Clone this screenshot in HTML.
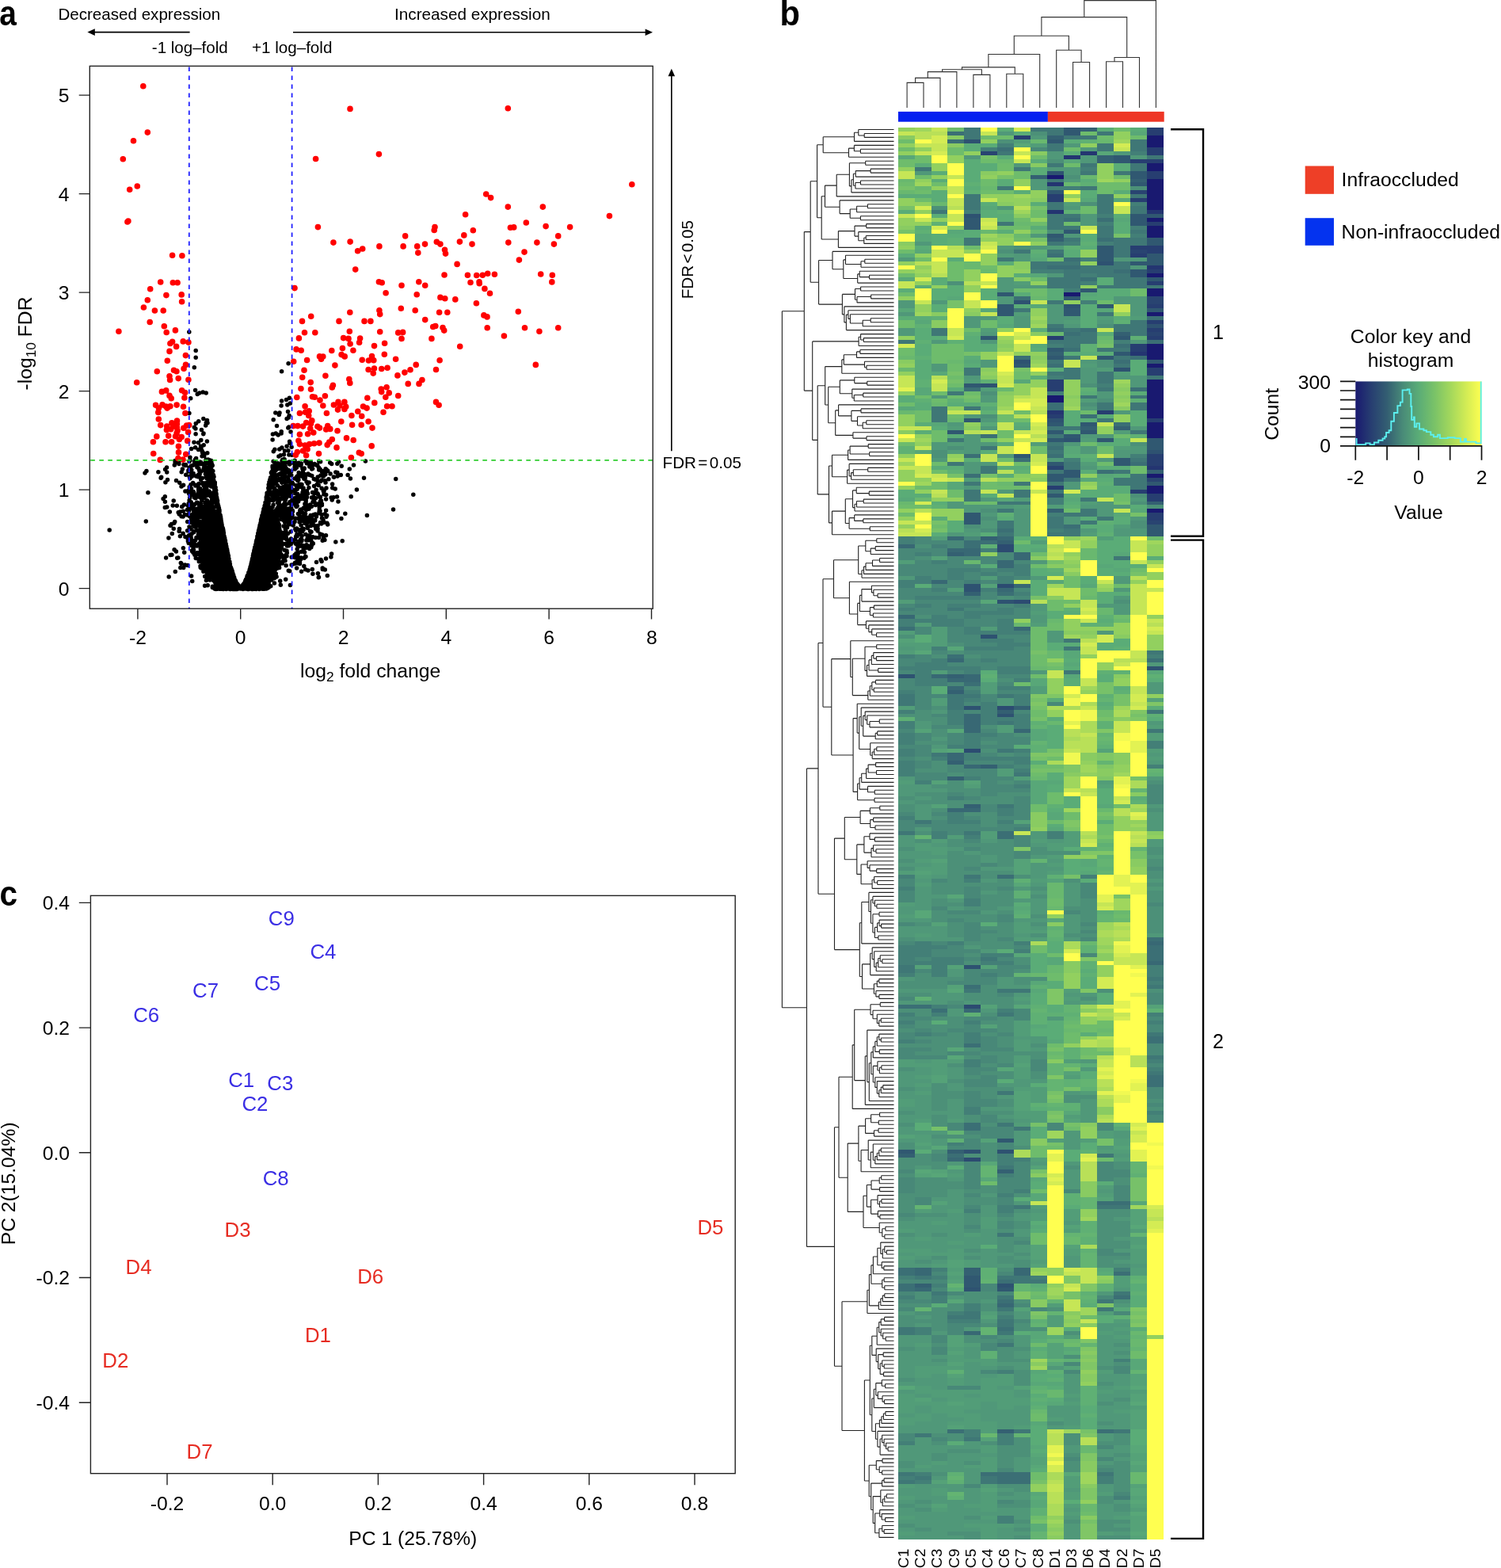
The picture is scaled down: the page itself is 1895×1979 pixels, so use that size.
<!DOCTYPE html>
<html lang="en"><head><meta charset="utf-8"><title>Figure</title>
<style>
html,body{margin:0;padding:0;background:#fff}
body{width:1895px;height:1979px;overflow:hidden}
svg{display:block}
svg text{font-family:'Liberation Sans', sans-serif}
</style></head><body>
<svg width="1895" height="1979" viewBox="0 0 1895 1979">
<g id="panel-a">
<path d="M302.4 742.6L302.4 740.1L300.4 737.6L298.9 735.8L297.1 731.4L294.6 725.2L290.7 712.3L286.7 692.8L283.6 677.2L279.3 655.5L276.9 643L257 643L251.8 667.9L250.5 692.8L254.4 715.2L263.5 730.1L272.5 738.9L284.2 743.2L303.7 744.1z" fill="#000"/>
<path d="M305 742.6L305 740.1L307 737.6L308.5 735.8L310.3 731.4L312.8 725.2L316.9 712.3L321.1 692.8L324.7 677.2L329.6 655.5L332.4 643L350.4 643L355.6 667.9L356.9 692.8L353 715.2L343.9 730.1L334.9 738.9L323.2 743.2L303.7 744.1z" fill="#000"/>
<path d="M315.4 718.2h0M284.4 683.4h0M329.5 660.5h0M312.1 727.9h0M334 641h0M298.1 735.1h0M286.9 695.7h0M297.1 732.4h0M318.1 709.3h0M332.4 647.8h0M321.4 694.1h0M332.5 649.6h0M269 601h0M327.8 674.9h0M292.1 718h0M272.7 618.9h0M286 691.8h0M280.7 668.8h0M297.2 732.8h0M317.3 715.4h0M309.8 733.1h0M324.8 679.3h0M295.2 729.6h0M270.8 610h0M326.4 675.4h0M290.9 718.2h0M318.7 705.1h0M287.1 700.1h0M326.1 674.8h0M273.2 630.8h0M271.9 616.4h0M313.6 725.8h0M296.9 732.5h0M322.7 687.6h0M305.4 742.6h0M306.8 738.5h0M276.3 643.2h0M323.9 683.7h0M342.3 605.2h0M312.8 726.1h0M320 699.7h0M330.3 654.7h0M331.1 657.1h0M287.9 700.3h0M316.1 715.6h0M284.8 689.2h0M341 611.3h0M283.7 685.1h0M306.9 738.1h0M265.9 582.7h0M318.3 706.9h0M333.6 641.6h0M280.1 665h0M336.1 635.7h0M344.1 589.4h0M343.1 596.1h0M340.5 608.8h0M292.6 721.4h0M320.8 695.2h0M326.5 674.8h0M332.3 648.2h0M279.8 661.4h0M278.7 657.9h0M305.2 742h0M289.9 714.7h0M285.8 689.8h0M278.6 652.7h0M288.1 702.4h0M270.9 619.6h0M279.6 659.7h0M280.9 669.4h0M273.9 629.4h0M286.2 700.6h0M292.2 720.4h0M326.8 671h0M335 634.2h0M291.9 717.6h0M344.1 599.7h0M346.2 582.4h0M284.8 687.7h0M321.7 691h0M282.1 671.3h0M322.9 688.9h0M346.6 583.2h0M294.6 725.6h0M287.6 698.8h0M326.9 674.3h0M316 718.4h0M278.1 650.2h0M295.7 729h0M296.5 731.8h0M331 653.1h0M287.2 699.2h0M313.9 724.9h0M309.4 734.4h0M290.3 713.8h0M305.5 739.7h0M278.6 653.4h0M327.7 665.8h0M282.4 672.7h0M273.2 631.3h0M310.9 733.8h0M310.6 731.2h0M312.1 728.9h0M270 601.7h0M327.5 668.2h0M326.5 670.4h0M276.6 654.1h0M305.9 742.4h0M289.4 710.1h0M302.2 741.8h0M309 735.9h0M321.3 693.4h0M271.1 621.1h0M279.4 661h0M276.2 648.1h0M274.6 632.1h0M323.4 684.2h0M276.4 641.2h0M288.4 701.8h0M319.8 699.6h0M328.1 665.1h0M272.3 618.5h0M319.6 701.5h0M286.6 693.3h0M319.9 699.1h0M274 630.6h0M328.1 667.1h0M340.7 609.9h0M292.6 719.7h0M279.1 660.3h0M306.1 742h0M326.6 669.6h0M322.1 691.4h0M302.3 742.3h0M346.5 592.7h0M286.6 695.7h0M276.9 647.2h0M325.7 673.3h0M288.3 702.2h0M329 659.9h0M268.3 599.5h0M266.4 594.8h0M323 687h0M337.1 623h0M331.8 652.4h0M316.3 715.5h0M280 662.1h0M343.2 595.9h0M312 727.9h0M311.9 727.9h0M268.5 599h0M326 675.6h0M310.1 732.6h0M276.1 640.7h0M325.3 677.9h0M344.1 588.2h0M336.2 627.8h0M332.5 647.6h0M271.3 609h0M288.2 702.4h0M274.2 632.2h0M274.3 637.8h0M319.6 701.8h0M330 657.7h0M332.6 645.3h0M323.3 693.8h0M319.7 702.6h0M328.6 661.9h0M335.7 634.6h0M308.1 737.1h0M289.4 710.5h0M288.9 705.2h0M319.8 706.5h0M335.2 634.9h0M310.5 732.9h0M342.7 597.2h0M282.8 689.3h0M346 591.1h0M324 682.1h0M316.8 715.2h0M289.9 709h0M340 609.6h0M323.8 682.3h0M289.1 711.4h0M326.5 676.1h0M310.6 732.5h0M305.5 742h0M301 738.7h0M326.8 673h0M273 623.1h0M322.9 690.9h0M308.3 737.1h0M269.4 599.6h0M312.3 729h0M281.5 670.3h0M326.3 675.1h0M269 605.5h0M284.4 682.2h0M319.6 702.9h0M325.6 678.5h0M339.2 611.8h0M293.2 726h0M313.8 723.3h0M283.8 682.4h0M339.4 616.7h0M332.4 646.1h0M315.1 719.7h0M320.5 701.3h0M305.9 740.8h0M317.9 709.7h0M313.7 726.2h0M330.4 653.6h0M321.6 692.8h0M285.7 692h0M341.6 602.7h0M317.4 710.7h0M282.8 676.9h0M281.6 668h0M275.8 638.9h0M292.4 719h0M293.4 725h0M339.3 612.3h0M276.1 642.2h0M340.8 605.6h0M329.5 658.8h0M313.8 722.7h0M297.5 735.9h0M293.1 723.5h0M286 693h0M332.7 648.3h0M326.6 671.7h0M332.9 642.4h0M280.2 668.4h0M327.7 666h0M312.2 727.8h0M329.9 660h0M337.3 623.9h0M297.1 733.8h0M293.1 720.6h0M266.8 581.4h0M280.1 663h0M287.5 698.1h0M329 660.7h0M308.1 736.6h0M274.1 632.6h0M277 652.7h0M277 649.2h0M286.7 701.5h0M309.5 737.1h0M323.7 685.1h0M332 648.1h0M289.3 709.6h0M312.9 727.1h0M269.1 601.6h0M334.2 638.2h0M297.7 735.5h0M309.9 733.2h0M300.2 740.6h0M318.1 710.3h0M279.2 660.6h0M322.6 692.5h0M310.3 734.8h0M301.3 741.6h0M281.9 669.4h0M308.6 736.3h0M338.6 621.3h0M331.5 653h0M334.1 638.7h0M321.4 700.5h0M337.1 622.2h0M285.1 689.4h0M272.9 634.9h0M277.8 650.3h0M318.1 708.3h0M292.4 719.2h0M313.7 725.3h0M307.2 737.9h0M336.2 630.5h0M333.2 647h0M339.9 610.3h0M268.8 594.6h0M317.8 709.3h0M271.3 611.2h0M312.3 726.8h0M326.1 674h0M319.7 701.1h0M323.2 690.7h0M279.6 661.1h0M326.1 675.8h0M278.9 655.5h0M319.3 709.9h0M328.1 663.1h0M323.3 686.4h0M287.5 700.4h0M273.9 629.8h0M284.3 685h0M295.4 728.7h0M300.8 738.5h0M279.7 661.5h0M329.5 656.6h0M283.8 686.2h0M316.1 717.5h0M290.3 715.2h0M339.2 617.4h0M288.2 704.1h0M321.6 693.8h0M317.1 717.4h0M322.5 689.7h0M317.1 712h0M292.9 726.1h0M326 679.7h0M325 678h0M274.5 640.2h0M333.6 644.9h0M281.8 673h0M336.8 625.7h0M272.8 632.6h0M321.8 691.9h0M338.8 616h0M287.6 702.1h0M282.8 676.3h0M291.4 716.6h0M292.8 726.2h0M278.9 655h0M282.8 679.1h0M292.9 722.8h0M320.2 698.2h0M306 740.4h0M284.7 685.6h0M318.4 706.3h0M287.4 707.2h0M283.7 679.2h0M270.8 611.6h0M330.9 651.6h0M336.4 639.2h0M281.1 666.8h0M286.8 699.3h0M319.9 701.6h0M321.3 693.8h0M326.5 673.2h0M345.1 592.3h0M339.9 608.6h0M313.1 726.2h0M318.8 704.8h0M343.9 596.3h0M274.6 634.4h0M337.9 630.5h0M281.5 671.6h0M319.4 704.7h0M329 662.8h0M328.3 663.1h0M329.8 655.3h0M281.4 666.9h0M274.3 634.9h0M295.9 730.4h0M272.9 632.1h0M278.7 664.2h0M299.6 737.1h0M330.5 657.5h0M288.9 708.5h0M283.1 677.3h0M285.3 698.6h0M321.1 694.2h0M274.4 639.9h0M278.6 654.3h0M321.6 694h0M277 644.1h0M270.5 614.9h0M273.1 629.9h0M289.2 708.2h0M294 726.2h0M308.3 736.6h0M282.6 682.9h0M272.1 615.3h0M322.4 691.1h0M335 638.7h0M313.9 723.4h0M277.1 649.5h0M324.7 679.9h0M266.7 590.8h0M305.3 740.1h0M295.4 728.3h0M290.2 712.3h0M339.5 617.3h0M334.5 640.9h0M334.8 637.3h0M291.2 715.7h0M280 663.9h0M282 671.6h0M292.4 719.1h0M339.8 615.3h0M278.2 650.9h0M273.7 628.8h0M334.2 644.5h0M286.3 692.7h0M275.7 645.2h0M306.1 742.3h0M326.9 674.2h0M297.9 735.8h0M270.4 611.2h0M271.1 612h0M284.3 686.5h0M289.6 710.2h0M319.4 701.4h0M313.3 728.4h0M267.6 597.4h0M290.4 712h0M316.9 713.4h0M282.7 677.5h0M289.5 718.5h0M313.7 725.4h0M285.2 686.8h0M345.1 582.3h0M330.9 650.8h0M346.9 589.4h0M317.6 710.1h0M330.8 652.4h0M279.9 668.4h0M332.7 645.8h0M314.3 723.2h0M275.8 638.9h0M283.3 679h0M319.6 701.2h0M342.4 596.5h0M273.6 627.7h0M297 733.6h0M320.7 701h0M327.9 664.7h0M289.7 711h0M269.1 602.3h0M344.6 592.3h0M281 669.4h0M311 733.4h0M277.6 653h0M326.5 676h0M320.4 698.7h0M328.6 663.1h0M296.7 733.4h0M328.3 665.3h0M319.7 700.9h0M265.4 581.1h0M320.9 695.8h0M286.9 695.1h0M301.9 740h0M305.9 742.3h0M279.2 657.4h0M288.7 707.3h0M292.3 720.3h0M288.9 710.8h0M312.5 728.5h0M318.3 709.3h0M273.2 628h0M297.6 733.6h0M284.7 688.3h0M306.7 740.1h0M280.7 665.5h0M324.1 682.5h0M301.3 741.8h0M293.7 723.1h0M270.4 610.4h0M278.2 656.7h0M300.9 739.3h0M312.8 726h0M333.1 645.6h0M294.3 726h0M328.8 662.7h0M324.9 676.9h0M332.1 646.8h0M344.2 590.3h0M319.4 703.7h0M270.3 612.4h0M268.2 587.6h0M283.8 683.6h0M296 731.4h0M315 720h0M270.6 616.9h0M286.8 699.6h0M285.8 698.3h0M288 702h0M281.8 672.4h0M327.3 667.1h0M292.1 718.6h0M325.2 676.8h0M319.9 703.2h0M276.2 643.9h0M280.5 668h0M321.7 692.3h0M319.1 706.7h0M302.2 740.7h0M280.1 663.1h0M326.8 679.8h0M299.4 743.5h0M284.1 742.9h0M336.5 743h0M292.1 742.7h0M293.2 742.7h0M328.7 741.8h0M326.6 741.2h0M321.1 743.3h0M322.2 741h0M318.6 743.2h0M333.3 741.5h0M268.3 740.2h0M322.7 742.1h0M336.7 742.1h0M308.8 741.3h0M330.3 742.3h0M311.4 742.4h0M300.7 742.5h0M319.6 743.2h0M307.7 742.2h0M295.5 742.4h0M328.7 741.2h0M303.7 742.7h0M289.7 743.3h0M278.4 741.8h0M274.3 742.7h0M333.7 742.3h0M327.8 741h0M336.5 742.7h0M333 742.1h0M268.8 740.7h0M303.5 743h0M333.7 743.3h0M339.3 740.5h0M304.9 741.3h0M295.8 743.4h0M293.5 742.4h0M335.7 742.5h0M316.3 742.9h0M294.7 743.5h0M296.6 741.8h0M330.8 742.9h0M336.9 741.4h0M312.6 743.5h0M339.1 741.4h0M326.3 742.1h0M280.2 741.9h0M327 739.8h0M304.6 741.2h0M317.3 741.6h0M326.6 740.5h0M298.1 743.4h0M279.2 743.2h0M304 741.9h0M281.4 742.7h0M311.1 741.7h0M293.2 741.5h0M271 743h0M297.4 743.3h0M317.3 742.4h0M268.3 741.4h0M309.9 740.9h0M315.7 743h0M307.5 741.9h0M287 742.5h0M339.2 740.9h0M309 743h0M279.2 743.2h0M322.2 743.1h0M280.2 743.2h0M305.3 742.7h0M325.6 741.8h0M272.4 740.8h0M291.1 743.4h0M319.1 743h0M287 742.9h0M275.1 742h0M292.9 742.5h0M300.1 743.2h0M331.6 743.3h0M309.6 742h0M312.3 743.2h0M285.8 740.3h0M329 742.7h0M290.5 741.4h0M289.7 742h0M311 741.9h0M335.8 742.8h0M285.3 741.8h0M283.8 742.1h0M290.1 742.4h0M324.6 742.4h0M285.4 742.9h0M281.3 742.3h0M337.4 742.4h0M276.2 741.7h0M306.1 742.5h0M272.7 742.4h0M276.8 743h0M285.5 742.4h0M281.7 743.4h0M270.5 741.9h0M315.4 743.1h0M318.4 742.9h0M274.6 743.2h0M277.1 740.8h0M299.7 742.2h0M279.4 741.3h0M293.2 743.3h0M336.4 741.7h0M282.9 741.9h0M284.2 743.1h0M300.3 742h0M286.6 741.9h0M332.2 742.4h0M285.6 742.8h0M311.4 742.9h0M276.8 740.6h0M304.6 742.5h0M323.1 743.3h0M295.5 742.5h0M290.2 742h0M295.8 742.8h0M328.8 743.1h0M290.9 743.2h0M308.1 743h0M293.8 742.3h0M272.7 743.4h0M290.2 743.5h0M319.2 742.8h0M288.2 740.9h0M323.3 741.7h0M331 743.1h0M287.7 743h0M270.1 742h0M293.1 741.6h0M297.5 742.3h0M285.7 741.6h0M328.5 742.3h0M281 741.9h0M276.2 741.5h0M318.9 742.3h0M270.9 742.2h0M282.1 743.4h0M289.6 743.3h0M290.2 743.3h0M313.6 742.4h0M308.7 741h0M319.2 743.5h0M316.9 742h0M292.9 740.8h0M323.4 743.6h0M288.4 740.8h0M311.4 742.8h0M271.4 743.2h0M324.5 742.9h0M283 741.5h0M274.2 742.3h0M317.6 741.7h0M327.2 742.1h0M288.1 740.5h0M298.3 741.7h0M334.4 742.6h0M327.3 741.3h0M312.8 743.1h0M317.9 743.5h0M298.6 740.2h0M277.1 743.3h0M322.4 741.4h0M325.5 743h0M286.7 739.8h0M313.5 742.5h0M306.8 743.6h0M293.6 743.1h0M297.4 743.2h0M277.8 742.4h0M318.5 743.1h0M285.3 742.6h0M304.8 740.3h0M293.1 742.4h0M289.4 743h0M308.2 743h0M291.8 742.8h0M322.3 741.9h0M280.1 742.6h0M300.9 741.8h0M322.7 743.2h0M288.7 743h0M293.7 743.5h0M288.1 743.1h0M282.1 743.1h0M276.1 742h0M291.2 742.2h0M280 743.3h0M273.1 738.8h0M321.6 743.3h0M274 742.7h0M308.2 739.5h0M275.8 742h0M281.6 743.5h0M306.8 740.2h0M314 743.4h0M312.8 741.6h0M286 742.7h0M285.6 743.4h0M323.3 743.3h0M327.9 743.3h0M313.6 742.7h0M328.4 742.8h0M324 743.2h0M327.3 743.5h0M281.2 742.3h0M326.9 743h0M307.4 742.3h0M294.4 743.1h0M271 742.1h0M308.5 741.7h0M318.4 741.6h0M332.6 742h0M303.7 743h0M353 631.3h0M243.9 652.8h0M266.3 622.2h0M260.8 615.8h0M356.5 621.3h0M352.3 621h0M368.7 619.7h0M239 582.6h0M250.5 648.6h0M254.8 631.5h0M251.7 618.2h0M347.7 604h0M344.6 605.3h0M256.4 622.9h0M273.1 624.3h0M351.7 588.7h0M339.8 614.6h0M257.1 644.8h0M261.3 647.2h0M364.4 621.2h0M270.8 624.7h0M246.6 612.3h0M265.7 637.6h0M242 622.2h0M240.8 612.3h0M343.4 599.1h0M367.8 599.7h0M267.5 604.2h0M363.4 620.7h0M334.1 651.4h0M255.4 639.6h0M345 603.3h0M351.3 589.7h0M349.9 642.1h0M357 593.9h0M242.6 624.6h0M338.4 629.2h0M348.5 626.9h0M263.5 625h0M343.1 611.1h0M340.2 616.9h0M239.2 614.8h0M360.7 612.5h0M252.3 597h0M266.4 626.8h0M240 589.9h0M359.4 597.8h0M263.6 607.1h0M369.4 629.6h0M339.1 635.4h0M259.8 620.2h0M270.9 631.1h0M342.1 631.2h0M369.4 611h0M336.3 651.3h0M353.9 638.5h0M269.8 606.2h0M253.6 583.4h0M351.3 639.4h0M355.8 598.9h0M343.3 603.9h0M257.8 628.8h0M259.1 634.4h0M352.4 586.1h0M253 648.9h0M360.5 642.7h0M346.7 594.2h0M255.4 610.5h0M264.4 609.5h0M249.1 634.3h0M265.3 596.9h0M259.5 582.4h0M356 618.6h0M276.6 646.5h0M349.9 648.6h0M239.9 639.8h0M359.3 640.1h0M238.2 635.4h0M245.5 628.1h0M251.8 648.2h0M240.8 623.4h0M267.6 636.8h0M339 621.6h0M355.5 598.1h0M243 641.6h0M259.5 609.8h0M246.4 626.9h0M243 639.8h0M334.1 651.2h0M271 645.9h0M264.1 646.4h0M242.3 601.2h0M361.5 636h0M257.4 650.2h0M258.1 644.3h0M248 642.3h0M263.5 644.8h0M365.2 583.1h0M340.3 640.2h0M350.1 649.8h0M344.3 612.8h0M355.9 603.3h0M250 613.3h0M248.9 589.8h0M346.5 630h0M262.2 625h0M267.5 586.1h0M268.1 625.7h0M363.6 644.6h0M249.8 649.4h0M351.7 606.3h0M257.2 591.3h0M262.5 599.3h0M256.6 624.5h0M264.8 604.1h0M268.8 613.7h0M241.2 633.8h0M258.6 615.3h0M367 642.7h0M348.2 593.6h0M241.8 593.2h0M363.1 625.4h0M339.8 641.9h0M362 627.2h0M357.6 581h0M361.8 618.4h0M250.4 642.1h0M339.2 615.4h0M345 628.4h0M352.6 638.5h0M358.6 640.1h0M339.4 629.6h0M252.1 646.4h0M260.7 638.4h0M262.8 608.3h0M344.4 621h0M261.3 631.6h0M263.6 594.4h0M262.8 601.6h0M256.6 625.6h0M360.1 587.9h0M348.3 610.2h0M346.4 592.3h0M347.4 588.7h0M362.8 616h0M246.8 613h0M268.9 644.4h0M352.4 598.6h0M358.3 603.8h0M357.5 649h0M369.8 610.8h0M264.3 642.5h0M339.9 630.4h0M257.2 612.8h0M341.9 649.3h0M351.3 649.2h0M349.3 619.4h0M245.5 626.6h0M352 586.6h0M351.1 630.3h0M342.7 612.2h0M253.9 595h0M347.6 585.5h0M260.3 648.8h0M240.6 640h0M250.6 617h0M269.2 631.7h0M361.2 646.1h0M251.2 623h0M357.3 587.5h0M357.7 648.9h0M342.5 610.9h0M245.6 642h0M259.1 646.2h0M250.4 621.9h0M239.9 581h0M359.9 627.8h0M353.7 590.6h0M272.1 646.6h0M253.6 650.6h0M239.7 628.1h0M347.8 628.9h0M255.5 646.1h0M259.2 610h0M254.5 643.4h0M356.3 625.9h0M258.4 589.9h0M351.2 641.1h0M269.8 626.5h0M334.8 638.3h0M349.9 590h0M239.8 651.9h0M250 611.8h0M345.5 650.7h0M253.8 636.1h0M261.4 623.2h0M359.2 635.3h0M263.9 642h0M338.5 638.6h0M369.8 582.5h0M361 617h0M252.1 598.7h0M363.7 607.8h0M343.7 601.2h0M356.7 583.2h0M244.4 643.2h0M244.2 599.2h0M244.5 621.5h0M239.1 631.4h0M238.8 644.6h0M339.2 619.9h0M357.2 587.4h0M246.2 624.7h0M239.8 603.7h0M355.9 646.7h0M253.8 628.4h0M334.1 651.8h0M253.4 622.7h0M338.3 628.7h0M354.6 592h0M340.6 646.6h0M251.1 621h0M250.3 644.2h0M354.2 588.7h0M257.6 624.5h0M256.5 641.2h0M367.7 640.3h0M263.6 634.8h0M364.4 613.1h0M365.6 585.9h0M347.5 607.9h0M251.1 626.8h0M256.7 625.8h0M257.7 587.5h0M255.3 603.6h0M365.5 598.7h0M264.7 650.4h0M355.5 599h0M238.4 622.6h0M262.4 604.1h0M249.9 601.7h0M352.8 641.3h0M263.8 595.6h0M265.2 640.6h0M345.1 631.5h0M345.2 624.5h0M269.5 633.7h0M244.1 620.4h0M271.6 630.2h0M255.3 619h0M266.7 598.6h0M351 586.7h0M244.5 650h0M351.7 647.9h0M261.1 604h0M265.4 644.9h0M252.2 583.1h0M261.9 597h0M264 599.3h0M343.7 594.8h0M351.1 590h0M346.3 648.2h0M250.9 591.4h0M254.7 623.8h0M361.4 592h0M250.7 642h0M241.6 616.8h0M251.6 593.7h0M249.4 643.5h0M266.7 608.7h0M245.5 582.6h0M266.7 642.9h0M352 620.8h0M343.3 607.5h0M244 637.9h0M246.4 650.8h0M346.7 616.5h0M358.8 607.5h0M257.1 624.1h0M242.8 636.6h0M264.5 583.5h0M258.5 647.8h0M357.1 620.2h0M264 620.1h0M341 623.9h0M350.4 599.8h0M358 638.7h0M352.2 633.8h0M247.7 582.7h0M248.7 586.5h0M269.5 648.4h0M358.7 590.6h0M263.4 633.9h0M344 640.3h0M259.4 594.9h0M335.9 645.3h0M237.9 618.9h0M350.1 612.3h0M239.7 601.7h0M345.1 600.1h0M353.2 637.5h0M363.1 652.3h0M365.4 649.8h0M354.8 629.6h0M252 618h0M366.1 635.4h0M353.2 620h0M260.1 601.9h0M356.7 624.1h0M251.6 635.6h0M272 618.9h0M362.8 596.1h0M274 650.2h0M252 585.8h0M271.6 634h0M257.1 641.2h0M365.5 596.1h0M352 591.5h0M252.8 616.7h0M341.4 613.6h0M359.6 652.4h0M362.3 593.1h0M369 645h0M359 646.2h0M360.3 631.1h0M369 609.2h0M334.2 647.5h0M256.8 609.7h0M354.2 623.5h0M248.3 586.8h0M244.1 587h0M363.9 603.8h0M239.8 640h0M265.6 634.7h0M356 582.1h0M244.1 597.9h0M267.7 633.2h0M338.9 651.4h0M264.5 586.5h0M241.9 597h0M256.1 626.4h0M256.4 641.3h0M240 614.1h0M357.4 603.4h0M267.7 598.6h0M357.5 651h0M368.5 634.2h0M253.7 605.6h0M344.2 651.9h0M349.5 644.8h0M266.7 603.3h0M273.7 640.1h0M357.4 623.4h0M243.3 636.6h0M251.1 610.6h0M333.6 642.6h0M251.5 625.3h0M275.1 636.8h0M248.7 626.7h0M345.1 637.1h0M348.6 606.6h0M251 649.3h0M348.2 644.6h0M273 646.2h0M338.9 640.4h0M367.3 619.1h0M359.6 636.9h0M239 590.1h0M350.8 584.8h0M366.8 633.8h0M259.5 647.6h0M356.3 638.1h0M369.3 644.3h0M355.9 652.2h0M258.8 651.2h0M268.3 614.2h0M355.9 609.3h0M367.7 594.9h0M347.3 650.4h0M359.8 639.1h0M261.6 585.1h0M367.8 616h0M269 608.1h0M237.5 638.4h0M356.6 628.2h0M253.3 652.9h0M352.3 620.2h0M268.1 643h0M353.1 615.3h0M268.3 648.8h0M347.9 610.7h0M356.3 588.8h0M266.9 583.9h0M277 645.4h0M368.6 632.1h0M363.8 614.7h0M353.3 605.4h0M352.6 588.1h0M350.7 626.5h0M247.9 647.7h0M250.7 618.9h0M258.6 652.3h0M251.7 601.8h0M361.3 583.7h0M251 627h0M268.8 643.7h0M346.6 623.6h0M367.6 610.9h0M347.3 602.1h0M262.9 641.3h0M244.1 597.6h0M267.4 631.2h0M243.6 609.6h0M266.8 600.6h0M336.6 652.6h0M268.5 652.7h0M342.5 615.2h0M340.1 618.4h0M336.2 646.9h0M357.7 607.9h0M359 595.8h0M345.2 602.9h0M245.7 636.4h0M254.2 646.2h0M362 601.9h0M274 636.3h0M267.3 635.6h0M358.8 614.5h0M357.5 606.8h0M360.7 636.6h0M239.2 601.2h0M358.7 630.2h0M259.2 589.6h0M350.1 644.3h0M248.9 626.8h0M349.1 625h0M358.3 618.5h0M259.8 626.1h0M252.8 585.5h0M355.3 620.1h0M369.1 650.3h0M354.6 619.3h0M359.9 648h0M336.3 647.9h0M346.8 597.7h0M339.4 644.1h0M267.3 644.5h0M241.4 588.6h0M266.1 609.3h0M359.2 601.3h0M267.8 628.5h0M270.8 629.8h0M270.2 628.3h0M364.4 593.6h0M354.1 597.8h0M264.6 584.2h0M267 593.8h0M343.9 625.9h0M338.8 645h0M252.2 623.3h0M267.9 598.4h0M237.9 594.9h0M267.6 594.3h0M250.5 599.2h0M242.7 649.5h0M361.2 628.5h0M361.7 651.1h0M332.4 647.9h0M259.1 638.6h0M258.8 588.4h0M265.2 600h0M256.9 593.1h0M365.1 622.9h0M344.3 626.8h0M254 650.4h0M346.9 601.2h0M362.7 615.1h0M359.6 636.9h0M242.2 637.1h0M358.2 625.5h0M265.6 638.4h0M250.8 616.8h0M369.9 583.9h0M241.1 639.7h0M263.2 590.2h0M241.5 588.1h0M255.2 585.6h0M362 607.4h0M340.1 609.5h0M350.3 622.6h0M359.8 601.2h0M350.5 634.5h0M247.6 600.9h0M266.8 601.6h0M356.9 595.4h0M355.4 619.7h0M246.9 628.7h0M336.1 638.6h0M341.9 608.3h0M350 630.2h0M347.4 618.3h0M239.7 617.8h0M357.9 647.7h0M263.5 623.8h0M357.5 627.5h0M364.4 642h0M359 591.6h0M366.7 607.5h0M352 631.4h0M361.5 591.5h0M264.1 604.1h0M261.5 613.3h0M365.8 644.6h0M349 629.6h0M252 585.8h0M345.2 628.9h0M267.3 596.2h0M344.3 625h0M266.6 614h0M270 651.4h0M340.3 648.8h0M241.1 601h0M270 621.6h0M262.2 591h0M360 589.9h0M354.2 639.9h0M263.2 582.9h0M262 621.6h0M368.9 636.2h0M270.5 640.3h0M359.3 627.6h0M357.1 614.7h0M361.5 621.2h0M242.3 620.4h0M367.6 624.4h0M357.5 625.3h0M361.3 595h0M245.6 652.6h0M352.6 604.6h0M239.1 623.4h0M265 608.5h0M366 633.5h0M237.9 593.7h0M243.2 641.5h0M241.2 611.6h0M266.6 645.5h0M347.4 590h0M248.4 634.4h0M257.9 645.9h0M251.4 637.5h0M366.7 626.2h0M254.7 622.1h0M259.4 598.2h0M239.5 624h0M238 649.1h0M252.1 643.5h0M363.9 646.7h0M348.5 619.4h0M263.9 600.3h0M272.2 639.6h0M267.4 728.4h0M268.2 707.4h0M244.4 694.1h0M341.4 651.5h0M237.3 680.6h0M241.8 688.4h0M265.6 667.8h0M369.7 660.2h0M354.1 673.7h0M338.2 723.8h0M343.2 692.2h0M362.1 686.3h0M269.1 644.8h0M259.8 646.2h0M273.4 709.6h0M343.8 728.1h0M238.2 685.4h0M357.2 647.9h0M248.8 656.3h0M344.4 681.4h0M340.8 686.4h0M236.5 650.1h0M272.6 739.9h0M344.9 646h0M258.6 739.3h0M274 660.1h0M348.4 646.3h0M242.7 733.6h0M343.3 667.6h0M358.2 704.7h0M236.4 643.6h0M342.7 652.7h0M338.6 724.8h0M268.4 662.3h0M253 684.3h0M333.5 687.3h0M342 699.1h0M347.7 693.7h0M341.4 665.8h0M257.2 659.1h0M251.4 650.4h0M336.1 733.4h0M345.3 710.5h0M258.1 671.5h0M337.6 735.7h0M268.5 677.2h0M360.4 668h0M340.5 701.4h0M341.4 675h0M349.4 673.3h0M353.7 733.3h0M351.9 675.1h0M252.4 672.4h0M335 708.8h0M261.2 669.9h0M247.2 704.5h0M349.7 645.1h0M360.7 731.2h0M358.6 703.2h0M346.4 736h0M237.4 683h0M267 685.2h0M261.6 693.2h0M355.4 690.5h0M352.2 713.2h0M249.1 699.4h0M343.5 688.5h0M244.6 671.8h0M348.3 711.9h0M256 660.6h0M257.2 719.4h0M346.7 710.4h0M266.6 668.9h0M358 663.9h0M247.9 678.4h0M248.8 689.1h0M265.7 662h0M343.2 704.3h0M367.2 671h0M258.4 697.5h0M339.9 645.5h0M258.1 653.6h0M347.3 665.1h0M349.7 652.4h0M342.7 682.3h0M347.4 702.2h0M267.3 679.5h0M356.3 674.6h0M365.7 720.7h0M354.9 683.2h0M269.8 690.6h0M348.9 709.9h0M337.3 652.5h0M273 703.5h0M264.2 661.4h0M259.7 686.9h0M264.5 730h0M333 719.5h0M340.9 656.5h0M261.6 705.4h0M263.6 685.4h0M347 647.3h0M353.3 676.4h0M346.7 647.2h0M341.8 700.7h0M242.6 695.7h0M334 668.9h0M359 646.8h0M256.4 691.8h0M338.1 677.5h0M252.6 664.4h0M257.3 704.8h0M249.5 660.3h0M334.2 680.7h0M246.6 645.7h0M339.7 658h0M273.9 689.5h0M266.7 656.4h0M273.5 707.2h0M335.7 733.7h0M268.4 728.4h0M368.1 713h0M244 697.4h0M363.9 650.1h0M271 718h0M251 686.5h0M267 695.8h0M348.1 672.6h0M273.5 691.4h0M241 667.7h0M346.2 719.7h0M258.9 676.2h0M266.9 663.7h0M351.4 678.4h0M341.2 683.9h0M251.5 686.5h0M248.5 663.7h0M248.7 697.7h0M270.6 721.7h0M338.6 690.6h0M347.8 656h0M349.7 687.9h0M273.9 658.8h0M273 720.8h0M253.9 684.8h0M344.6 664.3h0M335.4 693.5h0M268.6 673h0M270.6 668.9h0M272.6 655.6h0M342.6 731.9h0M342.5 692.6h0M347.1 695.3h0M270.1 669.9h0M348.7 666.6h0M262.5 702h0M352.5 648.1h0M362.3 697.7h0M267.7 693.9h0M348.5 653.6h0M256.8 685.8h0M253.2 716.3h0M260.4 732.4h0M269.5 694.5h0M360.8 670.9h0M358.1 677.7h0M269.6 707.4h0M270.1 661.6h0M267.6 704.3h0M348.8 691.4h0M344.4 689.3h0M257.8 702.9h0M345.2 646h0M259.4 659.3h0M270.3 713h0M343.5 666h0M349.2 689.7h0M265.4 653h0M273.2 699.7h0M344.5 651.2h0M272.1 671.1h0M262.9 729.5h0M340.4 731.3h0M270.6 656.3h0M355.4 672.8h0M255.5 713.1h0M343.7 697.7h0M264 711.1h0M258.7 703.8h0M236.9 713.5h0M357.7 643.2h0M271.4 685.9h0M264.6 723.1h0M256.8 721.3h0M359.2 677h0M359.6 703.7h0M259.1 677h0M267.3 690.1h0M244.7 646.4h0M242.4 694.9h0M360.3 668h0M240.8 659.2h0M351.1 663.6h0M268 675.1h0M341 685h0M338.8 730.2h0M264.3 710.7h0M347.3 656.4h0M341.7 646.8h0M336.7 737.8h0M255.2 683.6h0M269.7 654h0M243.4 686.7h0M343.1 687.7h0M251.6 679.1h0M252.8 661.2h0M347.1 650h0M360 707.7h0M238.6 675.8h0M362 695.3h0M345.7 692.2h0M257.4 643.3h0M267.9 678.8h0M271.6 723.2h0M262.8 717h0M357.6 701.7h0M251.3 708.7h0M261.6 720.4h0M335 731h0M359.6 658.9h0M252.1 658.8h0M336.8 700.8h0M251.6 662.4h0M366.3 681.9h0M272.7 666.5h0M263.9 675.5h0M263.2 703.3h0M261.8 680.2h0M252.8 650h0M360.7 686.5h0M256.2 679.6h0M247.5 688.3h0M262.2 738.8h0M334.1 663.4h0M265.4 662.4h0M252 708.5h0M261.2 702.7h0M272 650h0M338 725h0M355.1 672.1h0M352.3 662.3h0M364.3 660.4h0M363.9 648.9h0M362.5 665.7h0M262.5 650.7h0M242 673.7h0M264.9 713.3h0M241.6 727h0M358.7 672.4h0M362.2 664.5h0M343.7 730.6h0M243.3 694.8h0M346.3 729.8h0M265 732h0M258.8 655.3h0M244.5 670.8h0M269.6 672.2h0M343.7 711.7h0M262 719.3h0M357.4 656.2h0M368.2 703.2h0M264.7 656.4h0M361.3 678.3h0M262.7 676h0M257.4 712.2h0M367.6 651.5h0M338.2 646.5h0M241.1 677.9h0M333.9 643.9h0M260.2 660.5h0M341.4 645.1h0M355 699.8h0M250.2 648.3h0M335.5 729.7h0M257.4 683.5h0M261.1 699.9h0M264.9 698.8h0M350 692.2h0M266.6 685.4h0M346.1 724.7h0M265.4 653.8h0M253.9 697.2h0M272 736h0M259.9 673.2h0M262.9 660.5h0M358 686.4h0M263.8 679.4h0M340 717.5h0M350.3 660.9h0M253 702h0M358.6 645.5h0M270.7 678.1h0M362.9 655.8h0M265.6 710.8h0M243.3 684.5h0M266.5 709.5h0M245.6 686.7h0M257.5 678.3h0M266.6 675.2h0M246.6 682.1h0M346 709.9h0M337.4 669.1h0M270.8 725.8h0M343.2 690.1h0M263.6 649h0M253 672.6h0M340.5 708.9h0M333.8 652.9h0M274 710.1h0M266.4 713.7h0M337.5 704.4h0M362.5 689h0M261.9 693.9h0M356.2 654.1h0M254 717h0M255.4 706.1h0M338.6 728.7h0M269.6 656.5h0M350.9 665.8h0M259.3 707.3h0M270 648.7h0M245.8 664.9h0M262.3 669.9h0M245.7 700.2h0M347.6 649.5h0M243.4 694.3h0M333.9 687.2h0M369.2 645.5h0M360.8 671.7h0M264 661h0M343.3 650.4h0M258.7 727.4h0M335.1 699.4h0M349 655h0M350.5 716.9h0M240.4 684.8h0M266.3 644.1h0M344.9 708.2h0M334.2 699.5h0M262.9 666.4h0M261.3 723.8h0M254.7 664.4h0M249.7 650.7h0M255.6 682.9h0M269.6 684.5h0M349.5 699.2h0M259.5 705h0M348 670h0M347 682.6h0M366.4 738.6h0M345.3 694.9h0M364.9 653.4h0M341.8 702.5h0M241.6 656.3h0M370.6 682.5h0M335.2 726h0M368.6 653.5h0M349 683h0M360.9 649.9h0M346 717.9h0M257.7 708.6h0M262 647.7h0M273.2 706.8h0M339.5 685.7h0M367.4 680.1h0M343.5 683.2h0M264.5 725h0M339.2 651.9h0M341.1 727.3h0M362 701.7h0M348.1 694h0M258.2 652.4h0M264.1 703.1h0M346.7 654.1h0M254.3 695.4h0M345.8 722.9h0M274.4 687.3h0M271.9 698h0M344.1 716h0M249.5 654.2h0M339.2 735.8h0M364.4 688.8h0M265.2 698.4h0M261.4 667h0M342.7 644.8h0M270.6 711.3h0M370.4 661.9h0M264.1 712.7h0M334.6 644.5h0M267.3 706.1h0M342.4 649.7h0M358.1 679h0M352.6 716.6h0M360.7 686.3h0M272.9 694.6h0M269.6 664.2h0M359.3 657.5h0M363.3 673.5h0M348.3 724.1h0M354 702.7h0M366 649.5h0M254 665.8h0M270 684.5h0M336.8 687.8h0M244 662.9h0M268.9 709.3h0M260.3 672.8h0M262.2 707.1h0M264 704.9h0M262.8 662.3h0M253.3 688.7h0M253.2 700.3h0M336.8 650.8h0M357.4 674.8h0M268.5 665.3h0M245.9 652.6h0M343.5 693.6h0M248.4 664.1h0M351.5 669h0M363.7 685.5h0M274.2 646.9h0M255.8 670.8h0M261.6 725.7h0M260.2 660.2h0M272.8 677.1h0M335.9 696.6h0M253.1 658.7h0M356 710.2h0M369.5 645.4h0M269.8 732.8h0M349.1 727.9h0M266 647h0M256.7 694.4h0M366.6 656.6h0M255.8 660.9h0M361.1 713.8h0M262.8 708.1h0M355.5 646.3h0M270.5 649.2h0M353.4 643.1h0M273.5 715.5h0M253 714.5h0M368.7 684h0M342.7 648.4h0M342 683.6h0M270.9 676.7h0M370 662.9h0M254.6 713.4h0M248.8 669.2h0M253.1 700.4h0M268.9 684.3h0M267.4 697.4h0M349.3 682.7h0M365.9 661.7h0M274.3 723.2h0M260.5 682h0M342 698.2h0M266.5 644.9h0M337 672.7h0M339.1 694h0M345.3 672.1h0M270.6 722.2h0M260.3 675.1h0M361.9 680.7h0M359.2 694.2h0M267.4 699h0M367.2 686.7h0M266 708.2h0M265 668.4h0M259.5 643.1h0M249.5 697.7h0M261.3 720.4h0M238.9 678.9h0M334.3 733.2h0M348.7 657h0M250.8 705.4h0M356.2 711.1h0M257.7 699.2h0M239.3 650.9h0M273.1 726.4h0M250.3 674.8h0M346.3 707h0M367.5 645.1h0M337.2 699.6h0M244.3 661.5h0M274 728.4h0M364.7 658.3h0M252.2 662.3h0M239 664.9h0M341.6 667.2h0M245.1 689.6h0M361.4 700h0M262.7 653.9h0M252.5 668.5h0M335.8 685h0M337.6 709.9h0M360.9 670.5h0M264.4 723.4h0M355 651.8h0M244.4 683.3h0M341.4 729.2h0M273.7 727.4h0M346.7 699.9h0M341.8 739.8h0M364.3 720.2h0M354.4 691.5h0M356.6 709.1h0M250.7 679.1h0M333.5 733.4h0M261.2 723.4h0M364.3 656.6h0M265.5 674.7h0M245.7 657.2h0M339.4 688.2h0M335.9 725.8h0M358 654h0M342.1 665.1h0M261.5 688.7h0M258.3 701.7h0M236.7 658.6h0M250.1 670.5h0M245.4 645.9h0M349.7 684.9h0M341.4 664.2h0M258.1 692.6h0M236.6 669.7h0M260.8 696.7h0M353.3 694.5h0M346.2 697h0M259.6 688.6h0M354.3 738.3h0M345.1 706h0M244 692.2h0M340.8 727.2h0M347.7 701.3h0M252.5 697.5h0M251.7 677.8h0M273.1 707.6h0M252.2 688.2h0M347.2 667.8h0M341.4 653.3h0M335.8 662.8h0M360.2 664.1h0M354.9 655.2h0M241.5 680.9h0M272.6 682.4h0M265.3 724.1h0M355.2 690.4h0M338.3 694.5h0M262.7 687.9h0M404.2 592.3h0M427.6 583h0M396.4 662.9h0M383.2 691.8h0M374.2 709.4h0M430.9 654.5h0M391 652.8h0M375.7 688.4h0M388.9 583h0M374.6 666.9h0M389.1 599.1h0M380.6 696.2h0M375.3 584.9h0M406.1 649.6h0M401.1 663.5h0M392.6 681.2h0M418.7 585.4h0M426.1 601h0M406.1 616.3h0M405.9 659.5h0M372.8 710.8h0M401.2 602h0M392.8 690.7h0M375.5 600.7h0M408.9 596.2h0M403 646.1h0M374.1 639.5h0M373.7 638.5h0M404.5 632.6h0M383.2 692.7h0M378.1 611.2h0M396.4 586.2h0M379.2 643.3h0M374.4 602.3h0M406.9 675.1h0M404.6 582.7h0M386.1 634.8h0M386.9 682.1h0M404.5 659.4h0M373.1 654.3h0M377.2 683.2h0M412.9 660.3h0M401.3 636.1h0M376.9 653.9h0M392.2 650.6h0M379.6 655.5h0M402.3 590h0M376 602.2h0M376.3 628.7h0M387.1 628.1h0M381.3 642.7h0M372.1 634.5h0M378.7 644.6h0M402.7 592.9h0M387.7 660.1h0M393.9 660.8h0M374.3 590.2h0M373.6 677.3h0M372 700.6h0M395 659.1h0M394.6 591.6h0M383.5 641h0M398.1 605.3h0M378.4 711.6h0M376.7 648.7h0M393.7 592h0M408.5 600.9h0M411 609.1h0M380.1 600.8h0M384.6 624.9h0M381.7 646.9h0M372.3 587.6h0M396.4 633.6h0M410.3 718.9h0M398.1 649h0M384.2 704.3h0M386.2 631.2h0M379.4 689h0M401.1 667.3h0M376.2 706.6h0M391 657.8h0M377.4 689.6h0M380.3 585h0M376.9 684.5h0M406.4 637.4h0M411.9 652.2h0M376.3 702.8h0M376.7 683.9h0M385.3 602.9h0M401.5 624.1h0M385.4 656.6h0M394.9 724.3h0M405.1 706.5h0M393.6 687.9h0M385.2 639.8h0M409.1 619.4h0M377.5 649.1h0M423.2 617h0M383 668.8h0M389.5 676.1h0M421.1 627.7h0M397.7 657h0M387.6 627.6h0M378.8 630h0M406.6 595.4h0M425.8 585.2h0M384.2 591h0M421.6 602.3h0M388.9 719.9h0M388.3 666.6h0M393.3 639.2h0M425.9 596.4h0M381.1 681.4h0M392.7 659.5h0M387.3 584.7h0M408.3 619.8h0M397.1 585.4h0M410.3 606.7h0M388.5 623.1h0M435.8 648.3h0M385.2 630.2h0M396.5 613.4h0M394.3 718.6h0M381 676.6h0M412.7 650.5h0M406.4 636h0M400 587.2h0M383 688.7h0M376.8 654.5h0M380.6 721.3h0M399.5 709.6h0M382.9 667.2h0M372.8 667.7h0M401 670h0M393.8 587.8h0M374.7 701.7h0M395 677.7h0M397.3 622.4h0M411.5 675.7h0M381.9 591.6h0M380.8 682.7h0M399.5 650.5h0M379.7 668.7h0M411.7 624.4h0M379.6 646.9h0M400.9 622.8h0M388.2 679.2h0M408.5 594.5h0M373.9 702.8h0M390.1 609.1h0M381.7 629.2h0M405.5 632.1h0M388 664.3h0M393.6 588.8h0M386 674.4h0M379.4 614.5h0M380.8 601h0M390.2 653.5h0M390.7 692.5h0M375.4 627.5h0M385.7 654.1h0M439.1 599.5h0M390.8 589h0M375 710.8h0M377 584.3h0M398.3 637.6h0M398.7 665h0M385.5 648.3h0M378.8 689.1h0M411.6 644.3h0M410 599.3h0M381.6 688.8h0M406.2 606h0M381.9 647.2h0M409.9 681.5h0M399.4 652h0M387 607.9h0M376.9 684.5h0M388.5 610.3h0M410.2 624.3h0M385.2 659.5h0M372.1 589.6h0M398.8 667.4h0M393.8 654.6h0M387 687.7h0M396.3 604.5h0M377.7 705.8h0M373.9 632.5h0M376.9 605.4h0M378.1 659h0M391.1 637.9h0M408.9 623.8h0M393.6 628.1h0M378.8 670.8h0M411.9 616.1h0M403.3 640.5h0M376.2 585.4h0M431.2 588.2h0M398.5 628.7h0M414.9 604.7h0M381.5 671.1h0M400.3 611.3h0M391 599.6h0M383.9 604.3h0M374.6 717h0M374.1 617.5h0M386.3 628.9h0M402.9 647.5h0M391.4 588.4h0M405.8 661.1h0M373.5 668.6h0M376.7 626.7h0M384.2 591.4h0M374.2 677.3h0M426.3 600.8h0M385.5 702.8h0M372.1 658.4h0M421.3 601.9h0M381.4 653.3h0M394.6 621.6h0M393.8 600.6h0M379.2 671.6h0M388.8 658h0M381.2 624.6h0M397.8 656.4h0M402.5 728.4h0M380 586.9h0M376.2 603h0M386.9 652.9h0M392.8 653.8h0M377.5 704.1h0M392.3 663.7h0M396.9 633.4h0M388.3 638.1h0M413.8 594.3h0M385.4 702.4h0M382.7 625h0M375.5 667.9h0M380.9 687.9h0M426 646.5h0M383.1 615.9h0M378.4 674.1h0M409.1 659.3h0M411.5 705h0M379.5 706.1h0M392.3 583h0M376.9 706h0M371.9 711.6h0M375.1 676.7h0M398.4 678.4h0M387.4 619.8h0M442.4 604.1h0M375 704.6h0M375.2 638.4h0M389.5 681.7h0M375.8 606.6h0M407.2 717.1h0M373.7 669.5h0M378.3 709.2h0M410.2 648.7h0M375.7 623.4h0M386.6 658.9h0M399.1 618.2h0M386.3 691.4h0M377.2 596.5h0M390.9 675.8h0M402.2 728.8h0M380.9 652.6h0M381.6 656.2h0M382.6 594.2h0M391.6 637.1h0M417.1 598h0M394.1 684.7h0M384.8 598.4h0M385.1 660.6h0M411.2 595.4h0M400.7 586.9h0M411.6 630h0M391.6 670.4h0M372.1 604h0M395.8 627.3h0M406.5 653.9h0M389.8 585.3h0M401.3 607h0M419.6 610.9h0M381.8 600.5h0M374.7 674.6h0M383.8 714.4h0M372 628.8h0M385.7 718.8h0M402.2 612.5h0M408.3 679.4h0M374.1 710h0M380.1 662.9h0M372.6 710.2h0M382.8 618.2h0M381 611.4h0M385.5 581.9h0M403.1 638h0M404.4 627.2h0M417.9 703h0M373.9 612.7h0M395.8 649.8h0M390 642.3h0M389 689.1h0M386 702.6h0M412.2 592.8h0M416.7 584h0M402.7 581.9h0M375.2 692.9h0M381.4 655.1h0M392.6 659.5h0M373.8 628.3h0M379.7 680.8h0M410.8 598.8h0M401.4 723.8h0M393.8 685.4h0M404.8 607.6h0M379.2 587.5h0M376 697.1h0M395 633.6h0M396.4 629.7h0M384.9 635.9h0M425.5 626.9h0M378.8 597.8h0M378.5 613.7h0M408.1 656.6h0M375.3 617.3h0M393.4 653h0M376.4 698.2h0M404.9 600.1h0M372.9 622.7h0M380.1 643h0M403.3 643.6h0M403.4 627.3h0M379.9 598.5h0M419.3 628.6h0M381.8 656.8h0M395.3 686.1h0M372.4 592h0M392.5 586.9h0M404.2 674.1h0M407.2 682.3h0M406.1 708.6h0M393.7 660.9h0M384.7 621.4h0M419.7 615.7h0M390.1 679.3h0M372.6 703.7h0M386.2 632.6h0M374 668.7h0M372.6 681.1h0M413.3 726.6h0M373.3 686.3h0M407.3 718.5h0M372.7 618.2h0M380.3 704.1h0M376.1 612.3h0M383.5 648.9h0M395.4 622.1h0M373.9 698.5h0M373.9 622.8h0M418.2 628h0M374.5 634.5h0M379.5 626.4h0M423.8 596.1h0M374.9 676.2h0M411.1 591.8h0M376.6 633.1h0M376.4 648.4h0M393 671.3h0M384.5 697.1h0M389 597.9h0M413.7 662h0M379.8 653.1h0M383.5 618.9h0M377.1 705.1h0M398.3 586.6h0M402.5 678.5h0M419.2 631.1h0M404.1 645h0M372.1 581.3h0M386.5 643.4h0M382 621.6h0M382.3 657.4h0M389.9 615.4h0M382.3 667.6h0M374.1 630.4h0M379.2 654h0M379.9 611.3h0M210.5 589.9h0M212.9 679h0M232.7 697.3h0M226.5 667.6h0M225.2 646.7h0M219.2 631.9h0M226.7 609.3h0M233.7 713.1h0M229.1 651.7h0M227.8 716.4h0M220.7 658.6h0M232 586.6h0M233.6 649.5h0M227.4 676.7h0M210.7 639.9h0M231.4 691.8h0M217.3 673.6h0M227.5 645.9h0M221.2 582.7h0M226.2 670.5h0M208.9 608.8h0M233.9 620.1h0M216.9 700.3h0M218.2 638h0M224.8 704h0M233.9 677.5h0M234.7 599.2h0M231.7 716.4h0M223.3 638.3h0M215 663.2h0M203.7 602.3h0M208.4 633.3h0M229 614.1h0M231.1 652h0M229.7 639.6h0M231.2 645.3h0M225.9 585.4h0M234.4 586.6h0M206.1 629.6h0M219.8 660.3h0M229 711.5h0M223.7 704.2h0M229.2 595.8h0M214.3 646h0M210.7 596h0M215.4 663.2h0M220.1 693.7h0M222.5 606.4h0M226.3 649.1h0M221.1 583.4h0M220.3 587.1h0M234.3 587.4h0M215.1 700.6h0M231.6 612.2h0M208.6 592.4h0M232.5 637h0M228.3 710.6h0M216.4 661.6h0M225.8 583.7h0M231.1 673.3h0M222.4 696h0M230.4 591.9h0M213.2 728.1h0M219.2 667.2h0M221 581.6h0M255.1 575.8h0M363.9 568.7h0M364.7 539h0M349.5 537.5h0M239.9 577.2h0M253.5 563.2h0M356.7 580.3h0M365.6 557.2h0M368.5 574.3h0M256.9 572.1h0M344.4 548.1h0M255.8 570.7h0M241.6 566.6h0M363.8 540h0M346.9 567.3h0M362.1 563.2h0M261.8 571.8h0M368.1 564.3h0M257.2 561.8h0M250.7 531.7h0M250.4 558.8h0M345.2 529.8h0M260 580h0M246.9 541.1h0M249.2 497.4h0M352.3 523.6h0M240.7 502.8h0M247.1 547.8h0M358.9 579.4h0M261.5 530.5h0M355.1 546.9h0M257 547h0M359.2 580h0M355.1 511.9h0M352.8 566.9h0M361.5 504.4h0M344.1 555.1h0M238.9 521.4h0M351.9 576.1h0M366.4 508.9h0M256.7 547.8h0M351.2 548.9h0M359.5 569.1h0M365.1 524.4h0M260.3 533.6h0M257.8 575.3h0M365.8 559.2h0M247.3 534.4h0M247.6 578.4h0M246.6 564.7h0M255.6 571.3h0M363.5 519.5h0M250.5 567.6h0M262 533.8h0M255 568.9h0M245.3 539.2h0M254.4 542.5h0M355.9 565.1h0M253.8 555.6h0M259.7 537h0M354.1 574.8h0M254 566.1h0M358.4 573.7h0M262.8 580h0M348.2 546.9h0M256.8 528.4h0M245 558.2h0M261.4 557h0M367 545h0M364.9 574h0M364.3 527h0M355.2 544.7h0M246.4 580.2h0M345.3 569.7h0M256.2 494.9h0M138.2 669.1h0M184.3 657.9h0M186.9 621.8h0M183 596.9h0M209.6 704h0M208.3 640.5h0M208.3 626.8h0M221.3 721.4h0M184.9 594.4h0M199.9 595.7h0M203.1 603.2h0M211.5 605.6h0M499.7 604.4h0M521.8 624.3h0M496.5 643h0M463.4 650.5h0M450.4 618.1h0M459.5 603.2h0M443.2 626.8h0M427 633h0M432.2 682.8h0M423.8 684.1h0M418.6 699h0M461.4 582h0M441.3 592h0M446.5 587h0M430.3 599.4h0M238.8 418.9h0M247.2 442.6h0M247.2 451.3h0M245.3 463.7h0M364.1 458.7h0M355.6 468.7h0M246.6 492.4h0M251.8 496.1h0M260.2 496.1h0M355.6 506.1h0M362.8 511h0M365.4 502.3h0M347.8 521h0M353 521h0M362.1 528.5h0" fill="none" stroke="#000" stroke-width="5.5" stroke-linecap="round"/>
<path d="M398.6 200.5h0M478.4 194.6h0M797.8 232.7h0M613.7 245h0M619.6 249.6h0M641.3 261.1h0M685.3 261.1h0M587.6 270.8h0M769.4 272.6h0M664.3 281h0M401.4 286.6h0M549 286.6h0M548.2 290.5h0M644.4 287.2h0M648.7 286.9h0M689.1 285.6h0M719.6 286.6h0M597.3 290.7h0M585.8 296.9h0M511.6 297.9h0M704.7 297.9h0M420.9 306.1h0M442.1 305.1h0M580.4 305.1h0M551.3 305.3h0M555.9 308.1h0M536.5 308.1h0M596 308.1h0M641.8 306.1h0M677.9 306.1h0M699.4 308.1h0M478.9 310.9h0M509.1 310.9h0M526.7 310.9h0M457.7 314h0M451.6 316.8h0M561.5 315.3h0M562.5 320.1h0M527.8 319.1h0M662 318.1h0M655.4 328.1h0M577.1 333.4h0M448.7 340.1h0M561 347h0M590.4 347.2h0M601.7 347.5h0M609.3 347.2h0M615.7 345.2h0M624.4 346.2h0M682.7 346h0M697.3 347.2h0M478.4 355.7h0M482.2 356.7h0M528.8 355.7h0M507 360.3h0M536.7 360.3h0M594 356.5h0M605 355.9h0M605.2 357.7h0M696.8 355.9h0M372 363.6h0M611.9 364.4h0M487.1 369.8h0M526.2 371.8h0M618.5 370.3h0M555.9 375.4h0M561.8 376.7h0M574.8 377.9h0M601.4 382.8h0M506.3 389.2h0M524.2 391.7h0M478.9 391.7h0M479.7 396.6h0M441.8 394.3h0M554.6 394.3h0M564.8 394.3h0M654.3 393.3h0M392.7 399.2h0M610.9 397.9h0M615 399.9h0M381.5 405.4h0M428 405.4h0M460 405.4h0M467.9 405.4h0M536.7 403.6h0M549.8 411.5h0M546.7 412.5h0M559 413.6h0M560.7 417.1h0M615.2 413.8h0M662.5 413.8h0M704.7 413.8h0M680.9 418.2h0M384.5 419.7h0M397.8 419.7h0M441.3 418.2h0M479.7 418.7h0M502.7 419.9h0M508.6 419.4h0M636.4 424h0M377.4 426.9h0M433.6 426.6h0M440 427.4h0M454.6 427.1h0M453.6 432.2h0M442.1 434h0M507 427.4h0M544.9 427.4h0M485.6 433.2h0M472.5 436.6h0M580.7 437.3h0M432.4 439.6h0M374.1 440.9h0M380.2 442.2h0M418.8 442.5h0M445.9 442.2h0M431.1 447.6h0M435.2 449.9h0M485.3 447.3h0M469.5 449.6h0M403.5 449.9h0M407.8 450.1h0M405.5 453.2h0M387.6 454.5h0M457.2 454.2h0M465.4 455h0M471.8 454.7h0M499.6 453.2h0M555.1 454.7h0M370.7 456.3h0M422.9 461.1h0M525.2 460.4h0M676.3 460.4h0M489.1 464.2h0M481.7 465.5h0M465.1 466.5h0M472.5 465h0M550.5 466.5h0M518 466.7h0M384 467.3h0M510.9 470.1h0M471.2 471.1h0M501.9 473.9h0M410.9 474.2h0M381.7 476.2h0M440.8 478.5h0M441.8 483.4h0M532.9 479.5h0M392.2 482.6h0M515.2 484.4h0M529 484.4h0M420.4 486.2h0M419.3 489h0M488.1 488.7h0M481.2 491h0M379.9 490.5h0M392.5 491.3h0M481.7 494.6h0M491.2 495.9h0M410.4 499.7h0M502.7 499.5h0M374.8 501.5h0M394.5 500.8h0M397.3 501.3h0M486.8 501.3h0M463.8 502.3h0M404 505.1h0M427 507.4h0M434.9 507.4h0M550.5 507.4h0M554.1 511.2h0M472.8 508.4h0M421.4 511h0M407.8 512h0M429 512h0M436.7 513.3h0M385.1 512.8h0M458.5 513h0M463.1 515.1h0M488.6 512.8h0M495 512.8h0M426.5 517.1h0M434.9 516.4h0M390.2 518.7h0M451.8 519.2h0M484 520.2h0M378.4 521.5h0M385.6 520.2h0M412.4 521.5h0M443.9 524.5h0M389.7 524.5h0M456.7 525.3h0M430.8 532h0M393.8 530.9h0M465.1 532h0M386.6 533.5h0M392.5 534.8h0M444.6 536.3h0M456.2 536.3h0M370.2 537.6h0M375.9 537.6h0M382.5 538.1h0M413.7 537.6h0M400.9 538.3h0M391.7 540.7h0M403.5 540.1h0M411.7 541.9h0M416.8 541.4h0M470 540.1h0M426 543.7h0M395.8 546h0M378.4 548.3h0M388.6 547.8h0M437.5 552.9h0M446.2 555.5h0M419.3 554.5h0M376.9 556.2h0M415.7 558h0M403 559.1h0M396.6 559.8h0M390.7 560.6h0M413.2 561.6h0M378.4 560.6h0M385.1 562.1h0M469.2 562.9h0M425 564.9h0M388.1 567h0M382.5 569h0M375.3 570.6h0M402.5 572.6h0M453.3 571.3h0M456.2 572.6h0M373.3 574.2h0M386.6 574.7h0M443.4 577.5h0M217.6 322.2h0M229.9 322.7h0M202.7 356h0M218.3 356.8h0M224.1 356.8h0M189.7 364.7h0M209.9 372.6h0M229.2 371.9h0M186.3 378.8h0M229.6 380.8h0M181.4 388h0M195.4 392h0M206.2 392h0M189.2 406.5h0M207.3 411.7h0M149.9 418.3h0M221.4 416.9h0M210.2 419.5h0M217.6 431.2h0M214.9 433.5h0M231.2 430.9h0M237.9 432.1h0M222.6 437.4h0M214 443.4h0M234.4 448.6h0M211.3 455.2h0M234.5 460.4h0M232.1 465.3h0M198.3 468.8h0M219.5 467.3h0M222.9 468.7h0M214 474.8h0M214.6 479.4h0M225.2 477.6h0M237.9 479.2h0M172.7 482.8h0M204.4 494.4h0M209.7 492.9h0M229.6 492.7h0M233.6 495.5h0M214 499.4h0M216.2 502.8h0M232.9 502h0M196.6 511.2h0M205 510.9h0M209.6 513.1h0M214.9 512.8h0M211.1 515.1h0M223.1 511.1h0M231.5 513.2h0M200.4 515.1h0M199.8 520.4h0M233.9 521.5h0M200.3 529h0M223.5 531.1h0M216.9 533.9h0M223.4 535h0M202.7 536.6h0M210.7 538h0M218.8 538h0M235.6 537.1h0M238.7 536.5h0M223.4 539.5h0M231.8 540.3h0M210.4 542.6h0M215.7 541.8h0M224.1 543.4h0M237.6 545.4h0M223.1 546.7h0M197.8 550.9h0M212.7 550.1h0M221.5 550.7h0M229.2 551.5h0M226.4 554.4h0M193.4 557.8h0M209 557.8h0M216.6 557.8h0M236.7 556.4h0M225.4 563.3h0M193.7 572.5h0M225.5 570.9h0M234.7 573.2h0M224.9 578.6h0M231 580.1h0M202.2 580.4h0M180.8 108.8h0M442 137.4h0M186.3 167.1h0M168.5 177.8h0M155.3 200.7h0M173.3 235h0M163.7 239.2h0M641.3 136.7h0M160.9 280h0M161.9 279h0" fill="none" stroke="#ff0000" stroke-width="7.6" stroke-linecap="round"/>
<line x1="238.8" y1="84.4" x2="238.8" y2="768.2" stroke="#2222ff" stroke-width="1.8" stroke-dasharray="5.6 5.4"/>
<line x1="368.6" y1="84.4" x2="368.6" y2="768.2" stroke="#2222ff" stroke-width="1.8" stroke-dasharray="5.6 5.4"/>
<line x1="114.3" y1="580.9" x2="824.2" y2="580.9" stroke="#30cd30" stroke-width="1.9" stroke-dasharray="5.6 5.4"/>
<rect x="113.3" y="83.4" width="710.9" height="684.8" fill="none" stroke="#222" stroke-width="1.4"/>
<path d="M173.9 768.2v13.4M303.7 768.2v13.4M433.5 768.2v13.4M563.3 768.2v13.4M693.1 768.2v13.4M822.5 768.2v13.4M113.3 742.6h-13.6M113.3 618.1h-13.6M113.3 493.6h-13.6M113.3 369.1h-13.6M113.3 244.6h-13.6M113.3 120.1h-13.6" fill="none" stroke="#222" stroke-width="1.4"/>
<text x="173.9" y="812.8" font-size="24.7" text-anchor="middle">-2</text>
<text x="303.7" y="812.8" font-size="24.7" text-anchor="middle">0</text>
<text x="433.5" y="812.8" font-size="24.7" text-anchor="middle">2</text>
<text x="563.3" y="812.8" font-size="24.7" text-anchor="middle">4</text>
<text x="693.1" y="812.8" font-size="24.7" text-anchor="middle">6</text>
<text x="822.9" y="812.8" font-size="24.7" text-anchor="middle">8</text>
<text x="87.6" y="751.5" font-size="24.7" text-anchor="end">0</text>
<text x="87.6" y="627" font-size="24.7" text-anchor="end">1</text>
<text x="87.6" y="502.5" font-size="24.7" text-anchor="end">2</text>
<text x="87.6" y="378" font-size="24.7" text-anchor="end">3</text>
<text x="87.6" y="253.5" font-size="24.7" text-anchor="end">4</text>
<text x="87.6" y="129" font-size="24.7" text-anchor="end">5</text>
<text x="467.6" y="854.8" font-size="24.7" text-anchor="middle">log<tspan font-size="17.3" dy="5.5">2</tspan><tspan dy="-5.5"> fold change</tspan></text>
<text x="39.5" y="433.5" font-size="24.7" text-anchor="middle" transform="rotate(-90 39.5 433.5)">-log<tspan font-size="17.3" dy="5.5">10</tspan><tspan dy="-5.5"> FDR</tspan></text>
<text x="73.4" y="24.8" font-size="20.6" textLength="204.8" lengthAdjust="spacingAndGlyphs">Decreased expression</text>
<text x="498.1" y="24.8" font-size="20.6" textLength="196.6" lengthAdjust="spacingAndGlyphs">Increased expression</text>
<text x="191.8" y="67" font-size="20.5" textLength="95.9" lengthAdjust="spacingAndGlyphs">-1 log–fold</text>
<text x="317.9" y="67" font-size="20.5" textLength="101.5" lengthAdjust="spacingAndGlyphs">+1 log–fold</text>
<path d="M239.6 40.6H114" stroke="#000" stroke-width="1.6" fill="none"/><path d="M110.4 40.6l9.4 -4.3v8.6z" fill="#000"/>
<path d="M370 40.7H820" stroke="#000" stroke-width="1.6" fill="none"/><path d="M824 40.7l-9.4 -4.3v8.6z" fill="#000"/>
<path d="M847.8 569.2V91" stroke="#000" stroke-width="1.6" fill="none"/><path d="M847.8 86.8l-4.3 9.4h8.6z" fill="#000"/>
<text x="875" y="377.3" font-size="20.6" transform="rotate(-90 875 377.3)">FDR<tspan dx="2.4">&lt;</tspan><tspan dx="2.4">0.05</tspan></text>
<text x="836.6" y="591.1" font-size="20.6">FDR<tspan dx="2.4">=</tspan><tspan dx="2.4">0.05</tspan></text>
<text x="-0.8" y="32.3" font-size="44" font-weight="bold" textLength="21.6" lengthAdjust="spacingAndGlyphs">a</text>
</g>
<g id="panel-c">
<rect x="114.4" y="1130.4" width="813.8" height="729.3" fill="none" stroke="#222" stroke-width="1.4"/>
<path d="M211 1859.7v14.6M344.2 1859.7v14.6M477.4 1859.7v14.6M610.6 1859.7v14.6M743.8 1859.7v14.6M877 1859.7v14.6M114.4 1770.2h-14.6M114.4 1612.5h-14.6M114.4 1454.8h-14.6M114.4 1297.1h-14.6M114.4 1139.4h-14.6" fill="none" stroke="#222" stroke-width="1.4"/>
<text x="211" y="1905.7" font-size="24.7" text-anchor="middle">-0.2</text>
<text x="344.2" y="1905.7" font-size="24.7" text-anchor="middle">0.0</text>
<text x="477.4" y="1905.7" font-size="24.7" text-anchor="middle">0.2</text>
<text x="610.6" y="1905.7" font-size="24.7" text-anchor="middle">0.4</text>
<text x="743.8" y="1905.7" font-size="24.7" text-anchor="middle">0.6</text>
<text x="877" y="1905.7" font-size="24.7" text-anchor="middle">0.8</text>
<text x="88" y="1779.1" font-size="24.7" text-anchor="end">-0.4</text>
<text x="88" y="1621.4" font-size="24.7" text-anchor="end">-0.2</text>
<text x="88" y="1463.7" font-size="24.7" text-anchor="end">0.0</text>
<text x="88" y="1306" font-size="24.7" text-anchor="end">0.2</text>
<text x="88" y="1148.3" font-size="24.7" text-anchor="end">0.4</text>
<text x="521.3" y="1950" font-size="24.7" text-anchor="middle">PC 1 (25.78%)</text>
<text x="19" y="1493.8" font-size="24.7" text-anchor="middle" transform="rotate(-90 19 1493.8)">PC 2(15.04%)</text>
<text x="355.3" y="1167.5" font-size="25.8" text-anchor="middle" fill="#3a2ee4">C9</text>
<text x="407.9" y="1209.5" font-size="25.8" text-anchor="middle" fill="#3a2ee4">C4</text>
<text x="337.6" y="1250" font-size="25.8" text-anchor="middle" fill="#3a2ee4">C5</text>
<text x="259.6" y="1259.1" font-size="25.8" text-anchor="middle" fill="#3a2ee4">C7</text>
<text x="184.7" y="1290" font-size="25.8" text-anchor="middle" fill="#3a2ee4">C6</text>
<text x="304.7" y="1372" font-size="25.8" text-anchor="middle" fill="#3a2ee4">C1</text>
<text x="353.8" y="1376" font-size="25.8" text-anchor="middle" fill="#3a2ee4">C3</text>
<text x="321.9" y="1402.4" font-size="25.8" text-anchor="middle" fill="#3a2ee4">C2</text>
<text x="348.2" y="1495.5" font-size="25.8" text-anchor="middle" fill="#3a2ee4">C8</text>
<text x="300.1" y="1561.3" font-size="25.8" text-anchor="middle" fill="#e62c22">D3</text>
<text x="896.9" y="1557.7" font-size="25.8" text-anchor="middle" fill="#e62c22">D5</text>
<text x="175.1" y="1608.3" font-size="25.8" text-anchor="middle" fill="#e62c22">D4</text>
<text x="467.7" y="1620" font-size="25.8" text-anchor="middle" fill="#e62c22">D6</text>
<text x="401.4" y="1694.4" font-size="25.8" text-anchor="middle" fill="#e62c22">D1</text>
<text x="145.8" y="1726.3" font-size="25.8" text-anchor="middle" fill="#e62c22">D2</text>
<text x="252" y="1841.2" font-size="25.8" text-anchor="middle" fill="#e62c22">D7</text>
<text x="-0.6" y="1142.6" font-size="44" font-weight="bold" textLength="22.6" lengthAdjust="spacingAndGlyphs">c</text>
</g>
<g id="panel-b">
<path d="M1145.1 136.1V104.4H1166V136.1M1155.6 104.4V98.4H1187V136.1M1171.3 98.4V90.6H1207.9V136.1M1228.9 136.1V94.4H1249.9V136.1M1189.6 90.6V87.7H1239.4V94.4M1270.8 136.1V93.2H1291.8V136.1M1214.5 87.7V84.9H1281.3V93.2M1247.9 84.9V68.5H1312.7V136.1M1354.6 136.1V78.5H1375.6V136.1M1333.7 136.1V63.3H1365.1V78.5M1280.3 68.5V45.2H1349.4V63.3M1396.6 136.1V77.7H1417.5V136.1M1407 77.7V72.5H1438.5V136.1M1314.9 45.2V21.6H1422.7V72.5M1368.8 21.6V0.6H1459.4V136.1" fill="none" stroke="#333" stroke-width="1.1"/>
<rect x="1134" y="140.9" width="188.9" height="12.8" fill="#0420f0"/>
<rect x="1322.9" y="140.9" width="146.8" height="12.8" fill="#ee3625"/>
<g id="heatmap" transform="translate(1133.6 161) scale(20.9563 4.9633)" shape-rendering="crispEdges">
<rect x="0" y="0" width="16" height="359" fill="#509879"/>
<path fill="#191970" d="M9 12h1v1h-1zM9 68h1v2h-1zM10 42h1v1h-1zM15 2h1v3h-1zM15 9h1v2h-1zM15 13h1v8h-1zM15 23h1v1h-1zM15 25h1v3h-1zM15 37h1v1h-1zM15 41h1v2h-1zM15 47h1v1h-1zM15 55h1v4h-1zM15 60h1v1h-1zM15 64h1v10h-1zM15 75h1v4h-1zM15 88h1v1h-1zM15 91h1v2h-1zM15 97h1v1h-1z"/>
<path fill="#243571" d="M9 14h1v1h-1zM9 21h1v1h-1zM9 72h1v1h-1zM10 7h1v1h-1zM11 6h1v1h-1zM14 57h1v1h-1zM15 21h1v1h-1zM15 35h1v1h-1zM15 86h1v1h-1z"/>
<path fill="#273e71" d="M7 2h1v1h-1zM9 17h1v2h-1zM9 53h1v1h-1zM9 64h1v3h-1zM9 73h1v1h-1zM9 91h1v1h-1zM12 72h1v1h-1zM14 8h1v1h-1zM14 18h1v1h-1zM14 30h1v1h-1zM14 32h1v1h-1zM14 55h1v2h-1zM14 92h1v1h-1zM15 0h1v2h-1zM15 5h1v2h-1zM15 8h1v1h-1zM15 11h1v2h-1zM15 24h1v1h-1zM15 30h1v2h-1zM15 36h1v1h-1zM15 39h1v1h-1zM15 45h1v1h-1zM15 49h1v1h-1zM15 51h1v1h-1zM15 53h1v1h-1zM15 61h1v2h-1zM15 74h1v1h-1zM15 83h1v3h-1zM15 93h1v2h-1zM15 98h1v2h-1z"/>
<path fill="#294471" d="M5 6h1v1h-1zM9 86h1v1h-1zM14 16h1v1h-1zM14 31h1v1h-1zM15 43h1v2h-1zM15 52h1v1h-1zM15 89h1v1h-1zM15 100h1v1h-1z"/>
<path fill="#2c4b71" d="M4 158h1v1h-1zM4 223h1v1h-1zM4 262h1v1h-1zM6 106h1v2h-1zM6 116h1v1h-1zM6 147h1v1h-1zM7 120h1v1h-1z"/>
<path fill="#2e5271" d="M0 139h1v1h-1zM4 3h1v1h-1zM4 22h1v1h-1zM4 116h1v2h-1zM4 147h1v1h-1zM4 213h1v1h-1zM4 260h1v1h-1zM4 295h1v1h-1zM5 65h1v1h-1zM5 129h1v1h-1zM6 120h1v1h-1zM6 149h1v1h-1zM6 260h1v1h-1zM6 294h1v1h-1zM7 44h1v1h-1zM7 59h1v1h-1zM9 11h1v1h-1zM9 74h1v1h-1zM10 45h1v1h-1zM10 79h1v1h-1zM12 34h1v1h-1zM13 61h1v1h-1zM15 50h1v1h-1zM15 82h1v1h-1zM15 137h1v1h-1z"/>
<path fill="#305871" d="M0 260h1v1h-1zM3 77h1v1h-1zM4 23h1v3h-1zM4 65h1v1h-1zM4 74h1v1h-1zM4 98h1v3h-1zM4 292h1v3h-1zM5 53h1v1h-1zM6 42h1v1h-1zM6 45h1v3h-1zM6 257h1v1h-1zM6 295h1v1h-1zM7 60h1v1h-1zM7 83h1v1h-1zM9 3h1v1h-1zM9 16h1v1h-1zM9 27h1v1h-1zM9 56h1v1h-1zM9 58h1v1h-1zM9 75h1v1h-1zM9 77h1v1h-1zM9 79h1v1h-1zM9 85h1v1h-1zM9 88h1v2h-1zM9 93h1v1h-1zM10 0h1v2h-1zM10 26h1v1h-1zM10 43h1v1h-1zM10 46h1v2h-1zM10 78h1v1h-1zM10 87h1v2h-1zM11 41h1v1h-1zM11 75h1v1h-1zM11 77h1v1h-1zM12 30h1v4h-1zM12 45h1v1h-1zM12 58h1v1h-1zM12 79h1v1h-1zM13 7h1v2h-1zM13 53h1v1h-1zM13 57h1v1h-1zM13 84h1v2h-1zM14 11h1v2h-1zM14 14h1v1h-1zM14 22h1v3h-1zM14 34h1v1h-1zM14 36h1v2h-1zM15 22h1v1h-1zM15 28h1v2h-1zM15 32h1v3h-1zM15 38h1v1h-1zM15 46h1v1h-1zM15 59h1v1h-1zM15 79h1v3h-1zM15 90h1v1h-1zM15 101h1v3h-1z"/>
<path fill="#346072" d="M0 261h1v1h-1zM1 294h1v1h-1zM3 108h1v1h-1zM3 139h1v1h-1zM3 143h1v1h-1zM3 161h1v1h-1zM3 165h1v1h-1zM3 260h1v1h-1zM4 118h1v1h-1zM4 172h1v1h-1zM4 290h1v2h-1zM5 104h1v1h-1zM5 162h1v1h-1zM6 105h1v1h-1zM6 148h1v1h-1zM6 265h1v1h-1zM6 331h1v1h-1zM7 147h1v1h-1zM8 12h1v1h-1zM9 2h1v1h-1zM9 28h1v1h-1zM9 57h1v1h-1zM9 97h1v1h-1zM11 0h1v1h-1zM11 76h1v1h-1zM12 7h1v2h-1zM13 52h1v1h-1zM13 76h1v1h-1zM14 13h1v1h-1zM15 87h1v1h-1zM15 95h1v1h-1z"/>
<path fill="#386874" d="M0 106h1v1h-1zM0 124h1v1h-1zM1 290h1v2h-1zM1 295h1v1h-1zM2 115h1v1h-1zM2 139h1v1h-1zM3 104h1v1h-1zM3 107h1v1h-1zM3 135h1v1h-1zM3 140h1v1h-1zM3 142h1v1h-1zM3 159h1v2h-1zM3 173h1v1h-1zM3 262h1v1h-1zM4 107h1v2h-1zM4 139h1v2h-1zM4 149h1v5h-1zM4 162h1v1h-1zM4 173h1v1h-1zM4 224h1v1h-1zM4 306h1v1h-1zM6 104h1v1h-1zM6 110h1v2h-1zM6 117h1v1h-1zM6 299h1v1h-1zM7 108h1v2h-1zM7 116h1v1h-1zM7 127h1v1h-1zM7 153h1v1h-1zM7 290h1v2h-1zM15 207h1v1h-1zM15 212h1v1h-1z"/>
<path fill="#3b6f75" d="M0 127h1v1h-1zM0 223h1v1h-1zM0 290h1v2h-1zM0 294h1v2h-1zM1 223h1v1h-1zM2 224h1v1h-1zM3 1h1v1h-1zM3 3h1v1h-1zM3 134h1v1h-1zM3 261h1v1h-1zM3 331h1v1h-1zM4 66h1v1h-1zM4 83h1v1h-1zM4 88h1v1h-1zM4 105h1v2h-1zM4 141h1v1h-1zM4 218h1v1h-1zM4 233h1v1h-1zM4 253h1v2h-1zM5 78h1v1h-1zM5 105h1v1h-1zM5 342h1v1h-1zM6 5h1v1h-1zM6 102h1v1h-1zM6 118h1v1h-1zM6 179h1v2h-1zM6 190h1v1h-1zM6 293h1v1h-1zM6 298h1v1h-1zM6 305h1v1h-1zM6 342h1v3h-1zM7 43h1v1h-1zM7 58h1v1h-1zM7 84h1v1h-1zM7 342h1v3h-1zM9 32h1v1h-1zM9 35h1v1h-1zM9 51h1v1h-1zM9 60h1v1h-1zM9 70h1v2h-1zM9 81h1v1h-1zM9 83h1v1h-1zM10 23h1v1h-1zM10 33h1v1h-1zM10 35h1v1h-1zM10 52h1v1h-1zM10 56h1v1h-1zM10 101h1v1h-1zM11 38h1v1h-1zM11 51h1v1h-1zM11 73h1v1h-1zM12 23h1v1h-1zM12 28h1v1h-1zM12 87h1v1h-1zM12 273h1v1h-1zM12 331h1v1h-1zM13 36h1v1h-1zM13 55h1v1h-1zM13 59h1v1h-1zM13 75h1v1h-1zM13 273h1v1h-1zM13 291h1v1h-1zM13 297h1v1h-1zM14 58h1v1h-1zM14 66h1v1h-1zM14 85h1v1h-1zM15 48h1v1h-1zM15 54h1v1h-1zM15 135h1v1h-1zM15 206h1v1h-1zM15 208h1v4h-1zM15 231h1v2h-1zM15 241h1v3h-1z"/>
<path fill="#3f7776" d="M0 54h1v1h-1zM0 144h1v3h-1zM0 179h1v1h-1zM0 213h1v2h-1zM0 305h1v2h-1zM0 342h1v1h-1zM0 344h1v1h-1zM1 10h1v1h-1zM1 176h1v1h-1zM1 292h1v1h-1zM1 332h1v1h-1zM1 343h1v1h-1zM2 21h1v1h-1zM2 51h1v2h-1zM2 71h1v4h-1zM2 159h1v1h-1zM2 296h1v1h-1zM3 67h1v1h-1zM3 79h1v1h-1zM3 85h1v1h-1zM3 122h1v1h-1zM3 144h1v4h-1zM3 302h1v1h-1zM4 0h1v3h-1zM4 17h1v4h-1zM4 28h1v2h-1zM4 61h1v2h-1zM4 71h1v1h-1zM4 90h1v1h-1zM4 92h1v3h-1zM4 144h1v1h-1zM4 179h1v1h-1zM4 190h1v1h-1zM4 219h1v1h-1zM4 301h1v2h-1zM4 333h1v1h-1zM5 81h1v1h-1zM5 86h1v2h-1zM5 211h1v1h-1zM5 343h1v2h-1zM6 6h1v1h-1zM6 15h1v1h-1zM6 24h1v1h-1zM6 33h1v1h-1zM6 95h1v1h-1zM6 97h1v1h-1zM6 100h1v2h-1zM6 103h1v1h-1zM6 144h1v1h-1zM6 151h1v1h-1zM6 158h1v1h-1zM6 172h1v1h-1zM6 219h1v1h-1zM6 225h1v1h-1zM6 245h1v1h-1zM6 253h1v1h-1zM6 264h1v1h-1zM6 281h1v1h-1zM6 292h1v1h-1zM6 297h1v1h-1zM6 300h1v1h-1zM6 303h1v2h-1zM6 306h1v1h-1zM6 309h1v1h-1zM7 10h1v1h-1zM7 31h1v1h-1zM7 46h1v1h-1zM7 90h1v1h-1zM7 92h1v2h-1zM7 95h1v1h-1zM7 164h1v1h-1zM7 219h1v1h-1zM7 254h1v1h-1zM7 274h1v1h-1zM7 292h1v2h-1zM7 331h1v1h-1zM8 0h1v1h-1zM8 34h1v2h-1zM8 293h1v1h-1zM9 0h1v2h-1zM9 4h1v2h-1zM9 9h1v1h-1zM9 13h1v1h-1zM9 19h1v2h-1zM9 22h1v4h-1zM9 29h1v1h-1zM9 31h1v1h-1zM9 34h1v1h-1zM9 38h1v3h-1zM9 44h1v1h-1zM9 50h1v1h-1zM9 54h1v1h-1zM9 59h1v1h-1zM9 62h1v1h-1zM9 76h1v1h-1zM9 78h1v1h-1zM9 80h1v1h-1zM9 82h1v1h-1zM9 87h1v1h-1zM9 90h1v1h-1zM9 92h1v1h-1zM9 99h1v3h-1zM9 103h1v1h-1zM10 2h1v1h-1zM10 22h1v1h-1zM10 25h1v1h-1zM10 28h1v1h-1zM10 34h1v1h-1zM10 36h1v5h-1zM10 51h1v1h-1zM10 53h1v3h-1zM10 58h1v1h-1zM10 61h1v3h-1zM10 76h1v1h-1zM10 85h1v2h-1zM10 89h1v1h-1zM10 98h1v1h-1zM10 102h1v2h-1zM10 130h1v1h-1zM10 132h1v1h-1zM10 138h1v1h-1zM11 2h1v1h-1zM11 9h1v1h-1zM11 11h1v1h-1zM11 15h1v1h-1zM11 35h1v2h-1zM11 52h1v3h-1zM11 68h1v1h-1zM11 94h1v1h-1zM11 97h1v2h-1zM11 100h1v1h-1zM12 1h1v1h-1zM12 4h1v2h-1zM12 17h1v5h-1zM12 25h1v3h-1zM12 35h1v3h-1zM12 40h1v1h-1zM12 47h1v1h-1zM12 56h1v1h-1zM12 62h1v3h-1zM12 66h1v1h-1zM12 70h1v2h-1zM12 74h1v1h-1zM12 99h1v1h-1zM12 261h1v1h-1zM12 274h1v1h-1zM12 298h1v1h-1zM12 300h1v1h-1zM12 342h1v1h-1zM13 11h1v1h-1zM13 28h1v5h-1zM13 34h1v2h-1zM13 37h1v4h-1zM13 50h1v2h-1zM13 56h1v1h-1zM13 58h1v1h-1zM13 60h1v1h-1zM13 87h1v1h-1zM13 89h1v2h-1zM13 109h1v1h-1zM13 274h1v1h-1zM13 296h1v1h-1zM13 331h1v1h-1zM14 3h1v3h-1zM14 9h1v2h-1zM14 17h1v1h-1zM14 20h1v2h-1zM14 26h1v1h-1zM14 28h1v2h-1zM14 38h1v3h-1zM14 49h1v4h-1zM14 68h1v1h-1zM14 70h1v2h-1zM14 77h1v1h-1zM14 84h1v1h-1zM14 88h1v4h-1zM15 7h1v1h-1zM15 40h1v1h-1zM15 63h1v1h-1zM15 133h1v1h-1zM15 148h1v1h-1zM15 153h1v1h-1zM15 216h1v1h-1zM15 218h1v1h-1zM15 230h1v1h-1zM15 236h1v1h-1zM15 240h1v1h-1z"/>
<path fill="#437f77" d="M0 104h1v2h-1zM0 115h1v2h-1zM0 122h1v1h-1zM0 125h1v2h-1zM0 134h1v1h-1zM0 137h1v1h-1zM0 143h1v1h-1zM0 148h1v1h-1zM0 151h1v2h-1zM0 154h1v3h-1zM0 158h1v2h-1zM0 161h1v4h-1zM0 175h1v1h-1zM0 190h1v1h-1zM0 193h1v1h-1zM0 208h1v5h-1zM0 215h1v1h-1zM0 225h1v1h-1zM0 227h1v1h-1zM0 232h1v1h-1zM0 292h1v1h-1zM0 297h1v1h-1zM0 334h1v1h-1zM0 343h1v1h-1zM1 108h1v1h-1zM1 114h1v2h-1zM1 119h1v1h-1zM1 121h1v1h-1zM1 125h1v1h-1zM1 136h1v6h-1zM1 166h1v1h-1zM1 207h1v4h-1zM1 212h1v1h-1zM1 230h1v1h-1zM1 305h1v2h-1zM1 342h1v1h-1zM1 344h1v1h-1zM2 106h1v1h-1zM2 110h1v1h-1zM2 117h1v1h-1zM2 119h1v1h-1zM2 124h1v3h-1zM2 132h1v1h-1zM2 135h1v3h-1zM2 140h1v2h-1zM2 160h1v1h-1zM2 179h1v2h-1zM2 208h1v1h-1zM2 211h1v5h-1zM2 223h1v1h-1zM2 225h1v1h-1zM2 290h1v1h-1zM2 292h1v1h-1zM2 294h1v1h-1zM2 297h1v2h-1zM3 112h1v3h-1zM3 119h1v1h-1zM3 121h1v1h-1zM3 125h1v2h-1zM3 137h1v1h-1zM3 148h1v4h-1zM3 157h1v1h-1zM3 170h1v1h-1zM3 174h1v3h-1zM3 207h1v1h-1zM3 211h1v2h-1zM3 258h1v1h-1zM3 301h1v1h-1zM3 303h1v1h-1zM4 21h1v1h-1zM4 112h1v1h-1zM4 115h1v1h-1zM4 119h1v1h-1zM4 121h1v1h-1zM4 123h1v2h-1zM4 127h1v2h-1zM4 132h1v1h-1zM4 137h1v2h-1zM4 143h1v1h-1zM4 145h1v1h-1zM4 154h1v4h-1zM4 159h1v2h-1zM4 165h1v1h-1zM4 176h1v1h-1zM4 180h1v1h-1zM4 191h1v1h-1zM4 196h1v2h-1zM4 227h1v1h-1zM4 230h1v3h-1zM4 237h1v2h-1zM4 249h1v2h-1zM4 275h1v1h-1zM4 299h1v2h-1zM4 303h1v1h-1zM4 331h1v2h-1zM5 5h1v1h-1zM5 107h1v1h-1zM5 113h1v1h-1zM5 117h1v1h-1zM5 123h1v1h-1zM5 128h1v1h-1zM5 130h1v1h-1zM5 132h1v1h-1zM5 135h1v1h-1zM5 146h1v6h-1zM5 154h1v1h-1zM5 160h1v1h-1zM5 210h1v1h-1zM5 212h1v1h-1zM5 215h1v1h-1zM6 4h1v1h-1zM6 112h1v1h-1zM6 114h1v2h-1zM6 122h1v2h-1zM6 125h1v4h-1zM6 130h1v3h-1zM6 137h1v2h-1zM6 142h1v1h-1zM6 150h1v1h-1zM6 160h1v1h-1zM6 162h1v1h-1zM6 173h1v2h-1zM6 176h1v1h-1zM6 210h1v1h-1zM6 212h1v1h-1zM6 224h1v1h-1zM6 261h1v3h-1zM6 266h1v1h-1zM6 271h1v1h-1zM6 274h1v2h-1zM6 302h1v1h-1zM6 316h1v1h-1zM6 332h1v3h-1zM6 353h1v2h-1zM7 111h1v3h-1zM7 118h1v1h-1zM7 121h1v1h-1zM7 128h1v1h-1zM7 131h1v1h-1zM7 137h1v2h-1zM7 140h1v1h-1zM7 142h1v1h-1zM7 144h1v3h-1zM7 149h1v4h-1zM7 158h1v1h-1zM7 160h1v2h-1zM7 163h1v1h-1zM7 167h1v1h-1zM7 178h1v1h-1zM7 207h1v1h-1zM7 209h1v1h-1zM7 262h1v1h-1zM7 270h1v1h-1zM8 36h1v1h-1zM8 292h1v1h-1zM9 15h1v1h-1zM9 36h1v1h-1zM9 55h1v1h-1zM9 63h1v1h-1zM9 67h1v1h-1zM9 94h1v2h-1zM9 98h1v1h-1zM9 102h1v1h-1zM9 179h1v2h-1zM10 15h1v1h-1zM10 29h1v1h-1zM10 41h1v1h-1zM10 84h1v1h-1zM11 10h1v1h-1zM11 33h1v1h-1zM11 37h1v1h-1zM11 39h1v1h-1zM11 44h1v1h-1zM11 190h1v1h-1zM12 22h1v1h-1zM12 24h1v1h-1zM12 29h1v1h-1zM12 65h1v1h-1zM12 343h1v2h-1zM13 54h1v1h-1zM13 290h1v1h-1zM13 313h1v1h-1zM13 348h1v1h-1zM14 6h1v1h-1zM14 19h1v1h-1zM14 25h1v1h-1zM14 27h1v1h-1zM14 83h1v1h-1zM15 134h1v1h-1zM15 156h1v2h-1zM15 162h1v1h-1zM15 213h1v3h-1zM15 217h1v1h-1zM15 225h1v1h-1zM15 227h1v1h-1zM15 237h1v1h-1zM15 239h1v1h-1zM15 250h1v1h-1z"/>
<path fill="#488878" d="M0 107h1v3h-1zM0 111h1v3h-1zM0 117h1v3h-1zM0 121h1v1h-1zM0 123h1v1h-1zM0 135h1v2h-1zM0 138h1v1h-1zM0 140h1v3h-1zM0 153h1v1h-1zM0 157h1v1h-1zM0 160h1v1h-1zM0 174h1v1h-1zM0 176h1v3h-1zM0 191h1v2h-1zM0 194h1v3h-1zM0 202h1v1h-1zM0 207h1v1h-1zM0 221h1v1h-1zM0 226h1v1h-1zM0 228h1v1h-1zM0 230h1v2h-1zM0 234h1v3h-1zM0 265h1v1h-1zM0 267h1v4h-1zM0 276h1v1h-1zM0 293h1v1h-1zM0 296h1v1h-1zM0 298h1v1h-1zM0 300h1v1h-1zM0 332h1v2h-1zM1 104h1v2h-1zM1 107h1v1h-1zM1 110h1v4h-1zM1 117h1v2h-1zM1 120h1v1h-1zM1 122h1v2h-1zM1 127h1v2h-1zM1 134h1v2h-1zM1 142h1v6h-1zM1 154h1v2h-1zM1 157h1v3h-1zM1 161h1v2h-1zM1 164h1v2h-1zM1 177h1v1h-1zM1 211h1v1h-1zM1 214h1v1h-1zM1 226h1v1h-1zM1 229h1v1h-1zM1 232h1v1h-1zM1 234h1v1h-1zM1 236h1v1h-1zM1 272h1v2h-1zM1 293h1v1h-1zM1 298h1v1h-1zM2 105h1v1h-1zM2 107h1v2h-1zM2 111h1v4h-1zM2 116h1v1h-1zM2 118h1v1h-1zM2 120h1v4h-1zM2 133h1v1h-1zM2 144h1v1h-1zM2 149h1v1h-1zM2 152h1v1h-1zM2 164h1v2h-1zM2 174h1v1h-1zM2 176h1v3h-1zM2 191h1v1h-1zM2 198h1v1h-1zM2 207h1v1h-1zM2 209h1v2h-1zM2 230h1v1h-1zM2 236h1v1h-1zM2 261h1v2h-1zM2 291h1v1h-1zM2 293h1v1h-1zM2 295h1v1h-1zM2 307h1v2h-1zM2 310h1v2h-1zM2 333h1v1h-1zM3 105h1v2h-1zM3 109h1v3h-1zM3 115h1v2h-1zM3 118h1v1h-1zM3 120h1v1h-1zM3 123h1v2h-1zM3 127h1v4h-1zM3 136h1v1h-1zM3 138h1v1h-1zM3 141h1v1h-1zM3 152h1v1h-1zM3 154h1v3h-1zM3 162h1v2h-1zM3 169h1v1h-1zM3 177h1v3h-1zM3 199h1v1h-1zM3 201h1v1h-1zM3 208h1v3h-1zM3 217h1v1h-1zM3 223h1v1h-1zM3 229h1v1h-1zM3 235h1v1h-1zM3 253h1v2h-1zM3 259h1v1h-1zM3 296h1v1h-1zM3 304h1v3h-1zM3 320h1v1h-1zM4 104h1v1h-1zM4 109h1v1h-1zM4 111h1v1h-1zM4 113h1v2h-1zM4 120h1v1h-1zM4 122h1v1h-1zM4 125h1v2h-1zM4 129h1v3h-1zM4 133h1v1h-1zM4 135h1v2h-1zM4 142h1v1h-1zM4 146h1v1h-1zM4 148h1v1h-1zM4 161h1v1h-1zM4 163h1v2h-1zM4 170h1v1h-1zM4 175h1v1h-1zM4 177h1v2h-1zM4 181h1v1h-1zM4 183h1v1h-1zM4 188h1v1h-1zM4 193h1v3h-1zM4 199h1v1h-1zM4 202h1v5h-1zM4 209h1v1h-1zM4 211h1v1h-1zM4 214h1v4h-1zM4 226h1v1h-1zM4 228h1v2h-1zM4 235h1v1h-1zM4 239h1v2h-1zM4 242h1v2h-1zM4 245h1v4h-1zM4 255h1v1h-1zM4 257h1v3h-1zM4 263h1v7h-1zM4 271h1v1h-1zM4 274h1v1h-1zM4 279h1v1h-1zM4 304h1v1h-1zM4 320h1v1h-1zM4 345h1v1h-1zM5 109h1v2h-1zM5 112h1v1h-1zM5 115h1v1h-1zM5 118h1v2h-1zM5 121h1v2h-1zM5 124h1v3h-1zM5 131h1v1h-1zM5 133h1v2h-1zM5 136h1v2h-1zM5 144h1v2h-1zM5 153h1v1h-1zM5 155h1v1h-1zM5 157h1v1h-1zM5 159h1v1h-1zM5 161h1v1h-1zM5 163h1v7h-1zM5 172h1v2h-1zM5 178h1v1h-1zM5 187h1v1h-1zM5 204h1v1h-1zM5 214h1v1h-1zM5 216h1v2h-1zM5 226h1v1h-1zM5 229h1v1h-1zM5 231h1v4h-1zM5 236h1v2h-1zM5 239h1v1h-1zM5 241h1v3h-1zM5 247h1v2h-1zM5 251h1v2h-1zM5 254h1v3h-1zM5 294h1v2h-1zM5 307h1v1h-1zM5 309h1v2h-1zM5 316h1v1h-1zM6 108h1v2h-1zM6 113h1v1h-1zM6 121h1v1h-1zM6 124h1v1h-1zM6 129h1v1h-1zM6 133h1v4h-1zM6 139h1v1h-1zM6 141h1v1h-1zM6 143h1v1h-1zM6 154h1v4h-1zM6 161h1v1h-1zM6 165h1v1h-1zM6 167h1v2h-1zM6 175h1v1h-1zM6 177h1v2h-1zM6 193h1v1h-1zM6 200h1v2h-1zM6 206h1v1h-1zM6 211h1v1h-1zM6 213h1v3h-1zM6 220h1v1h-1zM6 230h1v1h-1zM6 234h1v1h-1zM6 238h1v1h-1zM6 254h1v3h-1zM6 258h1v2h-1zM6 267h1v4h-1zM6 272h1v2h-1zM6 276h1v1h-1zM6 278h1v2h-1zM6 291h1v1h-1zM6 296h1v1h-1zM6 301h1v1h-1zM6 308h1v1h-1zM6 341h1v1h-1zM6 349h1v1h-1zM7 110h1v1h-1zM7 114h1v1h-1zM7 117h1v1h-1zM7 119h1v1h-1zM7 122h1v3h-1zM7 129h1v2h-1zM7 132h1v5h-1zM7 139h1v1h-1zM7 143h1v1h-1zM7 148h1v1h-1zM7 155h1v2h-1zM7 159h1v1h-1zM7 162h1v1h-1zM7 166h1v1h-1zM7 168h1v1h-1zM7 170h1v6h-1zM7 177h1v1h-1zM7 180h1v3h-1zM7 184h1v2h-1zM7 208h1v1h-1zM7 213h1v1h-1zM7 224h1v3h-1zM7 263h1v7h-1zM7 283h1v1h-1zM7 299h1v1h-1zM7 303h1v1h-1zM8 5h1v1h-1zM8 237h1v3h-1zM8 300h1v1h-1zM9 146h1v1h-1zM9 253h1v2h-1zM10 199h1v1h-1zM10 270h1v1h-1zM10 314h1v1h-1zM10 316h1v1h-1zM10 338h1v1h-1zM11 192h1v4h-1zM11 202h1v1h-1zM11 204h1v1h-1zM11 206h1v1h-1zM11 210h1v1h-1zM12 253h1v2h-1zM12 263h1v5h-1zM12 285h1v2h-1zM12 297h1v1h-1zM12 335h1v1h-1zM12 338h1v1h-1zM12 341h1v1h-1zM13 265h1v2h-1zM13 269h1v4h-1zM13 286h1v1h-1zM13 301h1v1h-1zM13 315h1v2h-1zM13 347h1v1h-1zM15 167h1v5h-1zM15 188h1v1h-1zM15 197h1v1h-1zM15 220h1v3h-1zM15 226h1v1h-1zM15 228h1v2h-1zM15 233h1v3h-1zM15 238h1v1h-1zM15 244h1v3h-1zM15 248h1v1h-1zM15 251h1v2h-1z"/>
<path fill="#4c9078" d="M0 129h1v1h-1zM0 149h1v1h-1zM0 170h1v1h-1zM0 172h1v2h-1zM0 183h1v1h-1zM0 186h1v1h-1zM0 188h1v1h-1zM0 206h1v1h-1zM0 217h1v2h-1zM0 220h1v1h-1zM0 224h1v1h-1zM0 229h1v1h-1zM0 233h1v1h-1zM0 239h1v1h-1zM0 244h1v1h-1zM0 250h1v1h-1zM0 253h1v1h-1zM0 258h1v2h-1zM0 262h1v3h-1zM0 266h1v1h-1zM0 271h1v5h-1zM0 277h1v1h-1zM0 281h1v1h-1zM0 299h1v1h-1zM0 302h1v3h-1zM0 310h1v1h-1zM0 318h1v1h-1zM0 339h1v2h-1zM0 350h1v1h-1zM0 355h1v1h-1zM1 106h1v1h-1zM1 109h1v1h-1zM1 124h1v1h-1zM1 148h1v3h-1zM1 156h1v1h-1zM1 160h1v1h-1zM1 163h1v1h-1zM1 169h1v1h-1zM1 171h1v1h-1zM1 179h1v1h-1zM1 181h1v1h-1zM1 202h1v1h-1zM1 215h1v4h-1zM1 220h1v1h-1zM1 224h1v2h-1zM1 227h1v2h-1zM1 231h1v1h-1zM1 233h1v1h-1zM1 235h1v1h-1zM1 261h1v3h-1zM1 267h1v5h-1zM1 276h1v1h-1zM1 288h1v1h-1zM1 296h1v2h-1zM1 299h1v1h-1zM1 301h1v1h-1zM1 303h1v1h-1zM1 349h1v1h-1zM1 351h1v1h-1zM1 356h1v1h-1zM2 20h1v1h-1zM2 82h1v2h-1zM2 134h1v1h-1zM2 147h1v1h-1zM2 150h1v2h-1zM2 153h1v2h-1zM2 156h1v1h-1zM2 161h1v3h-1zM2 167h1v1h-1zM2 169h1v3h-1zM2 173h1v1h-1zM2 175h1v1h-1zM2 192h1v3h-1zM2 196h1v2h-1zM2 199h1v3h-1zM2 216h1v3h-1zM2 226h1v1h-1zM2 228h1v2h-1zM2 231h1v5h-1zM2 243h1v7h-1zM2 251h1v3h-1zM2 256h1v1h-1zM2 260h1v1h-1zM2 263h1v2h-1zM2 267h1v5h-1zM2 276h1v1h-1zM2 281h1v1h-1zM2 287h1v1h-1zM2 300h1v6h-1zM2 309h1v1h-1zM2 313h1v1h-1zM2 332h1v1h-1zM2 334h1v1h-1zM2 337h1v2h-1zM2 342h1v1h-1zM3 39h1v1h-1zM3 81h1v1h-1zM3 131h1v1h-1zM3 133h1v1h-1zM3 164h1v1h-1zM3 166h1v3h-1zM3 171h1v2h-1zM3 181h1v2h-1zM3 184h1v11h-1zM3 197h1v1h-1zM3 200h1v1h-1zM3 202h1v4h-1zM3 216h1v1h-1zM3 222h1v1h-1zM3 226h1v3h-1zM3 230h1v4h-1zM3 238h1v1h-1zM3 242h1v1h-1zM3 245h1v2h-1zM3 256h1v1h-1zM3 268h1v2h-1zM3 299h1v2h-1zM3 332h1v2h-1zM3 336h1v1h-1zM3 357h1v1h-1zM4 101h1v1h-1zM4 134h1v1h-1zM4 168h1v2h-1zM4 171h1v1h-1zM4 174h1v1h-1zM4 182h1v1h-1zM4 185h1v3h-1zM4 189h1v1h-1zM4 192h1v1h-1zM4 198h1v1h-1zM4 200h1v2h-1zM4 207h1v1h-1zM4 210h1v1h-1zM4 212h1v1h-1zM4 220h1v2h-1zM4 234h1v1h-1zM4 236h1v1h-1zM4 241h1v1h-1zM4 244h1v1h-1zM4 251h1v2h-1zM4 256h1v1h-1zM4 261h1v1h-1zM4 270h1v1h-1zM4 272h1v2h-1zM4 276h1v3h-1zM4 280h1v1h-1zM4 285h1v1h-1zM4 287h1v1h-1zM4 296h1v3h-1zM4 307h1v2h-1zM4 336h1v1h-1zM4 339h1v1h-1zM4 353h1v1h-1zM4 357h1v2h-1zM5 67h1v1h-1zM5 73h1v1h-1zM5 97h1v1h-1zM5 99h1v1h-1zM5 102h1v1h-1zM5 152h1v1h-1zM5 156h1v1h-1zM5 158h1v1h-1zM5 170h1v2h-1zM5 174h1v4h-1zM5 182h1v3h-1zM5 189h1v2h-1zM5 192h1v2h-1zM5 195h1v4h-1zM5 200h1v2h-1zM5 203h1v1h-1zM5 205h1v4h-1zM5 218h1v5h-1zM5 225h1v1h-1zM5 227h1v1h-1zM5 230h1v1h-1zM5 235h1v1h-1zM5 238h1v1h-1zM5 240h1v1h-1zM5 244h1v3h-1zM5 250h1v1h-1zM5 253h1v1h-1zM5 258h1v5h-1zM5 269h1v2h-1zM5 272h1v2h-1zM5 296h1v2h-1zM5 299h1v2h-1zM5 304h1v1h-1zM5 308h1v1h-1zM5 334h1v1h-1zM6 3h1v1h-1zM6 31h1v1h-1zM6 119h1v1h-1zM6 140h1v1h-1zM6 159h1v1h-1zM6 166h1v1h-1zM6 169h1v3h-1zM6 181h1v7h-1zM6 189h1v1h-1zM6 191h1v2h-1zM6 194h1v4h-1zM6 199h1v1h-1zM6 202h1v4h-1zM6 207h1v2h-1zM6 221h1v3h-1zM6 226h1v4h-1zM6 231h1v3h-1zM6 235h1v3h-1zM6 240h1v2h-1zM6 244h1v1h-1zM6 247h1v2h-1zM6 250h1v1h-1zM6 252h1v1h-1zM6 277h1v1h-1zM6 280h1v1h-1zM6 282h1v4h-1zM6 287h1v2h-1zM6 290h1v1h-1zM6 307h1v1h-1zM6 310h1v4h-1zM6 315h1v1h-1zM6 335h1v6h-1zM6 345h1v1h-1zM6 347h1v1h-1zM6 350h1v1h-1zM7 30h1v1h-1zM7 154h1v1h-1zM7 169h1v1h-1zM7 190h1v1h-1zM7 211h1v2h-1zM7 214h1v1h-1zM7 216h1v2h-1zM7 235h1v1h-1zM7 259h1v1h-1zM7 271h1v1h-1zM7 275h1v1h-1zM7 278h1v2h-1zM7 282h1v1h-1zM7 286h1v1h-1zM7 288h1v2h-1zM7 298h1v1h-1zM7 304h1v2h-1zM7 310h1v1h-1zM7 313h1v1h-1zM7 316h1v4h-1zM7 333h1v5h-1zM7 345h1v2h-1zM7 349h1v2h-1zM7 354h1v1h-1zM7 356h1v1h-1zM7 358h1v1h-1zM8 1h1v1h-1zM8 183h1v2h-1zM8 193h1v1h-1zM8 195h1v1h-1zM8 200h1v1h-1zM8 202h1v1h-1zM8 205h1v1h-1zM8 216h1v1h-1zM8 233h1v1h-1zM8 235h1v2h-1zM8 240h1v2h-1zM8 305h1v1h-1zM9 8h1v1h-1zM9 26h1v1h-1zM9 184h1v1h-1zM9 300h1v1h-1zM9 329h1v1h-1zM10 12h1v1h-1zM10 184h1v1h-1zM10 191h1v1h-1zM10 198h1v1h-1zM10 205h1v1h-1zM10 246h1v2h-1zM10 264h1v1h-1zM10 306h1v1h-1zM10 312h1v1h-1zM10 332h1v3h-1zM10 337h1v1h-1zM10 339h1v3h-1zM10 354h1v1h-1zM11 19h1v1h-1zM11 65h1v1h-1zM11 70h1v1h-1zM11 196h1v6h-1zM11 203h1v1h-1zM11 205h1v1h-1zM11 221h1v1h-1zM11 246h1v1h-1zM12 50h1v1h-1zM12 59h1v2h-1zM12 69h1v1h-1zM12 219h1v1h-1zM12 275h1v10h-1zM12 287h1v3h-1zM12 315h1v1h-1zM12 319h1v1h-1zM12 324h1v1h-1zM12 329h1v1h-1zM12 334h1v1h-1zM12 340h1v1h-1zM12 348h1v2h-1zM12 354h1v3h-1zM12 358h1v1h-1zM13 120h1v1h-1zM13 263h1v2h-1zM13 267h1v2h-1zM13 275h1v2h-1zM13 278h1v4h-1zM13 283h1v2h-1zM13 287h1v1h-1zM13 289h1v1h-1zM13 298h1v1h-1zM13 309h1v1h-1zM13 311h1v1h-1zM13 314h1v1h-1zM13 323h1v1h-1zM13 332h1v3h-1zM13 337h1v1h-1zM13 339h1v8h-1zM13 350h1v2h-1zM13 354h1v1h-1zM13 356h1v1h-1zM13 358h1v1h-1zM14 15h1v1h-1zM14 80h1v1h-1zM14 93h1v1h-1zM14 95h1v1h-1zM14 100h1v2h-1zM15 96h1v1h-1zM15 166h1v1h-1zM15 173h1v1h-1zM15 183h1v2h-1zM15 186h1v2h-1zM15 189h1v2h-1zM15 192h1v1h-1zM15 194h1v3h-1zM15 198h1v7h-1zM15 219h1v1h-1zM15 247h1v1h-1zM15 249h1v1h-1z"/>
<path fill="#509879" d="M0 33h1v1h-1zM0 44h1v2h-1zM0 47h1v1h-1zM0 51h1v2h-1zM0 114h1v1h-1zM0 132h1v1h-1zM0 165h1v1h-1zM0 167h1v3h-1zM0 171h1v1h-1zM0 180h1v3h-1zM0 184h1v2h-1zM0 187h1v1h-1zM0 198h1v2h-1zM0 201h1v1h-1zM0 203h1v3h-1zM0 216h1v1h-1zM0 219h1v1h-1zM0 222h1v1h-1zM0 240h1v4h-1zM0 245h1v2h-1zM0 249h1v1h-1zM0 251h1v2h-1zM0 254h1v2h-1zM0 257h1v1h-1zM0 278h1v2h-1zM0 282h1v3h-1zM0 286h1v1h-1zM0 288h1v2h-1zM0 301h1v1h-1zM0 307h1v3h-1zM0 311h1v7h-1zM0 319h1v1h-1zM0 321h1v1h-1zM0 327h1v1h-1zM0 330h1v2h-1zM0 335h1v4h-1zM0 341h1v1h-1zM0 346h1v2h-1zM0 349h1v1h-1zM0 351h1v2h-1zM0 354h1v1h-1zM0 356h1v1h-1zM0 358h1v1h-1zM1 11h1v1h-1zM1 29h1v1h-1zM1 151h1v2h-1zM1 167h1v2h-1zM1 170h1v1h-1zM1 172h1v4h-1zM1 178h1v1h-1zM1 184h1v2h-1zM1 187h1v1h-1zM1 191h1v1h-1zM1 193h1v6h-1zM1 201h1v1h-1zM1 203h1v2h-1zM1 206h1v1h-1zM1 219h1v1h-1zM1 222h1v1h-1zM1 237h1v1h-1zM1 239h1v2h-1zM1 242h1v1h-1zM1 244h1v1h-1zM1 246h1v6h-1zM1 255h1v1h-1zM1 264h1v1h-1zM1 277h1v5h-1zM1 283h1v2h-1zM1 287h1v1h-1zM1 289h1v1h-1zM1 302h1v1h-1zM1 304h1v1h-1zM1 307h1v2h-1zM1 310h1v5h-1zM1 318h1v2h-1zM1 322h1v1h-1zM1 325h1v2h-1zM1 329h1v3h-1zM1 333h1v7h-1zM1 341h1v1h-1zM1 345h1v4h-1zM1 350h1v1h-1zM1 352h1v4h-1zM1 357h1v2h-1zM2 44h1v1h-1zM2 54h1v1h-1zM2 60h1v2h-1zM2 68h1v1h-1zM2 80h1v2h-1zM2 84h1v1h-1zM2 148h1v1h-1zM2 155h1v1h-1zM2 157h1v1h-1zM2 168h1v1h-1zM2 182h1v1h-1zM2 185h1v1h-1zM2 190h1v1h-1zM2 195h1v1h-1zM2 203h1v4h-1zM2 219h1v4h-1zM2 250h1v1h-1zM2 255h1v1h-1zM2 257h1v2h-1zM2 272h1v1h-1zM2 274h1v2h-1zM2 277h1v1h-1zM2 279h1v2h-1zM2 282h1v4h-1zM2 288h1v1h-1zM2 306h1v1h-1zM2 312h1v1h-1zM2 314h1v1h-1zM2 317h1v4h-1zM2 323h1v1h-1zM2 327h1v5h-1zM2 335h1v2h-1zM2 340h1v2h-1zM2 343h1v1h-1zM2 345h1v1h-1zM2 348h1v2h-1zM2 352h1v7h-1zM3 75h1v1h-1zM3 95h1v2h-1zM3 103h1v1h-1zM3 183h1v1h-1zM3 196h1v1h-1zM3 198h1v1h-1zM3 206h1v1h-1zM3 214h1v2h-1zM3 220h1v2h-1zM3 224h1v2h-1zM3 239h1v3h-1zM3 243h1v2h-1zM3 247h1v5h-1zM3 263h1v1h-1zM3 265h1v1h-1zM3 267h1v1h-1zM3 270h1v5h-1zM3 276h1v7h-1zM3 284h1v1h-1zM3 297h1v1h-1zM3 328h1v1h-1zM3 335h1v1h-1zM3 337h1v5h-1zM3 345h1v2h-1zM3 349h1v8h-1zM3 358h1v1h-1zM4 7h1v1h-1zM4 48h1v3h-1zM4 63h1v1h-1zM4 73h1v1h-1zM4 78h1v5h-1zM4 85h1v3h-1zM4 91h1v1h-1zM4 96h1v2h-1zM4 102h1v1h-1zM4 184h1v1h-1zM4 208h1v1h-1zM4 222h1v1h-1zM4 282h1v3h-1zM4 286h1v1h-1zM4 305h1v1h-1zM4 310h1v3h-1zM4 314h1v6h-1zM4 322h1v1h-1zM4 326h1v1h-1zM4 334h1v2h-1zM4 337h1v2h-1zM4 341h1v4h-1zM4 346h1v4h-1zM4 351h1v2h-1zM4 354h1v1h-1zM4 356h1v1h-1zM5 48h1v1h-1zM5 52h1v1h-1zM5 54h1v1h-1zM5 59h1v2h-1zM5 68h1v2h-1zM5 74h1v1h-1zM5 76h1v1h-1zM5 80h1v1h-1zM5 85h1v1h-1zM5 94h1v1h-1zM5 96h1v1h-1zM5 98h1v1h-1zM5 100h1v2h-1zM5 181h1v1h-1zM5 185h1v2h-1zM5 188h1v1h-1zM5 191h1v1h-1zM5 194h1v1h-1zM5 199h1v1h-1zM5 209h1v1h-1zM5 224h1v1h-1zM5 249h1v1h-1zM5 271h1v1h-1zM5 274h1v3h-1zM5 280h1v4h-1zM5 285h1v5h-1zM5 298h1v1h-1zM5 303h1v1h-1zM5 315h1v1h-1zM5 317h1v1h-1zM5 324h1v5h-1zM5 337h1v1h-1zM5 352h1v1h-1zM5 354h1v1h-1zM6 1h1v1h-1zM6 20h1v1h-1zM6 30h1v1h-1zM6 38h1v4h-1zM6 43h1v2h-1zM6 83h1v1h-1zM6 92h1v1h-1zM6 96h1v1h-1zM6 145h1v2h-1zM6 188h1v1h-1zM6 198h1v1h-1zM6 216h1v3h-1zM6 243h1v1h-1zM6 246h1v1h-1zM6 249h1v1h-1zM6 251h1v1h-1zM6 286h1v1h-1zM6 289h1v1h-1zM6 314h1v1h-1zM6 320h1v1h-1zM6 326h1v5h-1zM6 346h1v1h-1zM6 348h1v1h-1zM6 351h1v2h-1zM6 356h1v3h-1zM7 9h1v1h-1zM7 32h1v2h-1zM7 40h1v1h-1zM7 48h1v3h-1zM7 97h1v7h-1zM7 193h1v1h-1zM7 196h1v1h-1zM7 201h1v1h-1zM7 205h1v1h-1zM7 218h1v1h-1zM7 220h1v1h-1zM7 222h1v1h-1zM7 231h1v1h-1zM7 242h1v2h-1zM7 252h1v1h-1zM7 255h1v4h-1zM7 273h1v1h-1zM7 276h1v2h-1zM7 280h1v2h-1zM7 284h1v2h-1zM7 287h1v1h-1zM7 301h1v2h-1zM7 307h1v3h-1zM7 311h1v2h-1zM7 314h1v2h-1zM7 321h1v2h-1zM7 325h1v5h-1zM7 338h1v4h-1zM7 347h1v2h-1zM7 351h1v3h-1zM7 355h1v1h-1zM7 357h1v1h-1zM8 2h1v1h-1zM8 13h1v3h-1zM8 27h1v1h-1zM8 30h1v1h-1zM8 40h1v1h-1zM8 110h1v1h-1zM8 114h1v1h-1zM8 121h1v2h-1zM8 124h1v2h-1zM8 138h1v1h-1zM8 179h1v2h-1zM8 182h1v1h-1zM8 185h1v1h-1zM8 187h1v4h-1zM8 192h1v1h-1zM8 194h1v1h-1zM8 196h1v4h-1zM8 201h1v1h-1zM8 203h1v1h-1zM8 231h1v2h-1zM8 234h1v1h-1zM8 242h1v1h-1zM8 263h1v1h-1zM8 275h1v1h-1zM9 6h1v2h-1zM9 10h1v1h-1zM9 37h1v1h-1zM9 45h1v5h-1zM9 84h1v1h-1zM9 128h1v3h-1zM9 181h1v1h-1zM9 186h1v1h-1zM9 188h1v1h-1zM9 226h1v1h-1zM9 315h1v1h-1zM9 325h1v3h-1zM9 330h1v1h-1zM10 4h1v1h-1zM10 10h1v2h-1zM10 13h1v1h-1zM10 20h1v1h-1zM10 27h1v1h-1zM10 48h1v1h-1zM10 50h1v1h-1zM10 80h1v1h-1zM10 90h1v2h-1zM10 99h1v2h-1zM10 192h1v6h-1zM10 200h1v5h-1zM10 206h1v1h-1zM10 220h1v1h-1zM10 222h1v1h-1zM10 245h1v1h-1zM10 255h1v5h-1zM10 263h1v1h-1zM10 265h1v5h-1zM10 278h1v1h-1zM10 287h1v3h-1zM10 317h1v5h-1zM10 323h1v1h-1zM10 325h1v5h-1zM10 335h1v2h-1zM10 346h1v1h-1zM10 351h1v1h-1zM10 353h1v1h-1zM10 355h1v4h-1zM11 5h1v1h-1zM11 7h1v2h-1zM11 22h1v3h-1zM11 59h1v1h-1zM11 61h1v4h-1zM11 71h1v1h-1zM11 78h1v1h-1zM11 81h1v2h-1zM11 86h1v1h-1zM11 96h1v1h-1zM11 102h1v1h-1zM11 220h1v1h-1zM11 237h1v1h-1zM11 239h1v1h-1zM11 247h1v6h-1zM12 49h1v1h-1zM12 67h1v2h-1zM12 78h1v1h-1zM12 84h1v1h-1zM12 95h1v4h-1zM12 121h1v1h-1zM12 128h1v1h-1zM12 259h1v1h-1zM12 270h1v1h-1zM12 296h1v1h-1zM12 304h1v2h-1zM12 307h1v8h-1zM12 317h1v2h-1zM12 320h1v1h-1zM12 322h1v2h-1zM12 325h1v4h-1zM12 330h1v1h-1zM12 332h1v2h-1zM12 336h1v2h-1zM12 339h1v1h-1zM12 345h1v2h-1zM12 350h1v4h-1zM13 6h1v1h-1zM13 33h1v1h-1zM13 43h1v2h-1zM13 63h1v1h-1zM13 72h1v1h-1zM13 82h1v2h-1zM13 96h1v1h-1zM13 102h1v2h-1zM13 114h1v2h-1zM13 117h1v1h-1zM13 119h1v1h-1zM13 121h1v3h-1zM13 255h1v2h-1zM13 261h1v1h-1zM13 277h1v1h-1zM13 282h1v1h-1zM13 285h1v1h-1zM13 288h1v1h-1zM13 295h1v1h-1zM13 299h1v1h-1zM13 304h1v1h-1zM13 306h1v1h-1zM13 308h1v1h-1zM13 310h1v1h-1zM13 312h1v1h-1zM13 317h1v3h-1zM13 321h1v2h-1zM13 324h1v2h-1zM13 327h1v4h-1zM13 335h1v2h-1zM13 338h1v1h-1zM13 349h1v1h-1zM13 352h1v1h-1zM13 355h1v1h-1zM13 357h1v1h-1zM14 7h1v1h-1zM14 33h1v1h-1zM14 35h1v1h-1zM14 43h1v5h-1zM14 54h1v1h-1zM14 63h1v3h-1zM14 76h1v1h-1zM14 81h1v2h-1zM14 94h1v1h-1zM14 99h1v1h-1zM14 102h1v2h-1zM14 289h1v1h-1zM15 136h1v1h-1zM15 141h1v3h-1zM15 151h1v1h-1zM15 159h1v1h-1zM15 161h1v1h-1zM15 165h1v1h-1zM15 172h1v1h-1zM15 174h1v5h-1zM15 181h1v2h-1zM15 185h1v1h-1zM15 191h1v1h-1zM15 193h1v1h-1zM15 205h1v1h-1z"/>
<path fill="#529d78" d="M0 110h1v1h-1zM0 120h1v1h-1zM0 128h1v1h-1zM0 131h1v1h-1zM0 133h1v1h-1zM0 147h1v1h-1zM0 166h1v1h-1zM0 189h1v1h-1zM0 197h1v1h-1zM0 200h1v1h-1zM0 237h1v2h-1zM0 247h1v2h-1zM0 280h1v1h-1zM0 285h1v1h-1zM0 287h1v1h-1zM0 322h1v5h-1zM0 328h1v2h-1zM0 345h1v1h-1zM0 348h1v1h-1zM0 353h1v1h-1zM0 357h1v1h-1zM1 126h1v1h-1zM1 131h1v2h-1zM1 182h1v2h-1zM1 186h1v1h-1zM1 188h1v1h-1zM1 190h1v1h-1zM1 192h1v1h-1zM1 205h1v1h-1zM1 238h1v1h-1zM1 241h1v1h-1zM1 243h1v1h-1zM1 245h1v1h-1zM1 252h1v1h-1zM1 256h1v2h-1zM1 259h1v1h-1zM1 275h1v1h-1zM1 282h1v1h-1zM1 285h1v2h-1zM1 309h1v1h-1zM1 315h1v3h-1zM1 320h1v2h-1zM1 324h1v1h-1zM1 327h1v2h-1zM1 340h1v1h-1zM2 104h1v1h-1zM2 127h1v5h-1zM2 138h1v1h-1zM2 145h1v2h-1zM2 181h1v1h-1zM2 183h1v2h-1zM2 187h1v3h-1zM2 237h1v4h-1zM2 278h1v1h-1zM2 286h1v1h-1zM2 289h1v1h-1zM2 315h1v2h-1zM2 321h1v2h-1zM2 324h1v3h-1zM2 339h1v1h-1zM2 346h1v2h-1zM2 351h1v1h-1zM3 76h1v1h-1zM3 80h1v1h-1zM3 82h1v1h-1zM3 117h1v1h-1zM3 180h1v1h-1zM3 237h1v1h-1zM3 252h1v1h-1zM3 266h1v1h-1zM3 275h1v1h-1zM3 283h1v1h-1zM3 285h1v3h-1zM3 290h1v1h-1zM3 292h1v1h-1zM3 310h1v1h-1zM3 312h1v2h-1zM3 315h1v1h-1zM3 318h1v2h-1zM3 321h1v3h-1zM3 325h1v3h-1zM3 329h1v1h-1zM4 64h1v1h-1zM4 89h1v1h-1zM4 103h1v1h-1zM4 167h1v1h-1zM4 281h1v1h-1zM4 288h1v2h-1zM4 309h1v1h-1zM4 313h1v1h-1zM4 321h1v1h-1zM4 323h1v3h-1zM4 327h1v4h-1zM4 340h1v1h-1zM4 350h1v1h-1zM4 355h1v1h-1zM5 51h1v1h-1zM5 66h1v1h-1zM5 114h1v1h-1zM5 127h1v1h-1zM5 141h1v3h-1zM5 179h1v2h-1zM5 277h1v3h-1zM5 301h1v1h-1zM5 313h1v2h-1zM5 318h1v6h-1zM5 329h1v3h-1zM5 335h1v2h-1zM5 338h1v4h-1zM5 345h1v1h-1zM5 347h1v5h-1zM5 353h1v1h-1zM5 355h1v4h-1zM6 32h1v1h-1zM6 152h1v2h-1zM6 163h1v2h-1zM6 317h1v3h-1zM6 321h1v5h-1zM6 355h1v1h-1zM7 3h1v1h-1zM7 39h1v1h-1zM7 47h1v1h-1zM7 94h1v1h-1zM7 96h1v1h-1zM7 165h1v1h-1zM7 202h1v3h-1zM7 206h1v1h-1zM7 221h1v1h-1zM7 227h1v4h-1zM7 232h1v3h-1zM7 236h1v2h-1zM7 239h1v3h-1zM7 244h1v1h-1zM7 250h1v2h-1zM7 253h1v1h-1zM7 323h1v2h-1zM7 330h1v1h-1zM8 4h1v1h-1zM8 80h1v1h-1zM8 105h1v1h-1zM8 123h1v1h-1zM8 126h1v1h-1zM8 142h1v2h-1zM8 181h1v1h-1zM8 191h1v1h-1zM8 204h1v1h-1zM8 206h1v1h-1zM8 244h1v4h-1zM8 250h1v3h-1zM8 262h1v1h-1zM8 274h1v1h-1zM8 276h1v2h-1zM8 288h1v1h-1zM9 30h1v1h-1zM9 96h1v1h-1zM9 182h1v2h-1zM9 185h1v1h-1zM9 187h1v1h-1zM9 189h1v1h-1zM9 257h1v1h-1zM9 299h1v1h-1zM9 302h1v3h-1zM9 328h1v1h-1zM10 19h1v1h-1zM10 49h1v1h-1zM10 179h1v4h-1zM10 219h1v1h-1zM10 221h1v1h-1zM10 237h1v1h-1zM10 241h1v1h-1zM10 251h1v1h-1zM10 275h1v3h-1zM10 280h1v1h-1zM10 285h1v2h-1zM10 307h1v1h-1zM10 322h1v1h-1zM10 324h1v1h-1zM10 330h1v1h-1zM10 343h1v3h-1zM10 347h1v2h-1zM10 350h1v1h-1zM10 352h1v1h-1zM11 60h1v1h-1zM11 69h1v1h-1zM11 79h1v1h-1zM11 85h1v1h-1zM11 95h1v1h-1zM11 103h1v1h-1zM11 222h1v1h-1zM11 245h1v1h-1zM11 257h1v1h-1zM12 48h1v1h-1zM12 61h1v1h-1zM12 104h1v1h-1zM12 166h1v1h-1zM12 255h1v2h-1zM12 260h1v1h-1zM12 269h1v1h-1zM12 271h1v1h-1zM12 301h1v1h-1zM12 306h1v1h-1zM12 316h1v1h-1zM12 321h1v1h-1zM12 347h1v1h-1zM12 357h1v1h-1zM13 62h1v1h-1zM13 77h1v1h-1zM13 81h1v1h-1zM13 101h1v1h-1zM13 257h1v2h-1zM13 260h1v1h-1zM13 262h1v1h-1zM13 292h1v3h-1zM13 303h1v1h-1zM13 305h1v1h-1zM13 307h1v1h-1zM13 320h1v1h-1zM13 326h1v1h-1zM13 353h1v1h-1zM14 48h1v1h-1zM14 280h1v1h-1zM14 282h1v2h-1zM14 285h1v4h-1zM14 290h1v2h-1zM14 321h1v1h-1zM14 325h1v1h-1zM14 351h1v1h-1zM15 152h1v1h-1zM15 154h1v2h-1zM15 158h1v1h-1zM15 160h1v1h-1z"/>
<path fill="#55a278" d="M0 130h1v1h-1zM0 256h1v1h-1zM1 153h1v1h-1zM1 189h1v1h-1zM1 213h1v1h-1zM1 258h1v1h-1zM1 266h1v1h-1zM1 323h1v1h-1zM2 109h1v1h-1zM2 158h1v1h-1zM2 166h1v1h-1zM2 172h1v1h-1zM2 186h1v1h-1zM2 202h1v1h-1zM2 241h1v2h-1zM2 265h1v1h-1zM2 273h1v1h-1zM2 344h1v1h-1zM2 350h1v1h-1zM3 213h1v1h-1zM3 218h1v1h-1zM3 288h1v2h-1zM3 291h1v1h-1zM3 293h1v1h-1zM3 307h1v3h-1zM3 311h1v1h-1zM3 314h1v1h-1zM3 317h1v1h-1zM3 324h1v1h-1zM3 330h1v1h-1zM4 166h1v1h-1zM5 116h1v1h-1zM5 213h1v1h-1zM5 223h1v1h-1zM5 228h1v1h-1zM5 257h1v1h-1zM5 302h1v1h-1zM5 333h1v1h-1zM5 346h1v1h-1zM7 176h1v1h-1zM7 186h1v4h-1zM7 238h1v1h-1zM7 245h1v5h-1zM7 300h1v1h-1zM7 320h1v1h-1zM8 264h1v1h-1zM8 284h1v4h-1zM8 289h1v1h-1zM8 338h1v2h-1zM9 191h1v1h-1zM9 309h1v4h-1zM10 240h1v1h-1zM10 252h1v1h-1zM10 279h1v1h-1zM10 284h1v1h-1zM10 315h1v1h-1zM12 158h1v1h-1zM12 167h1v1h-1zM12 272h1v1h-1zM13 259h1v1h-1zM14 275h1v4h-1zM14 284h1v1h-1zM14 317h1v3h-1zM14 322h1v2h-1zM14 326h1v5h-1zM14 337h1v2h-1zM14 340h1v2h-1zM14 345h1v1h-1zM14 348h1v1h-1zM14 350h1v1h-1zM14 353h1v4h-1zM14 358h1v1h-1zM15 145h1v1h-1zM15 223h1v1h-1z"/>
<path fill="#58a778" d="M0 7h1v1h-1zM0 38h1v1h-1zM0 46h1v1h-1zM0 71h1v1h-1zM0 94h1v1h-1zM0 320h1v1h-1zM1 27h1v2h-1zM1 31h1v1h-1zM1 49h1v1h-1zM1 66h1v2h-1zM1 82h1v1h-1zM1 133h1v1h-1zM1 199h1v2h-1zM1 265h1v1h-1zM2 62h1v1h-1zM2 75h1v1h-1zM2 259h1v1h-1zM2 266h1v1h-1zM3 26h1v1h-1zM3 43h1v1h-1zM3 90h1v2h-1zM3 132h1v1h-1zM3 153h1v1h-1zM3 158h1v1h-1zM3 195h1v1h-1zM3 219h1v1h-1zM3 234h1v1h-1zM3 236h1v1h-1zM3 298h1v1h-1zM4 59h1v1h-1zM5 20h1v1h-1zM5 46h1v1h-1zM5 71h1v1h-1zM5 75h1v1h-1zM5 120h1v1h-1zM5 263h1v1h-1zM5 267h1v1h-1zM6 50h1v1h-1zM6 94h1v1h-1zM6 239h1v1h-1zM7 4h1v1h-1zM7 64h1v1h-1zM7 76h1v1h-1zM7 192h1v1h-1zM7 198h1v1h-1zM7 210h1v1h-1zM7 223h1v1h-1zM8 33h1v1h-1zM8 37h1v1h-1zM8 45h1v1h-1zM8 55h1v1h-1zM8 107h1v1h-1zM8 140h1v2h-1zM8 153h1v3h-1zM8 166h1v6h-1zM8 217h1v1h-1zM8 219h1v1h-1zM8 228h1v1h-1zM8 267h1v1h-1zM8 271h1v2h-1zM8 279h1v1h-1zM8 306h1v2h-1zM8 316h1v1h-1zM8 319h1v1h-1zM8 329h1v1h-1zM8 335h1v1h-1zM8 337h1v1h-1zM8 340h1v1h-1zM8 347h1v1h-1zM8 349h1v2h-1zM9 115h1v1h-1zM9 166h1v1h-1zM9 174h1v2h-1zM9 178h1v1h-1zM9 201h1v1h-1zM9 211h1v2h-1zM9 232h1v1h-1zM9 314h1v1h-1zM9 319h1v1h-1zM9 324h1v1h-1zM10 8h1v1h-1zM10 81h1v2h-1zM10 94h1v1h-1zM10 133h1v2h-1zM10 136h1v1h-1zM10 139h1v1h-1zM10 250h1v1h-1zM10 310h1v1h-1zM10 342h1v1h-1zM11 18h1v1h-1zM11 42h1v1h-1zM11 89h1v1h-1zM11 116h1v1h-1zM11 186h1v2h-1zM11 189h1v1h-1zM12 6h1v1h-1zM12 46h1v1h-1zM12 88h1v1h-1zM12 111h1v1h-1zM12 172h1v1h-1zM12 290h1v1h-1zM13 18h1v1h-1zM13 23h1v1h-1zM13 98h1v1h-1zM13 108h1v1h-1zM13 112h1v1h-1zM13 254h1v1h-1zM13 300h1v1h-1zM14 1h1v1h-1zM14 97h1v1h-1zM14 273h1v1h-1zM14 279h1v1h-1zM14 313h1v3h-1zM14 320h1v1h-1zM14 324h1v1h-1zM14 335h1v2h-1zM14 339h1v1h-1zM14 346h1v2h-1zM14 349h1v1h-1zM14 352h1v1h-1zM14 357h1v1h-1zM15 138h1v1h-1z"/>
<path fill="#5aac77" d="M0 17h1v1h-1zM0 21h1v1h-1zM0 32h1v1h-1zM0 41h1v1h-1zM0 48h1v1h-1zM0 68h1v2h-1zM0 92h1v2h-1zM1 9h1v1h-1zM1 17h1v1h-1zM1 25h1v1h-1zM1 30h1v1h-1zM1 40h1v1h-1zM1 48h1v1h-1zM1 51h1v3h-1zM1 55h1v3h-1zM1 59h1v5h-1zM1 70h1v2h-1zM1 75h1v1h-1zM1 77h1v1h-1zM1 93h1v1h-1zM1 116h1v1h-1zM1 129h1v2h-1zM1 253h1v2h-1zM1 260h1v1h-1zM2 11h1v1h-1zM2 13h1v1h-1zM2 16h1v3h-1zM2 22h1v1h-1zM2 27h1v3h-1zM2 38h1v2h-1zM2 41h1v3h-1zM2 45h1v2h-1zM2 53h1v1h-1zM2 76h1v1h-1zM2 86h1v1h-1zM2 95h1v1h-1zM2 99h1v1h-1zM2 103h1v1h-1zM2 142h1v2h-1zM2 227h1v1h-1zM2 299h1v1h-1zM3 27h1v1h-1zM3 33h1v1h-1zM3 40h1v3h-1zM3 66h1v1h-1zM3 70h1v1h-1zM3 78h1v1h-1zM3 86h1v1h-1zM3 100h1v3h-1zM3 264h1v1h-1zM3 295h1v1h-1zM3 334h1v1h-1zM4 4h1v2h-1zM4 8h1v6h-1zM4 15h1v1h-1zM4 26h1v2h-1zM4 53h1v4h-1zM4 58h1v1h-1zM4 60h1v1h-1zM4 70h1v1h-1zM4 84h1v1h-1zM5 4h1v1h-1zM5 9h1v2h-1zM5 19h1v1h-1zM5 21h1v2h-1zM5 41h1v3h-1zM5 55h1v2h-1zM5 82h1v1h-1zM5 93h1v1h-1zM5 103h1v1h-1zM5 111h1v1h-1zM5 138h1v1h-1zM5 140h1v1h-1zM5 202h1v1h-1zM5 284h1v1h-1zM6 0h1v1h-1zM6 7h1v1h-1zM6 13h1v2h-1zM6 22h1v2h-1zM6 26h1v1h-1zM6 34h1v1h-1zM6 48h1v2h-1zM6 80h1v1h-1zM6 86h1v1h-1zM6 88h1v1h-1zM6 99h1v1h-1zM6 209h1v1h-1zM6 242h1v1h-1zM7 1h1v1h-1zM7 16h1v1h-1zM7 37h1v1h-1zM7 42h1v1h-1zM7 45h1v1h-1zM7 75h1v1h-1zM7 86h1v1h-1zM7 104h1v1h-1zM7 106h1v2h-1zM7 157h1v1h-1zM7 197h1v1h-1zM7 199h1v1h-1zM7 272h1v1h-1zM7 306h1v1h-1zM8 8h1v1h-1zM8 10h1v2h-1zM8 19h1v1h-1zM8 25h1v1h-1zM8 32h1v1h-1zM8 51h1v1h-1zM8 56h1v1h-1zM8 63h1v1h-1zM8 104h1v1h-1zM8 106h1v1h-1zM8 112h1v2h-1zM8 115h1v4h-1zM8 161h1v1h-1zM8 210h1v5h-1zM8 220h1v3h-1zM8 229h1v2h-1zM8 243h1v1h-1zM8 249h1v1h-1zM8 254h1v3h-1zM8 268h1v2h-1zM8 278h1v1h-1zM8 280h1v1h-1zM8 294h1v1h-1zM8 308h1v1h-1zM8 310h1v1h-1zM8 317h1v2h-1zM8 322h1v1h-1zM8 324h1v1h-1zM8 330h1v5h-1zM8 336h1v1h-1zM8 341h1v1h-1zM8 348h1v1h-1zM8 355h1v2h-1zM9 41h1v3h-1zM9 61h1v1h-1zM9 113h1v1h-1zM9 123h1v2h-1zM9 131h1v2h-1zM9 145h1v1h-1zM9 150h1v1h-1zM9 152h1v6h-1zM9 164h1v2h-1zM9 167h1v2h-1zM9 173h1v1h-1zM9 177h1v1h-1zM9 207h1v3h-1zM9 217h1v2h-1zM9 223h1v2h-1zM9 227h1v5h-1zM9 307h1v1h-1zM9 317h1v1h-1zM9 320h1v1h-1zM9 323h1v1h-1zM10 3h1v1h-1zM10 6h1v1h-1zM10 31h1v2h-1zM10 57h1v1h-1zM10 72h1v4h-1zM10 77h1v1h-1zM10 83h1v1h-1zM10 93h1v1h-1zM10 95h1v1h-1zM10 123h1v1h-1zM10 131h1v1h-1zM10 135h1v1h-1zM10 137h1v1h-1zM10 140h1v2h-1zM10 170h1v3h-1zM10 183h1v1h-1zM10 186h1v4h-1zM10 260h1v3h-1zM10 274h1v1h-1zM10 305h1v1h-1zM10 311h1v1h-1zM10 349h1v1h-1zM11 13h1v1h-1zM11 16h1v2h-1zM11 27h1v2h-1zM11 30h1v1h-1zM11 43h1v1h-1zM11 45h1v6h-1zM11 57h1v1h-1zM11 67h1v1h-1zM11 74h1v1h-1zM11 84h1v1h-1zM11 87h1v1h-1zM11 92h1v2h-1zM11 99h1v1h-1zM11 101h1v1h-1zM11 114h1v2h-1zM11 188h1v1h-1zM11 191h1v1h-1zM11 214h1v1h-1zM11 216h1v3h-1zM11 230h1v1h-1zM11 238h1v1h-1zM11 240h1v2h-1zM11 258h1v2h-1zM11 299h1v1h-1zM11 325h1v2h-1zM11 328h1v3h-1zM12 0h1v1h-1zM12 38h1v2h-1zM12 41h1v3h-1zM12 52h1v1h-1zM12 57h1v1h-1zM12 73h1v1h-1zM12 80h1v1h-1zM12 86h1v1h-1zM12 89h1v1h-1zM12 91h1v3h-1zM12 101h1v2h-1zM12 105h1v6h-1zM12 112h1v2h-1zM12 118h1v3h-1zM12 125h1v1h-1zM12 131h1v2h-1zM12 139h1v2h-1zM12 146h1v1h-1zM12 168h1v4h-1zM12 176h1v1h-1zM12 220h1v3h-1zM12 268h1v1h-1zM12 291h1v1h-1zM12 302h1v2h-1zM13 9h1v2h-1zM13 16h1v1h-1zM13 22h1v1h-1zM13 24h1v3h-1zM13 41h1v2h-1zM13 48h1v1h-1zM13 79h1v2h-1zM13 86h1v1h-1zM13 88h1v1h-1zM13 91h1v2h-1zM13 99h1v2h-1zM13 104h1v4h-1zM13 110h1v2h-1zM13 113h1v1h-1zM13 118h1v1h-1zM13 130h1v2h-1zM13 142h1v1h-1zM14 0h1v1h-1zM14 59h1v4h-1zM14 67h1v1h-1zM14 72h1v4h-1zM14 96h1v1h-1zM14 111h1v1h-1zM14 170h1v1h-1zM14 294h1v2h-1zM14 297h1v3h-1zM14 305h1v1h-1zM14 331h1v4h-1zM15 109h1v1h-1zM15 140h1v1h-1zM15 147h1v1h-1zM15 150h1v1h-1z"/>
<path fill="#5fb074" d="M0 81h1v2h-1zM0 150h1v1h-1zM1 26h1v1h-1zM1 50h1v1h-1zM1 54h1v1h-1zM1 58h1v1h-1zM1 64h1v2h-1zM1 69h1v1h-1zM1 221h1v1h-1zM2 24h1v1h-1zM2 48h1v1h-1zM2 96h1v1h-1zM3 28h1v2h-1zM3 54h1v1h-1zM3 69h1v1h-1zM3 87h1v1h-1zM3 257h1v1h-1zM3 316h1v1h-1zM3 342h1v1h-1zM3 344h1v1h-1zM3 348h1v1h-1zM4 14h1v1h-1zM4 16h1v1h-1zM4 52h1v1h-1zM4 225h1v1h-1zM5 64h1v1h-1zM5 70h1v1h-1zM5 72h1v1h-1zM5 106h1v1h-1zM5 139h1v1h-1zM5 290h1v3h-1zM5 311h1v2h-1zM6 21h1v1h-1zM6 98h1v1h-1zM7 87h1v1h-1zM7 191h1v1h-1zM7 194h1v2h-1zM7 200h1v1h-1zM8 31h1v1h-1zM8 151h1v1h-1zM8 157h1v2h-1zM8 218h1v1h-1zM8 223h1v1h-1zM8 225h1v3h-1zM8 248h1v1h-1zM8 295h1v1h-1zM8 303h1v1h-1zM8 311h1v2h-1zM8 320h1v1h-1zM8 323h1v1h-1zM8 325h1v1h-1zM8 351h1v2h-1zM9 112h1v1h-1zM9 172h1v1h-1zM9 190h1v1h-1zM9 203h1v1h-1zM9 206h1v1h-1zM9 225h1v1h-1zM9 249h1v1h-1zM9 316h1v1h-1zM9 318h1v1h-1zM10 21h1v1h-1zM10 30h1v1h-1zM10 96h1v1h-1zM10 122h1v1h-1zM10 225h1v1h-1zM10 234h1v3h-1zM10 242h1v2h-1zM10 248h1v2h-1zM10 271h1v3h-1zM10 313h1v1h-1zM11 3h1v1h-1zM11 14h1v1h-1zM11 29h1v1h-1zM11 55h1v2h-1zM11 66h1v1h-1zM11 83h1v1h-1zM11 126h1v1h-1zM11 183h1v1h-1zM11 208h1v2h-1zM11 212h1v2h-1zM11 215h1v1h-1zM11 244h1v1h-1zM11 260h1v1h-1zM11 278h1v3h-1zM11 282h1v2h-1zM11 285h1v1h-1zM11 296h1v1h-1zM11 298h1v1h-1zM11 320h1v5h-1zM11 327h1v1h-1zM12 90h1v1h-1zM12 100h1v1h-1zM12 103h1v1h-1zM12 124h1v1h-1zM12 126h1v1h-1zM12 138h1v1h-1zM12 144h1v1h-1zM12 147h1v1h-1zM12 151h1v2h-1zM12 157h1v1h-1zM12 182h1v1h-1zM12 185h1v1h-1zM12 188h1v1h-1zM12 199h1v1h-1zM12 294h1v2h-1zM13 49h1v1h-1zM13 132h1v1h-1zM13 138h1v1h-1zM13 143h1v1h-1zM13 253h1v1h-1zM13 302h1v1h-1zM14 53h1v1h-1zM14 69h1v1h-1zM14 78h1v1h-1zM14 171h1v1h-1zM14 266h1v1h-1zM14 292h1v1h-1zM14 296h1v1h-1zM15 139h1v1h-1zM15 149h1v1h-1zM15 164h1v1h-1zM15 224h1v1h-1z"/>
<path fill="#64b472" d="M1 180h1v1h-1zM1 274h1v1h-1zM1 300h1v1h-1zM3 255h1v1h-1zM3 294h1v1h-1zM3 343h1v1h-1zM3 347h1v1h-1zM5 264h1v3h-1zM5 293h1v1h-1zM5 305h1v2h-1zM7 215h1v1h-1zM7 294h1v2h-1zM7 332h1v1h-1zM8 152h1v1h-1zM8 156h1v1h-1zM8 186h1v1h-1zM8 224h1v1h-1zM8 304h1v1h-1zM8 321h1v1h-1zM8 357h1v2h-1zM9 204h1v2h-1zM9 238h1v3h-1zM9 242h1v3h-1zM9 248h1v1h-1zM9 298h1v1h-1zM9 301h1v1h-1zM9 308h1v1h-1zM9 313h1v1h-1zM10 223h1v2h-1zM10 226h1v1h-1zM10 238h1v1h-1zM10 281h1v1h-1zM11 242h1v2h-1zM11 272h1v3h-1zM11 281h1v1h-1zM11 286h1v4h-1zM11 297h1v1h-1zM11 309h1v1h-1zM12 145h1v1h-1zM12 154h1v1h-1zM12 156h1v1h-1zM12 161h1v1h-1zM12 183h1v1h-1zM12 186h1v2h-1zM12 189h1v1h-1zM12 200h1v2h-1zM14 168h1v1h-1zM14 183h1v1h-1zM14 263h1v3h-1zM14 281h1v1h-1zM14 293h1v1h-1zM14 307h1v1h-1zM14 310h1v1h-1zM14 316h1v1h-1zM15 163h1v1h-1z"/>
<path fill="#69b86f" d="M0 13h1v1h-1zM0 16h1v1h-1zM0 58h1v1h-1zM0 61h1v1h-1zM0 72h1v1h-1zM0 95h1v1h-1zM1 15h1v1h-1zM1 94h1v1h-1zM2 19h1v1h-1zM2 70h1v1h-1zM3 59h1v1h-1zM3 74h1v1h-1zM4 34h1v2h-1zM4 110h1v1h-1zM5 15h1v1h-1zM5 26h1v1h-1zM5 36h1v1h-1zM5 332h1v1h-1zM6 8h1v1h-1zM6 66h1v1h-1zM6 90h1v1h-1zM7 24h1v1h-1zM7 27h1v1h-1zM7 126h1v1h-1zM8 3h1v1h-1zM8 26h1v1h-1zM8 43h1v1h-1zM8 137h1v1h-1zM8 165h1v1h-1zM8 215h1v1h-1zM8 297h1v1h-1zM8 326h1v1h-1zM9 52h1v1h-1zM9 125h1v1h-1zM9 133h1v2h-1zM9 151h1v1h-1zM9 192h1v4h-1zM9 198h1v1h-1zM9 213h1v2h-1zM9 235h1v1h-1zM9 321h1v2h-1zM10 14h1v1h-1zM10 227h1v1h-1zM10 229h1v1h-1zM10 282h1v2h-1zM10 308h1v1h-1zM11 12h1v1h-1zM11 107h1v3h-1zM11 119h1v1h-1zM11 207h1v1h-1zM11 335h1v2h-1zM11 350h1v2h-1zM12 3h1v1h-1zM12 53h1v1h-1zM12 122h1v2h-1zM12 155h1v1h-1zM12 173h1v1h-1zM12 181h1v1h-1zM12 229h1v1h-1zM13 125h1v1h-1zM13 199h1v1h-1zM13 201h1v1h-1zM14 306h1v1h-1zM14 308h1v2h-1zM14 342h1v3h-1z"/>
<path fill="#6ebc6c" d="M0 3h1v1h-1zM0 5h1v1h-1zM0 8h1v2h-1zM0 14h1v1h-1zM0 31h1v1h-1zM0 37h1v1h-1zM0 42h1v1h-1zM0 49h1v2h-1zM0 56h1v2h-1zM0 70h1v1h-1zM0 80h1v1h-1zM0 96h1v1h-1zM0 98h1v1h-1zM1 7h1v2h-1zM1 12h1v1h-1zM1 16h1v1h-1zM1 18h1v1h-1zM1 33h1v1h-1zM1 68h1v1h-1zM1 72h1v3h-1zM1 91h1v1h-1zM1 96h1v1h-1zM2 14h1v1h-1zM2 55h1v5h-1zM2 67h1v1h-1zM2 69h1v1h-1zM2 77h1v3h-1zM2 85h1v1h-1zM2 87h1v1h-1zM2 90h1v2h-1zM2 101h1v1h-1zM3 0h1v1h-1zM3 5h1v2h-1zM3 34h1v5h-1zM3 55h1v4h-1zM3 60h1v2h-1zM3 63h1v1h-1zM3 65h1v1h-1zM3 68h1v1h-1zM3 73h1v1h-1zM3 92h1v2h-1zM4 30h1v1h-1zM4 51h1v1h-1zM4 67h1v1h-1zM4 69h1v1h-1zM4 95h1v1h-1zM5 2h1v1h-1zM5 8h1v1h-1zM5 13h1v2h-1zM5 16h1v1h-1zM5 35h1v1h-1zM5 49h1v2h-1zM5 79h1v1h-1zM5 90h1v2h-1zM5 95h1v1h-1zM5 268h1v1h-1zM6 2h1v1h-1zM6 9h1v2h-1zM6 16h1v1h-1zM6 25h1v1h-1zM6 73h1v2h-1zM6 77h1v2h-1zM6 84h1v1h-1zM6 91h1v1h-1zM7 11h1v2h-1zM7 23h1v1h-1zM7 25h1v1h-1zM7 28h1v1h-1zM7 41h1v1h-1zM7 62h1v2h-1zM7 72h1v1h-1zM7 74h1v1h-1zM7 85h1v1h-1zM7 91h1v1h-1zM7 105h1v1h-1zM7 141h1v1h-1zM8 7h1v1h-1zM8 21h1v2h-1zM8 24h1v1h-1zM8 38h1v1h-1zM8 41h1v2h-1zM8 81h1v2h-1zM8 108h1v1h-1zM8 111h1v1h-1zM8 127h1v6h-1zM8 134h1v3h-1zM8 139h1v1h-1zM8 148h1v2h-1zM8 162h1v1h-1zM8 164h1v1h-1zM8 172h1v2h-1zM8 208h1v2h-1zM8 259h1v3h-1zM8 270h1v1h-1zM8 281h1v3h-1zM8 296h1v1h-1zM8 309h1v1h-1zM8 327h1v2h-1zM8 342h1v2h-1zM8 353h1v1h-1zM9 33h1v1h-1zM9 120h1v3h-1zM9 126h1v2h-1zM9 137h1v1h-1zM9 160h1v1h-1zM9 162h1v1h-1zM9 169h1v3h-1zM9 176h1v1h-1zM9 196h1v2h-1zM9 210h1v1h-1zM9 215h1v2h-1zM9 233h1v1h-1zM9 236h1v1h-1zM9 259h1v1h-1zM10 5h1v1h-1zM10 9h1v1h-1zM10 24h1v1h-1zM10 97h1v1h-1zM10 114h1v3h-1zM10 120h1v1h-1zM10 174h1v2h-1zM10 228h1v1h-1zM10 230h1v3h-1zM10 254h1v1h-1zM10 309h1v1h-1zM11 1h1v1h-1zM11 20h1v2h-1zM11 72h1v1h-1zM11 80h1v1h-1zM11 117h1v2h-1zM11 228h1v2h-1zM11 234h1v2h-1zM11 302h1v1h-1zM11 352h1v1h-1zM12 2h1v1h-1zM12 14h1v3h-1zM12 44h1v1h-1zM12 54h1v1h-1zM12 81h1v2h-1zM12 85h1v1h-1zM12 148h1v2h-1zM12 175h1v1h-1zM12 177h1v3h-1zM12 227h1v2h-1zM12 230h1v1h-1zM12 235h1v1h-1zM12 262h1v1h-1zM13 0h1v1h-1zM13 12h1v1h-1zM13 14h1v2h-1zM13 78h1v1h-1zM13 93h1v2h-1zM13 116h1v1h-1zM13 124h1v1h-1zM13 172h1v1h-1zM13 200h1v1h-1zM14 2h1v1h-1zM14 41h1v2h-1zM14 86h1v2h-1zM14 112h1v1h-1zM14 311h1v2h-1zM15 104h1v1h-1z"/>
<path fill="#77c169" d="M0 15h1v1h-1zM0 20h1v1h-1zM0 26h1v1h-1zM2 100h1v1h-1zM2 102h1v1h-1zM2 254h1v1h-1zM3 44h1v2h-1zM3 62h1v1h-1zM3 64h1v1h-1zM3 88h1v1h-1zM4 57h1v1h-1zM4 68h1v1h-1zM5 7h1v1h-1zM5 88h1v1h-1zM6 12h1v1h-1zM7 61h1v1h-1zM8 20h1v1h-1zM8 28h1v1h-1zM8 119h1v1h-1zM8 133h1v1h-1zM8 145h1v1h-1zM8 147h1v1h-1zM8 150h1v1h-1zM8 160h1v1h-1zM8 163h1v1h-1zM8 253h1v1h-1zM8 265h1v1h-1zM8 302h1v1h-1zM8 344h1v1h-1zM8 354h1v1h-1zM9 110h1v1h-1zM9 136h1v1h-1zM9 158h1v1h-1zM9 163h1v1h-1zM9 234h1v1h-1zM9 245h1v1h-1zM9 247h1v1h-1zM9 250h1v1h-1zM9 252h1v1h-1zM9 258h1v1h-1zM10 178h1v1h-1zM10 190h1v1h-1zM10 239h1v1h-1zM10 244h1v1h-1zM10 253h1v1h-1zM10 296h1v2h-1zM11 236h1v1h-1zM11 331h1v1h-1zM11 354h1v1h-1zM12 55h1v1h-1zM12 141h1v3h-1zM12 150h1v1h-1zM12 174h1v1h-1zM12 180h1v1h-1zM12 257h1v2h-1zM13 27h1v1h-1zM13 95h1v1h-1zM13 144h1v3h-1zM13 195h1v1h-1zM14 98h1v1h-1zM14 113h1v1h-1zM14 149h1v1h-1zM14 165h1v1h-1zM14 184h1v2h-1zM14 267h1v6h-1zM14 301h1v1h-1zM14 303h1v1h-1z"/>
<path fill="#80c666" d="M7 183h1v1h-1zM7 296h1v2h-1zM8 144h1v1h-1zM8 146h1v1h-1zM8 159h1v1h-1zM8 301h1v1h-1zM9 144h1v1h-1zM9 159h1v1h-1zM9 219h1v4h-1zM9 241h1v1h-1zM9 246h1v1h-1zM9 251h1v1h-1zM10 162h1v2h-1zM10 176h1v2h-1zM10 292h1v2h-1zM11 184h1v1h-1zM11 211h1v1h-1zM11 219h1v1h-1zM11 294h1v2h-1zM11 308h1v1h-1zM11 310h1v1h-1zM11 312h1v1h-1zM11 314h1v2h-1zM11 332h1v1h-1zM11 337h1v2h-1zM11 346h1v3h-1zM11 355h1v4h-1zM12 153h1v1h-1zM12 159h1v2h-1zM12 162h1v1h-1zM12 165h1v1h-1zM12 184h1v1h-1zM12 234h1v1h-1zM12 299h1v1h-1zM14 148h1v1h-1zM14 150h1v1h-1zM14 300h1v1h-1zM14 302h1v1h-1zM14 304h1v1h-1zM15 146h1v1h-1z"/>
<path fill="#89cb62" d="M0 2h1v1h-1zM0 25h1v1h-1zM0 29h1v1h-1zM0 59h1v1h-1zM0 77h1v1h-1zM2 47h1v1h-1zM2 49h1v2h-1zM3 2h1v1h-1zM3 4h1v1h-1zM3 25h1v1h-1zM4 47h1v1h-1zM4 76h1v1h-1zM5 11h1v1h-1zM5 61h1v1h-1zM5 63h1v1h-1zM6 19h1v1h-1zM6 27h1v1h-1zM6 55h1v1h-1zM6 67h1v1h-1zM7 22h1v1h-1zM7 34h1v2h-1zM7 38h1v1h-1zM7 88h1v1h-1zM8 6h1v1h-1zM8 9h1v1h-1zM8 18h1v1h-1zM8 52h1v1h-1zM8 58h1v1h-1zM8 89h1v1h-1zM8 109h1v1h-1zM8 174h1v4h-1zM8 257h1v2h-1zM8 266h1v1h-1zM8 298h1v2h-1zM8 314h1v1h-1zM9 111h1v1h-1zM9 119h1v1h-1zM9 202h1v1h-1zM9 237h1v1h-1zM9 356h1v1h-1zM9 358h1v1h-1zM10 68h1v1h-1zM10 111h1v1h-1zM10 113h1v1h-1zM10 128h1v1h-1zM10 164h1v1h-1zM10 212h1v3h-1zM10 301h1v1h-1zM10 303h1v1h-1zM11 128h1v1h-1zM11 159h1v2h-1zM11 224h1v1h-1zM11 253h1v1h-1zM11 268h1v4h-1zM11 304h1v1h-1zM11 311h1v1h-1zM11 313h1v1h-1zM11 317h1v2h-1zM11 339h1v3h-1zM11 345h1v1h-1zM11 353h1v1h-1zM12 163h1v2h-1zM12 210h1v2h-1zM12 249h1v2h-1zM12 293h1v1h-1zM13 66h1v1h-1zM13 68h1v1h-1zM13 71h1v1h-1zM13 129h1v1h-1zM13 139h1v1h-1zM13 150h1v1h-1zM13 159h1v3h-1zM14 169h1v1h-1zM14 186h1v2h-1zM15 179h1v1h-1z"/>
<path fill="#92d05f" d="M0 0h1v1h-1zM0 4h1v1h-1zM0 6h1v1h-1zM0 10h1v1h-1zM0 18h1v2h-1zM0 23h1v2h-1zM0 30h1v1h-1zM0 34h1v1h-1zM0 36h1v1h-1zM0 43h1v1h-1zM0 53h1v1h-1zM0 60h1v1h-1zM0 62h1v1h-1zM0 67h1v1h-1zM0 73h1v3h-1zM0 83h1v1h-1zM0 87h1v3h-1zM0 91h1v1h-1zM0 97h1v1h-1zM0 99h1v1h-1zM0 101h1v1h-1zM1 5h1v1h-1zM1 13h1v1h-1zM1 19h1v1h-1zM1 21h1v1h-1zM1 24h1v1h-1zM1 32h1v1h-1zM1 35h1v1h-1zM1 37h1v1h-1zM1 39h1v1h-1zM1 45h1v2h-1zM1 78h1v1h-1zM1 80h1v1h-1zM1 89h1v1h-1zM1 92h1v1h-1zM2 9h1v2h-1zM2 12h1v1h-1zM2 15h1v1h-1zM2 23h1v1h-1zM2 40h1v1h-1zM2 94h1v1h-1zM2 97h1v2h-1zM3 7h1v2h-1zM3 71h1v1h-1zM3 83h1v1h-1zM3 94h1v1h-1zM3 97h1v3h-1zM4 6h1v1h-1zM4 31h1v1h-1zM4 36h1v3h-1zM4 40h1v2h-1zM4 46h1v1h-1zM4 75h1v1h-1zM5 3h1v1h-1zM5 12h1v1h-1zM5 17h1v1h-1zM5 28h1v1h-1zM5 32h1v3h-1zM5 57h1v2h-1zM5 62h1v1h-1zM5 108h1v1h-1zM6 11h1v1h-1zM6 17h1v2h-1zM6 28h1v2h-1zM6 35h1v3h-1zM6 51h1v1h-1zM6 54h1v1h-1zM6 56h1v1h-1zM6 68h1v3h-1zM6 79h1v1h-1zM6 89h1v1h-1zM7 13h1v2h-1zM7 18h1v2h-1zM7 26h1v1h-1zM7 36h1v1h-1zM7 57h1v1h-1zM7 65h1v3h-1zM7 89h1v1h-1zM7 125h1v1h-1zM8 16h1v2h-1zM8 23h1v1h-1zM8 29h1v1h-1zM8 39h1v1h-1zM8 46h1v2h-1zM8 49h1v1h-1zM8 57h1v1h-1zM8 59h1v1h-1zM8 62h1v1h-1zM8 64h1v2h-1zM8 88h1v1h-1zM8 178h1v1h-1zM8 290h1v1h-1zM8 345h1v2h-1zM9 135h1v1h-1zM9 140h1v4h-1zM9 148h1v2h-1zM9 200h1v1h-1zM9 290h1v2h-1zM9 294h1v1h-1zM9 297h1v1h-1zM9 353h1v1h-1zM9 355h1v1h-1zM9 357h1v1h-1zM10 17h1v1h-1zM10 44h1v1h-1zM10 64h1v4h-1zM10 69h1v2h-1zM10 104h1v1h-1zM10 108h1v1h-1zM10 110h1v1h-1zM10 121h1v1h-1zM10 125h1v3h-1zM10 185h1v1h-1zM10 215h1v4h-1zM10 233h1v1h-1zM10 302h1v1h-1zM10 304h1v1h-1zM11 4h1v1h-1zM11 31h1v2h-1zM11 34h1v1h-1zM11 40h1v1h-1zM11 88h1v1h-1zM11 90h1v1h-1zM11 105h1v2h-1zM11 127h1v1h-1zM11 129h1v1h-1zM11 134h1v1h-1zM11 143h1v1h-1zM11 161h1v1h-1zM11 164h1v1h-1zM11 185h1v1h-1zM11 226h1v2h-1zM11 231h1v1h-1zM11 254h1v3h-1zM11 275h1v2h-1zM11 316h1v1h-1zM11 319h1v1h-1zM11 349h1v1h-1zM12 9h1v4h-1zM12 76h1v2h-1zM12 117h1v1h-1zM12 127h1v1h-1zM12 136h1v2h-1zM12 208h1v1h-1zM12 213h1v3h-1zM12 292h1v1h-1zM13 1h1v2h-1zM13 13h1v1h-1zM13 17h1v1h-1zM13 47h1v1h-1zM13 65h1v1h-1zM13 67h1v1h-1zM13 69h1v1h-1zM13 73h1v2h-1zM13 126h1v3h-1zM13 140h1v2h-1zM13 162h1v2h-1zM13 175h1v4h-1zM14 115h1v1h-1zM14 176h1v1h-1zM14 178h1v1h-1zM14 188h1v2h-1zM15 106h1v3h-1zM15 110h1v1h-1zM15 113h1v2h-1zM15 124h1v1h-1zM15 129h1v4h-1zM15 144h1v1h-1zM15 180h1v1h-1zM15 307h1v1h-1z"/>
<path fill="#9fd65d" d="M0 85h1v1h-1zM1 0h1v1h-1zM1 14h1v1h-1zM1 36h1v1h-1zM1 47h1v1h-1zM1 79h1v1h-1zM1 90h1v1h-1zM3 84h1v1h-1zM5 27h1v1h-1zM6 53h1v1h-1zM6 71h1v1h-1zM7 17h1v1h-1zM7 21h1v1h-1zM8 48h1v1h-1zM8 50h1v1h-1zM8 60h1v1h-1zM8 291h1v1h-1zM8 313h1v1h-1zM8 315h1v1h-1zM9 116h1v1h-1zM9 255h1v2h-1zM9 295h1v2h-1zM9 305h1v2h-1zM9 354h1v1h-1zM10 71h1v1h-1zM10 109h1v1h-1zM10 112h1v1h-1zM10 129h1v1h-1zM10 165h1v3h-1zM10 173h1v1h-1zM10 331h1v1h-1zM11 91h1v1h-1zM11 104h1v1h-1zM11 142h1v1h-1zM11 162h1v2h-1zM11 223h1v1h-1zM11 277h1v1h-1zM11 300h1v2h-1zM11 342h1v3h-1zM12 13h1v1h-1zM12 116h1v1h-1zM12 202h1v2h-1zM12 206h1v2h-1zM12 209h1v1h-1zM12 224h1v1h-1zM12 226h1v1h-1zM13 3h1v1h-1zM13 64h1v1h-1zM13 70h1v1h-1zM13 147h1v1h-1zM13 164h1v1h-1zM13 196h1v3h-1zM14 173h1v1h-1zM14 177h1v1h-1zM14 274h1v1h-1zM15 105h1v1h-1z"/>
<path fill="#acdb5a" d="M7 260h1v2h-1zM8 207h1v1h-1zM9 147h1v1h-1zM9 161h1v1h-1zM9 342h1v2h-1zM9 350h1v3h-1zM10 147h1v1h-1zM10 155h1v1h-1zM10 207h1v2h-1zM11 146h1v1h-1zM11 151h1v3h-1zM11 180h1v1h-1zM11 284h1v1h-1zM12 204h1v2h-1zM12 225h1v1h-1zM12 232h1v2h-1zM12 244h1v1h-1zM12 247h1v2h-1zM12 251h1v1h-1zM13 148h1v2h-1zM13 203h1v1h-1zM13 206h1v1h-1zM14 166h1v2h-1zM14 172h1v1h-1z"/>
<path fill="#b9e058" d="M0 102h1v1h-1zM1 1h1v2h-1zM1 34h1v1h-1zM1 97h1v1h-1zM2 1h1v1h-1zM2 37h1v1h-1zM2 63h1v1h-1zM2 93h1v1h-1zM3 20h1v1h-1zM3 30h1v1h-1zM4 39h1v1h-1zM4 77h1v1h-1zM5 89h1v1h-1zM6 87h1v1h-1zM7 20h1v1h-1zM7 68h1v1h-1zM7 73h1v1h-1zM8 72h1v1h-1zM8 78h1v1h-1zM8 120h1v1h-1zM9 106h1v1h-1zM9 108h1v1h-1zM9 332h1v3h-1zM9 344h1v1h-1zM9 347h1v3h-1zM10 153h1v2h-1zM10 156h1v2h-1zM11 130h1v1h-1zM11 155h1v4h-1zM11 168h1v1h-1zM11 179h1v1h-1zM11 232h1v2h-1zM11 263h1v5h-1zM11 333h1v2h-1zM12 231h1v1h-1zM12 236h1v1h-1zM12 242h1v2h-1zM12 246h1v1h-1zM12 252h1v1h-1zM13 135h1v1h-1zM13 173h1v2h-1zM13 202h1v1h-1zM13 204h1v2h-1zM14 114h1v1h-1zM14 135h1v1h-1zM14 180h1v1h-1zM14 182h1v1h-1zM14 236h1v3h-1zM15 126h1v1h-1zM15 277h1v1h-1z"/>
<path fill="#c6e656" d="M0 1h1v1h-1zM0 11h1v2h-1zM0 22h1v1h-1zM0 39h1v2h-1zM0 63h1v3h-1zM0 76h1v1h-1zM0 79h1v1h-1zM0 84h1v1h-1zM0 86h1v1h-1zM0 100h1v1h-1zM0 103h1v1h-1zM1 4h1v1h-1zM1 6h1v1h-1zM1 23h1v1h-1zM1 44h1v1h-1zM1 76h1v1h-1zM1 81h1v1h-1zM1 86h1v2h-1zM1 100h1v1h-1zM1 103h1v1h-1zM2 0h1v1h-1zM2 4h1v2h-1zM2 31h1v2h-1zM2 34h1v3h-1zM2 65h1v2h-1zM2 88h1v1h-1zM2 92h1v1h-1zM3 12h1v1h-1zM3 15h1v2h-1zM3 18h1v2h-1zM3 22h1v2h-1zM3 31h1v2h-1zM3 51h1v2h-1zM3 72h1v1h-1zM3 89h1v1h-1zM4 44h1v2h-1zM4 72h1v1h-1zM5 1h1v1h-1zM5 18h1v1h-1zM5 23h1v1h-1zM5 25h1v1h-1zM5 29h1v1h-1zM5 39h1v1h-1zM5 47h1v1h-1zM5 77h1v1h-1zM5 83h1v2h-1zM5 92h1v1h-1zM6 57h1v1h-1zM6 63h1v2h-1zM6 72h1v1h-1zM6 75h1v2h-1zM6 81h1v2h-1zM6 85h1v1h-1zM6 93h1v1h-1zM7 6h1v1h-1zM7 8h1v1h-1zM7 53h1v1h-1zM7 55h1v2h-1zM7 77h1v1h-1zM7 79h1v1h-1zM7 115h1v1h-1zM7 179h1v1h-1zM8 44h1v1h-1zM8 66h1v3h-1zM8 71h1v1h-1zM8 76h1v1h-1zM8 83h1v2h-1zM8 92h1v1h-1zM8 273h1v1h-1zM9 107h1v1h-1zM9 109h1v1h-1zM9 117h1v2h-1zM9 138h1v2h-1zM9 331h1v1h-1zM9 345h1v2h-1zM10 18h1v1h-1zM10 59h1v2h-1zM10 105h1v2h-1zM10 117h1v3h-1zM10 158h1v1h-1zM10 168h1v1h-1zM10 291h1v1h-1zM10 294h1v1h-1zM10 298h1v3h-1zM11 25h1v1h-1zM11 58h1v1h-1zM11 120h1v2h-1zM11 123h1v1h-1zM11 125h1v1h-1zM11 132h1v2h-1zM11 140h1v2h-1zM11 147h1v1h-1zM11 154h1v1h-1zM11 169h1v1h-1zM11 181h1v1h-1zM11 225h1v1h-1zM11 290h1v4h-1zM11 303h1v1h-1zM12 51h1v1h-1zM12 75h1v1h-1zM12 83h1v1h-1zM12 94h1v1h-1zM12 115h1v1h-1zM12 197h1v1h-1zM12 237h1v2h-1zM13 5h1v1h-1zM13 20h1v2h-1zM13 45h1v2h-1zM13 97h1v1h-1zM13 136h1v1h-1zM13 151h1v3h-1zM13 170h1v1h-1zM13 211h1v2h-1zM13 225h1v1h-1zM14 79h1v1h-1zM14 105h1v3h-1zM14 110h1v1h-1zM14 116h1v8h-1zM14 133h1v2h-1zM14 142h1v2h-1zM14 146h1v1h-1zM14 179h1v1h-1zM14 181h1v1h-1zM14 210h1v3h-1zM14 255h1v1h-1zM15 111h1v1h-1zM15 117h1v1h-1zM15 125h1v1h-1zM15 128h1v1h-1zM15 275h1v2h-1z"/>
<path fill="#d4ec54" d="M0 55h1v1h-1zM1 20h1v1h-1zM1 38h1v1h-1zM1 88h1v1h-1zM1 95h1v1h-1zM1 102h1v1h-1zM2 2h1v2h-1zM2 6h1v1h-1zM2 25h1v1h-1zM2 64h1v1h-1zM2 89h1v1h-1zM3 53h1v1h-1zM5 24h1v1h-1zM5 30h1v1h-1zM6 62h1v1h-1zM6 65h1v1h-1zM7 0h1v1h-1zM7 52h1v1h-1zM7 69h1v1h-1zM8 69h1v2h-1zM8 75h1v1h-1zM8 77h1v1h-1zM8 79h1v1h-1zM8 85h1v1h-1zM9 114h1v1h-1zM9 266h1v1h-1zM9 268h1v1h-1zM9 338h1v1h-1zM9 340h1v2h-1zM10 92h1v1h-1zM10 144h1v1h-1zM10 209h1v1h-1zM10 290h1v1h-1zM10 295h1v1h-1zM11 122h1v1h-1zM11 131h1v1h-1zM11 182h1v1h-1zM11 261h1v1h-1zM12 129h1v2h-1zM12 198h1v1h-1zM12 216h1v3h-1zM12 223h1v1h-1zM12 240h1v1h-1zM13 4h1v1h-1zM13 171h1v1h-1zM13 210h1v1h-1zM13 226h1v1h-1zM14 144h1v2h-1zM14 147h1v1h-1zM14 175h1v1h-1zM14 253h1v1h-1zM14 256h1v2h-1zM15 127h1v1h-1zM15 274h1v1h-1zM15 278h1v2h-1z"/>
<path fill="#e2f253" d="M0 66h1v1h-1zM9 261h1v2h-1zM9 267h1v1h-1zM9 335h1v2h-1zM10 151h1v1h-1zM11 262h1v1h-1zM12 195h1v2h-1zM12 239h1v1h-1zM12 241h1v1h-1zM12 245h1v1h-1zM13 165h1v2h-1zM13 190h1v3h-1zM13 208h1v2h-1zM13 222h1v2h-1zM13 234h1v2h-1zM13 246h1v2h-1zM14 156h1v3h-1zM14 174h1v1h-1zM14 192h1v3h-1zM14 213h1v1h-1zM14 220h1v1h-1zM14 243h1v2h-1zM14 254h1v1h-1zM14 260h1v3h-1zM15 280h1v1h-1z"/>
<path fill="#f1f952" d="M9 337h1v1h-1zM9 339h1v1h-1zM10 145h1v2h-1zM10 159h1v3h-1zM11 148h1v3h-1zM13 154h1v2h-1zM13 167h1v1h-1zM13 207h1v1h-1zM13 245h1v1h-1zM14 215h1v1h-1zM14 242h1v1h-1zM15 258h1v1h-1zM15 264h1v1h-1z"/>
<path fill="#ffff50" d="M0 27h1v2h-1zM0 35h1v1h-1zM0 78h1v1h-1zM0 90h1v1h-1zM1 3h1v1h-1zM1 22h1v1h-1zM1 41h1v3h-1zM1 83h1v3h-1zM1 98h1v2h-1zM1 101h1v1h-1zM2 7h1v2h-1zM2 26h1v1h-1zM2 30h1v1h-1zM2 33h1v1h-1zM3 9h1v3h-1zM3 13h1v2h-1zM3 17h1v1h-1zM3 21h1v1h-1zM3 24h1v1h-1zM3 46h1v5h-1zM4 32h1v2h-1zM4 42h1v2h-1zM5 0h1v1h-1zM5 31h1v1h-1zM5 37h1v2h-1zM5 40h1v1h-1zM5 44h1v2h-1zM6 52h1v1h-1zM6 58h1v4h-1zM7 5h1v1h-1zM7 7h1v1h-1zM7 15h1v1h-1zM7 29h1v1h-1zM7 51h1v1h-1zM7 54h1v1h-1zM7 70h1v2h-1zM7 78h1v1h-1zM7 80h1v3h-1zM8 53h1v2h-1zM8 61h1v1h-1zM8 73h1v2h-1zM8 86h1v2h-1zM8 90h1v2h-1zM8 93h1v11h-1zM9 104h1v2h-1zM9 199h1v1h-1zM9 260h1v1h-1zM9 263h1v3h-1zM9 269h1v21h-1zM9 292h1v2h-1zM10 16h1v1h-1zM10 107h1v1h-1zM10 124h1v1h-1zM10 142h1v2h-1zM10 148h1v3h-1zM10 152h1v1h-1zM10 169h1v1h-1zM10 210h1v2h-1zM11 26h1v1h-1zM11 110h1v4h-1zM11 124h1v1h-1zM11 135h1v5h-1zM11 144h1v2h-1zM11 165h1v3h-1zM11 170h1v9h-1zM11 305h1v3h-1zM12 114h1v1h-1zM12 133h1v3h-1zM12 190h1v5h-1zM12 212h1v1h-1zM13 19h1v1h-1zM13 133h1v2h-1zM13 137h1v1h-1zM13 156h1v3h-1zM13 168h1v2h-1zM13 179h1v11h-1zM13 193h1v2h-1zM13 213h1v9h-1zM13 224h1v1h-1zM13 227h1v7h-1zM13 236h1v9h-1zM13 248h1v5h-1zM14 104h1v1h-1zM14 108h1v2h-1zM14 124h1v9h-1zM14 136h1v6h-1zM14 151h1v5h-1zM14 159h1v6h-1zM14 190h1v2h-1zM14 195h1v15h-1zM14 214h1v1h-1zM14 216h1v4h-1zM14 221h1v15h-1zM14 239h1v3h-1zM14 245h1v8h-1zM14 258h1v2h-1zM15 112h1v1h-1zM15 115h1v2h-1zM15 118h1v6h-1zM15 253h1v5h-1zM15 259h1v5h-1zM15 265h1v9h-1zM15 281h1v26h-1zM15 308h1v51h-1z"/>
</g>
<path d="M1083.8 163.5H1128.5M1091.2 168.5H1128.5M1091.2 173.4H1128.5M1091.2 168.5V173.4M1083.8 171H1091.2M1083.8 163.5V171M1078.5 167.2H1083.8M1078.5 178.4H1128.5M1078.5 167.2V178.4M1039.2 172.8H1078.5M1078.4 183.4H1128.5M1086.4 188.3H1128.5M1086.4 193.3H1128.5M1086.4 188.3V193.3M1078.4 190.8H1086.4M1078.4 183.4V190.8M1071.5 187.1H1078.4M1071.5 198.3H1128.5M1071.5 187.1V198.3M1039.2 192.7H1071.5M1039.2 172.8V192.7M1031.6 182.7H1039.2M1092.7 203.2H1128.5M1092.7 208.2H1128.5M1092.7 203.2V208.2M1072.4 205.7H1092.7M1099.1 213.1H1128.5M1099.1 218.1H1128.5M1099.1 213.1V218.1M1080.2 215.6H1099.1M1080.2 223.1H1128.5M1080.2 215.6V223.1M1077.4 219.3H1080.2M1086.5 228H1128.5M1086.5 233H1128.5M1086.5 228V233M1079.9 230.5H1086.5M1079.9 238H1128.5M1079.9 230.5V238M1077.4 234.2H1079.9M1077.4 219.3V234.2M1074.9 226.8H1077.4M1074.9 242.9H1128.5M1074.9 226.8V242.9M1072.4 234.9H1074.9M1072.4 205.7V234.9M1056.2 220.3H1072.4M1056.2 247.9H1128.5M1056.2 220.3V247.9M1041.5 234.1H1056.2M1060.1 252.9H1128.5M1095.4 257.8H1128.5M1095.4 262.8H1128.5M1095.4 257.8V262.8M1081.6 260.3H1095.4M1081.6 267.7H1128.5M1081.6 260.3V267.7M1073.2 264H1081.6M1086.4 272.7H1128.5M1086.4 277.7H1128.5M1086.4 272.7V277.7M1073.2 275.2H1086.4M1073.2 264V275.2M1060.1 269.6H1073.2M1060.1 252.9V269.6M1041.5 261.2H1060.1M1041.5 234.1V261.2M1037.2 247.7H1041.5M1093.7 282.6H1128.5M1093.7 287.6H1128.5M1093.7 282.6V287.6M1079 285.1H1093.7M1083.8 292.6H1128.5M1093.3 297.5H1128.5M1093.3 302.5H1128.5M1093.3 297.5V302.5M1090.8 300H1093.3M1090.8 307.4H1128.5M1090.8 300V307.4M1083.8 303.7H1090.8M1083.8 292.6V303.7M1079 298.1H1083.8M1079 285.1V298.1M1058.4 291.6H1079M1058.4 312.4H1128.5M1058.4 291.6V312.4M1037.2 302H1058.4M1037.2 247.7V302M1031.6 274.8H1037.2M1031.6 182.7V274.8M1023.2 228.8H1031.6M1051 317.4H1128.5M1067.5 322.3H1128.5M1091.8 327.3H1128.5M1091.8 332.3H1128.5M1091.8 327.3V332.3M1087 329.8H1091.8M1087 337.2H1128.5M1087 329.8V337.2M1067.5 333.5H1087M1067.5 322.3V333.5M1064.8 327.9H1067.5M1085.2 342.2H1128.5M1097.5 347.2H1128.5M1097.5 352.1H1128.5M1097.5 347.2V352.1M1085.2 349.6H1097.5M1085.2 342.2V349.6M1082.7 345.9H1085.2M1082.7 357.1H1128.5M1082.7 345.9V357.1M1064.8 351.5H1082.7M1064.8 327.9V351.5M1051 339.7H1064.8M1051 317.4V339.7M1033.6 328.5H1051M1086.6 362H1128.5M1086.6 367H1128.5M1086.6 362V367M1079.5 364.5H1086.6M1099.6 372H1128.5M1099.6 376.9H1128.5M1099.6 372V376.9M1082 374.5H1099.6M1082 381.9H1128.5M1082 374.5V381.9M1079.5 378.2H1082M1079.5 364.5V378.2M1063.4 371.4H1079.5M1065.9 386.9H1128.5M1070.9 391.8H1128.5M1073.4 396.8H1128.5M1099.2 401.8H1128.5M1099.2 406.7H1128.5M1099.2 401.8V406.7M1089.2 404.2H1099.2M1089.2 411.7H1128.5M1089.2 404.2V411.7M1073.4 408H1089.2M1073.4 396.8V408M1070.9 402.4H1073.4M1070.9 391.8V402.4M1068.4 397.1H1070.9M1068.4 416.6H1128.5M1068.4 397.1V416.6M1065.9 406.9H1068.4M1065.9 386.9V406.9M1063.4 396.9H1065.9M1063.4 371.4V396.9M1033.6 384.1H1063.4M1033.6 328.5V384.1M1023.2 356.3H1033.6M1023.2 228.8V356.3M1015.3 292.6H1023.2M1086.6 421.6H1128.5M1090.3 426.6H1128.5M1090.3 431.5H1128.5M1090.3 426.6V431.5M1086.6 429H1090.3M1086.6 421.6V429M1084.1 425.3H1086.6M1084.1 436.5H1128.5M1084.1 425.3V436.5M1025.7 430.9H1084.1M1085.9 441.5H1128.5M1085.9 446.4H1128.5M1085.9 441.5V446.4M1081.5 443.9H1085.9M1081.5 451.4H1128.5M1081.5 443.9V451.4M1065.3 447.7H1081.5M1091.5 456.3H1128.5M1094 461.3H1128.5M1094 466.3H1128.5M1094 461.3V466.3M1091.5 463.8H1094M1091.5 456.3V463.8M1065.3 460.1H1091.5M1065.3 447.7V460.1M1062.8 453.9H1065.3M1062.8 471.2H1128.5M1062.8 453.9V471.2M1041.7 462.6H1062.8M1078.8 476.2H1128.5M1094.7 481.2H1128.5M1094.7 486.1H1128.5M1094.7 481.2V486.1M1078.8 483.6H1094.7M1078.8 476.2V483.6M1060.3 479.9H1078.8M1075.8 491.1H1128.5M1089.7 496.1H1128.5M1089.7 501H1128.5M1089.7 496.1V501M1078.3 498.5H1089.7M1078.3 506H1128.5M1078.3 498.5V506M1075.8 502.3H1078.3M1075.8 491.1V502.3M1060.3 496.7H1075.8M1060.3 479.9V496.7M1045.7 488.3H1060.3M1058.6 510.9H1128.5M1087 515.9H1128.5M1087 520.9H1128.5M1087 515.9V520.9M1074.9 518.4H1087M1082.5 525.8H1128.5M1093.8 530.8H1128.5M1093.8 535.8H1128.5M1093.8 530.8V535.8M1089.2 533.3H1093.8M1089.2 540.7H1128.5M1089.2 533.3V540.7M1082.5 537H1089.2M1082.5 525.8V537M1074.9 531.4H1082.5M1074.9 518.4V531.4M1058.6 524.9H1074.9M1058.6 510.9V524.9M1054.7 517.9H1058.6M1076.9 545.7H1128.5M1094 550.7H1128.5M1094 555.6H1128.5M1094 550.7V555.6M1076.9 553.1H1094M1076.9 545.7V553.1M1054.7 549.4H1076.9M1054.7 517.9V549.4M1045.7 533.7H1054.7M1045.7 488.3V533.7M1041.7 511H1045.7M1041.7 462.6V511M1032.2 486.8H1041.7M1096.2 560.6H1128.5M1096.2 565.5H1128.5M1096.2 560.6V565.5M1073.1 563.1H1096.2M1097.7 570.5H1128.5M1097.7 575.5H1128.5M1097.7 570.5V575.5M1073.1 573H1097.7M1073.1 563.1V573M1070.6 568H1073.1M1070.6 580.4H1128.5M1070.6 568V580.4M1050.5 574.2H1070.6M1072.1 585.4H1128.5M1095.7 590.4H1128.5M1095.7 595.3H1128.5M1095.7 590.4V595.3M1077.3 592.8H1095.7M1077.3 600.3H1128.5M1077.3 592.8V600.3M1074.6 596.6H1077.3M1074.6 605.2H1128.5M1074.6 596.6V605.2M1072.1 600.9H1074.6M1072.1 585.4V600.9M1069.6 593.1H1072.1M1069.6 610.2H1128.5M1069.6 593.1V610.2M1050.5 601.7H1069.6M1050.5 574.2V601.7M1046.5 588H1050.5M1081.2 615.2H1128.5M1097.3 620.1H1128.5M1097.3 625.1H1128.5M1097.3 620.1V625.1M1081.2 622.6H1097.3M1081.2 615.2V622.6M1076.5 618.9H1081.2M1090.2 630.1H1128.5M1090.2 635H1128.5M1090.2 630.1V635M1081.5 632.5H1090.2M1081.5 640H1128.5M1081.5 632.5V640M1079 636.3H1081.5M1079 645H1128.5M1079 636.3V645M1076.5 640.6H1079M1076.5 618.9V640.6M1067.3 629.8H1076.5M1078.7 649.9H1128.5M1089.8 654.9H1128.5M1089.8 659.8H1128.5M1089.8 654.9V659.8M1078.7 657.4H1089.8M1078.7 649.9V657.4M1072.1 653.6H1078.7M1098.3 664.8H1128.5M1098.3 669.8H1128.5M1098.3 664.8V669.8M1072.1 667.3H1098.3M1072.1 653.6V667.3M1067.3 660.5H1072.1M1067.3 629.8V660.5M1050.5 645.1H1067.3M1050.5 674.7H1128.5M1050.5 645.1V674.7M1046.5 659.9H1050.5M1046.5 588V659.9M1032.2 623.9H1046.5M1032.2 486.8V623.9M1025.7 555.4H1032.2M1025.7 430.9V555.4M1015.3 493.1H1025.7M1015.3 292.6V493.1M987.4 392.8H1015.3M1106.8 679.7H1128.5M1106.8 684.7H1128.5M1106.8 679.7V684.7M1092.8 682.2H1106.8M1105.2 689.6H1128.5M1105.2 694.6H1128.5M1105.2 689.6V694.6M1099.2 692.1H1105.2M1099.2 699.5H1128.5M1099.2 692.1V699.5M1092.8 695.8H1099.2M1092.8 682.2V695.8M1083.7 689H1092.8M1110.6 704.5H1128.5M1110.6 709.5H1128.5M1110.6 704.5V709.5M1101.5 707H1110.6M1101.5 714.4H1128.5M1101.5 707V714.4M1093 710.7H1101.5M1093 719.4H1128.5M1093 710.7V719.4M1090.5 715.1H1093M1090.5 724.4H1128.5M1090.5 715.1V724.4M1088 719.7H1090.5M1088 729.3H1128.5M1088 719.7V729.3M1083.7 724.5H1088M1083.7 689V724.5M1052.5 706.8H1083.7M1072.4 734.3H1128.5M1100.4 739.3H1128.5M1102.9 744.2H1128.5M1108.1 749.2H1128.5M1108.1 754.1H1128.5M1108.1 749.2V754.1M1102.9 751.7H1108.1M1102.9 744.2V751.7M1100.4 747.9H1102.9M1100.4 739.3V747.9M1087.9 743.6H1100.4M1087.9 759.1H1128.5M1087.9 743.6V759.1M1085.4 751.4H1087.9M1103.4 764.1H1128.5M1103.4 769H1128.5M1103.4 764.1V769M1098.4 766.6H1103.4M1102.4 774H1128.5M1102.4 779H1128.5M1102.4 774V779M1098.4 776.5H1102.4M1098.4 766.6V776.5M1085.4 771.5H1098.4M1085.4 751.4V771.5M1082.7 761.4H1085.4M1093.4 783.9H1128.5M1096.8 788.9H1128.5M1100.7 793.9H1128.5M1106.6 798.8H1128.5M1106.6 803.8H1128.5M1106.6 798.8V803.8M1100.7 801.3H1106.6M1100.7 793.9V801.3M1096.8 797.6H1100.7M1096.8 788.9V797.6M1093.4 793.2H1096.8M1093.4 783.9V793.2M1082.7 788.6H1093.4M1082.7 761.4V788.6M1072.4 775H1082.7M1072.4 734.3V775M1052.5 754.7H1072.4M1052.5 706.8V754.7M1039 730.7H1052.5M1073.8 808.7H1128.5M1106.7 813.7H1128.5M1106.7 818.7H1128.5M1106.7 813.7V818.7M1092 816.2H1106.7M1102.8 823.6H1128.5M1106.4 828.6H1128.5M1106.4 833.6H1128.5M1106.4 828.6V833.6M1102.8 831.1H1106.4M1102.8 823.6V831.1M1100.3 827.4H1102.8M1100.3 838.5H1128.5M1100.3 827.4V838.5M1097 832.9H1100.3M1108.7 843.5H1128.5M1108.7 848.4H1128.5M1108.7 843.5V848.4M1097 846H1108.7M1097 832.9V846M1094.5 839.5H1097M1094.5 853.4H1128.5M1094.5 839.5V853.4M1092 846.4H1094.5M1092 816.2V846.4M1076.3 831.3H1092M1105.5 858.4H1128.5M1105.5 863.3H1128.5M1105.5 858.4V863.3M1100.8 860.9H1105.5M1103.3 868.3H1128.5M1103.3 873.3H1128.5M1103.3 868.3V873.3M1100.8 870.8H1103.3M1100.8 860.9V870.8M1098.3 865.8H1100.8M1098.3 878.2H1128.5M1098.3 865.8V878.2M1095.8 872H1098.3M1095.8 883.2H1128.5M1095.8 872V883.2M1076.3 877.6H1095.8M1076.3 831.3V877.6M1073.8 854.5H1076.3M1073.8 808.7V854.5M1049.8 831.6H1073.8M1082.2 888.2H1128.5M1087.2 893.1H1128.5M1092.2 898.1H1128.5M1094.7 903H1128.5M1110.3 908H1128.5M1110.3 913H1128.5M1110.3 908V913M1098 910.5H1110.3M1098 917.9H1128.5M1098 910.5V917.9M1094.7 914.2H1098M1094.7 903V914.2M1092.2 908.6H1094.7M1092.2 898.1V908.6M1089.7 903.4H1092.2M1107.7 922.9H1128.5M1107.7 927.9H1128.5M1107.7 922.9V927.9M1105.2 925.4H1107.7M1105.2 932.8H1128.5M1105.2 925.4V932.8M1089.7 929.1H1105.2M1089.7 903.4V929.1M1087.2 916.2H1089.7M1087.2 893.1V916.2M1084.7 904.7H1087.2M1098.7 937.8H1128.5M1106.8 942.8H1128.5M1106.8 947.7H1128.5M1106.8 942.8V947.7M1103.7 945.2H1106.8M1103.7 952.7H1128.5M1103.7 945.2V952.7M1101.2 949H1103.7M1101.2 957.6H1128.5M1101.2 949V957.6M1098.7 953.3H1101.2M1098.7 937.8V953.3M1084.7 945.5H1098.7M1084.7 904.7V945.5M1082.2 925.1H1084.7M1082.2 888.2V925.1M1077.1 906.6H1082.2M1105.6 962.6H1128.5M1105.6 967.6H1128.5M1105.6 962.6V967.6M1096.1 965.1H1105.6M1106.5 972.5H1128.5M1106.5 977.5H1128.5M1106.5 972.5V977.5M1096.1 975H1106.5M1096.1 965.1V975M1093.6 970.1H1096.1M1093.6 982.5H1128.5M1093.6 970.1V982.5M1087.7 976.3H1093.6M1087.7 987.4H1128.5M1087.7 976.3V987.4M1085.1 981.8H1087.7M1095.5 992.4H1128.5M1104.3 997.3H1128.5M1104.3 1002.3H1128.5M1104.3 997.3V1002.3M1095.5 999.8H1104.3M1095.5 992.4V999.8M1085.1 996.1H1095.5M1085.1 981.8V996.1M1082.6 989H1085.1M1104 1007.3H1128.5M1104 1012.2H1128.5M1104 1007.3V1012.2M1082.6 1009.8H1104M1082.6 989V1009.8M1077.1 999.4H1082.6M1077.1 906.6V999.4M1049.8 953H1077.1M1049.8 831.6V953M1039 892.3H1049.8M1039 730.7V892.3M1033 811.5H1039M1110.8 1017.2H1128.5M1110.8 1022.2H1128.5M1110.8 1017.2V1022.2M1098.4 1019.7H1110.8M1098.4 1027.1H1128.5M1098.4 1019.7V1027.1M1086.1 1023.4H1098.4M1102.6 1032.1H1128.5M1102.6 1037.1H1128.5M1102.6 1032.1V1037.1M1098.7 1034.6H1102.6M1105 1042H1128.5M1105 1047H1128.5M1105 1042V1047M1098.7 1044.5H1105M1098.7 1034.6V1044.5M1086.1 1039.5H1098.7M1086.1 1023.4V1039.5M1066.3 1031.5H1086.1M1098 1051.9H1128.5M1104.4 1056.9H1128.5M1104.4 1061.9H1128.5M1104.4 1056.9V1061.9M1098 1059.4H1104.4M1098 1051.9V1059.4M1090.9 1055.7H1098M1102.5 1066.8H1128.5M1106 1071.8H1128.5M1106 1076.8H1128.5M1106 1071.8V1076.8M1102.5 1074.3H1106M1102.5 1066.8V1074.3M1100 1070.6H1102.5M1100 1081.7H1128.5M1100 1070.6V1081.7M1090.9 1076.1H1100M1090.9 1055.7V1076.1M1081.8 1065.9H1090.9M1095.1 1086.7H1128.5M1098 1091.7H1128.5M1106.7 1096.6H1128.5M1106.7 1101.6H1128.5M1106.7 1096.6V1101.6M1098 1099.1H1106.7M1098 1091.7V1099.1M1095.1 1095.4H1098M1095.1 1086.7V1095.4M1087.1 1091H1095.1M1103.6 1106.5H1128.5M1107.7 1111.5H1128.5M1107.7 1116.5H1128.5M1107.7 1111.5V1116.5M1103.6 1114H1107.7M1103.6 1106.5V1114M1101.1 1110.3H1103.6M1101.1 1121.4H1128.5M1101.1 1110.3V1121.4M1087.1 1115.8H1101.1M1087.1 1091V1115.8M1081.8 1103.4H1087.1M1081.8 1065.9V1103.4M1066.3 1084.7H1081.8M1066.3 1031.5V1084.7M1053.5 1058.1H1066.3M1096.9 1126.4H1128.5M1101.9 1131.4H1128.5M1104.4 1136.3H1128.5M1106.9 1141.3H1128.5M1106.9 1146.2H1128.5M1106.9 1141.3V1146.2M1104.4 1143.8H1106.9M1104.4 1136.3V1143.8M1101.9 1140H1104.4M1101.9 1131.4V1140M1099.4 1135.7H1101.9M1110 1151.2H1128.5M1110 1156.2H1128.5M1110 1151.2V1156.2M1101.9 1153.7H1110M1110.1 1161.1H1128.5M1112.6 1166.1H1128.5M1112.6 1171.1H1128.5M1112.6 1166.1V1171.1M1110.1 1168.6H1112.6M1110.1 1161.1V1168.6M1107.6 1164.9H1110.1M1107.6 1176H1128.5M1107.6 1164.9V1176M1104.4 1170.4H1107.6M1108.8 1181H1128.5M1108.8 1186H1128.5M1108.8 1181V1186M1104.4 1183.5H1108.8M1104.4 1170.4V1183.5M1101.9 1177H1104.4M1101.9 1153.7V1177M1099.4 1165.3H1101.9M1099.4 1135.7V1165.3M1096.9 1150.5H1099.4M1096.9 1126.4V1150.5M1087.8 1138.5H1096.9M1087.8 1190.9H1128.5M1087.8 1138.5V1190.9M1085.3 1164.7H1087.8M1101.2 1195.9H1128.5M1103.7 1200.8H1128.5M1111.2 1205.8H1128.5M1113.8 1210.8H1128.5M1113.8 1215.7H1128.5M1113.8 1210.8V1215.7M1111.2 1213.3H1113.8M1111.2 1205.8V1213.3M1108.7 1209.5H1111.2M1108.7 1220.7H1128.5M1108.7 1209.5V1220.7M1106.2 1215.1H1108.7M1106.2 1225.7H1128.5M1106.2 1215.1V1225.7M1103.7 1220.4H1106.2M1103.7 1200.8V1220.4M1101.2 1210.6H1103.7M1101.2 1195.9V1210.6M1098.7 1203.2H1101.2M1098.7 1230.6H1128.5M1098.7 1203.2V1230.6M1088.5 1216.9H1098.7M1109.8 1235.6H1128.5M1109.8 1240.6H1128.5M1109.8 1235.6V1240.6M1107.3 1238.1H1109.8M1107.3 1245.5H1128.5M1107.3 1238.1V1245.5M1103.4 1241.8H1107.3M1105.9 1250.5H1128.5M1109.9 1255.4H1128.5M1109.9 1260.4H1128.5M1109.9 1255.4V1260.4M1105.9 1257.9H1109.9M1105.9 1250.5V1257.9M1103.4 1254.2H1105.9M1103.4 1241.8V1254.2M1088.5 1248H1103.4M1088.5 1216.9V1248M1085.3 1232.5H1088.5M1085.3 1164.7V1232.5M1053.5 1198.6H1085.3M1053.5 1058.1V1198.6M1033 1128.3H1053.5M1033 811.5V1128.3M1018.5 969.9H1033M1111.3 1265.4H1128.5M1111.3 1270.3H1128.5M1111.3 1265.4V1270.3M1099 1267.8H1111.3M1102 1275.3H1128.5M1107.3 1280.3H1128.5M1112.3 1285.2H1128.5M1112.3 1290.2H1128.5M1112.3 1285.2V1290.2M1109.8 1287.7H1112.3M1109.8 1295.1H1128.5M1109.8 1287.7V1295.1M1107.3 1291.4H1109.8M1107.3 1280.3V1291.4M1102 1285.8H1107.3M1102 1275.3V1285.8M1099 1280.6H1102M1099 1267.8V1280.6M1078.7 1274.2H1099M1094.8 1300.1H1128.5M1109.8 1305.1H1128.5M1112.3 1310H1128.5M1112.3 1315H1128.5M1112.3 1310V1315M1109.8 1312.5H1112.3M1109.8 1305.1V1312.5M1107.3 1308.8H1109.8M1107.3 1320H1128.5M1107.3 1308.8V1320M1104.8 1314.4H1107.3M1110.3 1324.9H1128.5M1110.3 1329.9H1128.5M1110.3 1324.9V1329.9M1104.8 1327.4H1110.3M1104.8 1314.4V1327.4M1102.3 1320.9H1104.8M1102.3 1334.9H1128.5M1102.3 1320.9V1334.9M1099.8 1327.9H1102.3M1107.9 1339.8H1128.5M1112.9 1344.8H1128.5M1112.9 1349.7H1128.5M1112.9 1344.8V1349.7M1110.4 1347.3H1112.9M1110.4 1354.7H1128.5M1110.4 1347.3V1354.7M1107.9 1351H1110.4M1107.9 1339.8V1351M1102.3 1345.4H1107.9M1104.8 1359.7H1128.5M1107.3 1364.6H1128.5M1114.8 1369.6H1128.5M1114.8 1374.6H1128.5M1114.8 1369.6V1374.6M1112.3 1372.1H1114.8M1112.3 1379.5H1128.5M1112.3 1372.1V1379.5M1109.8 1375.8H1112.3M1109.8 1384.5H1128.5M1109.8 1375.8V1384.5M1107.3 1380.1H1109.8M1107.3 1364.6V1380.1M1104.8 1372.4H1107.3M1104.8 1359.7V1372.4M1102.3 1366H1104.8M1102.3 1345.4V1366M1099.8 1355.7H1102.3M1099.8 1327.9V1355.7M1097.3 1341.8H1099.8M1097.3 1389.5H1128.5M1097.3 1341.8V1389.5M1094.8 1365.6H1097.3M1094.8 1300.1V1365.6M1092.3 1332.9H1094.8M1092.3 1394.4H1128.5M1092.3 1332.9V1394.4M1078.7 1363.6H1092.3M1078.7 1274.2V1363.6M1076.2 1318.9H1078.7M1076.2 1399.4H1128.5M1076.2 1318.9V1399.4M1059 1359.2H1076.2M1110.6 1404.3H1128.5M1110.6 1409.3H1128.5M1110.6 1404.3V1409.3M1099.6 1406.8H1110.6M1109.3 1414.3H1128.5M1109.3 1419.2H1128.5M1109.3 1414.3V1419.2M1099.6 1416.7H1109.3M1099.6 1406.8V1416.7M1092.6 1411.8H1099.6M1109 1424.2H1128.5M1109 1429.2H1128.5M1109 1424.2V1429.2M1103.5 1426.7H1109M1103.5 1434.1H1128.5M1103.5 1426.7V1434.1M1092.6 1430.4H1103.5M1092.6 1411.8V1430.4M1083.9 1421.1H1092.6M1096.2 1439.1H1128.5M1102.3 1444H1128.5M1112.3 1449H1128.5M1112.3 1454H1128.5M1112.3 1449V1454M1109.8 1451.5H1112.3M1109.8 1458.9H1128.5M1109.8 1451.5V1458.9M1107.3 1455.2H1109.8M1107.3 1463.9H1128.5M1107.3 1455.2V1463.9M1104.8 1459.6H1107.3M1104.8 1468.9H1128.5M1104.8 1459.6V1468.9M1102.3 1464.2H1104.8M1102.3 1444V1464.2M1099.2 1454.1H1102.3M1099.2 1473.8H1128.5M1099.2 1454.1V1473.8M1096.2 1464H1099.2M1096.2 1439.1V1464M1087.1 1451.5H1096.2M1087.1 1478.8H1128.5M1087.1 1451.5V1478.8M1083.9 1465.2H1087.1M1083.9 1421.1V1465.2M1070.2 1443.1H1083.9M1112.7 1483.8H1128.5M1112.7 1488.7H1128.5M1112.7 1483.8V1488.7M1110.2 1486.2H1112.7M1110.2 1493.7H1128.5M1110.2 1486.2V1493.7M1100 1490H1110.2M1110.6 1498.6H1128.5M1110.6 1503.6H1128.5M1110.6 1498.6V1503.6M1100 1501.1H1110.6M1100 1490V1501.1M1094.3 1495.5H1100M1108 1508.6H1128.5M1113 1513.5H1128.5M1113 1518.5H1128.5M1113 1513.5V1518.5M1110.5 1516H1113M1110.5 1523.5H1128.5M1110.5 1516V1523.5M1108 1519.7H1110.5M1108 1508.6V1519.7M1099.6 1514.2H1108M1108.4 1528.4H1128.5M1110.9 1533.4H1128.5M1110.9 1538.3H1128.5M1110.9 1533.4V1538.3M1108.4 1535.9H1110.9M1108.4 1528.4V1535.9M1099.6 1532.1H1108.4M1099.6 1514.2V1532.1M1094.3 1523.1H1099.6M1094.3 1495.5V1523.1M1090 1509.3H1094.3M1110.2 1543.3H1128.5M1117.9 1548.3H1128.5M1117.9 1553.2H1128.5M1117.9 1548.3V1553.2M1113.8 1550.8H1117.9M1116.9 1558.2H1128.5M1116.9 1563.2H1128.5M1116.9 1558.2V1563.2M1113.8 1560.7H1116.9M1113.8 1550.8V1560.7M1110.2 1555.7H1113.8M1110.2 1543.3V1555.7M1090 1549.5H1110.2M1090 1509.3V1549.5M1070.2 1529.4H1090M1070.2 1443.1V1529.4M1059 1486.3H1070.2M1059 1359.2V1486.3M1053.5 1422.7H1059M1111.8 1568.1H1128.5M1116.8 1573.1H1128.5M1119.3 1578.1H1128.5M1119.3 1583H1128.5M1119.3 1578.1V1583M1116.8 1580.5H1119.3M1116.8 1573.1V1580.5M1114.3 1576.8H1116.8M1114.3 1588H1128.5M1114.3 1576.8V1588M1111.8 1582.4H1114.3M1111.8 1568.1V1582.4M1107.8 1575.3H1111.8M1113.2 1592.9H1128.5M1115.9 1597.9H1128.5M1115.9 1602.9H1128.5M1115.9 1597.9V1602.9M1113.2 1600.4H1115.9M1113.2 1592.9V1600.4M1107.8 1596.7H1113.2M1107.8 1575.3V1596.7M1102.4 1586H1107.8M1102.4 1607.8H1128.5M1102.4 1586V1607.8M1099.9 1596.9H1102.4M1116.2 1612.8H1128.5M1116.2 1617.8H1128.5M1116.2 1612.8V1617.8M1113.7 1615.3H1116.2M1116.8 1622.7H1128.5M1116.8 1627.7H1128.5M1116.8 1622.7V1627.7M1113.7 1625.2H1116.8M1113.7 1615.3V1625.2M1099.9 1620.2H1113.7M1099.9 1596.9V1620.2M1097.4 1608.6H1099.9M1116.8 1632.7H1128.5M1116.8 1637.6H1128.5M1116.8 1632.7V1637.6M1114.3 1635.1H1116.8M1114.3 1642.6H1128.5M1114.3 1635.1V1642.6M1111.8 1638.9H1114.3M1111.8 1647.5H1128.5M1111.8 1638.9V1647.5M1109.3 1643.2H1111.8M1109.3 1652.5H1128.5M1109.3 1643.2V1652.5M1097.4 1647.9H1109.3M1097.4 1608.6V1647.9M1094.9 1628.2H1097.4M1094.9 1657.5H1128.5M1094.9 1628.2V1657.5M1063 1642.8H1094.9M1116.6 1662.4H1128.5M1116.6 1667.4H1128.5M1116.6 1662.4V1667.4M1112.2 1664.9H1116.6M1112.2 1672.4H1128.5M1112.2 1664.9V1672.4M1109.7 1668.6H1112.2M1112.2 1677.3H1128.5M1114.7 1682.3H1128.5M1118.2 1687.2H1128.5M1118.2 1692.2H1128.5M1118.2 1687.2V1692.2M1114.7 1689.7H1118.2M1114.7 1682.3V1689.7M1112.2 1686H1114.7M1112.2 1677.3V1686M1109.7 1681.7H1112.2M1109.7 1668.6V1681.7M1107.2 1675.2H1109.7M1107.2 1697.2H1128.5M1107.2 1675.2V1697.2M1100.8 1686.2H1107.2M1106.2 1702.1H1128.5M1115.2 1707.1H1128.5M1115.2 1712.1H1128.5M1115.2 1707.1V1712.1M1108.7 1709.6H1115.2M1113.7 1717H1128.5M1116.2 1722H1128.5M1116.2 1727H1128.5M1116.2 1722V1727M1113.7 1724.5H1116.2M1113.7 1717V1724.5M1111.2 1720.8H1113.7M1115.6 1731.9H1128.5M1115.6 1736.9H1128.5M1115.6 1731.9V1736.9M1111.2 1734.4H1115.6M1111.2 1720.8V1734.4M1108.7 1727.6H1111.2M1108.7 1709.6V1727.6M1106.2 1718.6H1108.7M1106.2 1702.1V1718.6M1100.8 1710.4H1106.2M1100.8 1686.2V1710.4M1098.3 1698.3H1100.8M1113.3 1741.8H1128.5M1117.6 1746.8H1128.5M1117.6 1751.8H1128.5M1117.6 1746.8V1751.8M1113.3 1749.3H1117.6M1113.3 1741.8V1749.3M1105.8 1745.6H1113.3M1108.3 1756.7H1128.5M1114 1761.7H1128.5M1116.5 1766.7H1128.5M1116.5 1771.6H1128.5M1116.5 1766.7V1771.6M1114 1769.1H1116.5M1114 1761.7V1769.1M1108.3 1765.4H1114M1108.3 1756.7V1765.4M1105.8 1761.1H1108.3M1105.8 1745.6V1761.1M1103.3 1753.3H1105.8M1103.3 1776.6H1128.5M1103.3 1753.3V1776.6M1100.8 1765H1103.3M1117.9 1781.6H1128.5M1117.9 1786.5H1128.5M1117.9 1781.6V1786.5M1115.4 1784H1117.9M1115.4 1791.5H1128.5M1115.4 1784V1791.5M1112.9 1787.8H1115.4M1112.9 1796.4H1128.5M1112.9 1787.8V1796.4M1110.4 1792.1H1112.9M1110.4 1801.4H1128.5M1110.4 1792.1V1801.4M1105.4 1796.8H1110.4M1107.9 1806.4H1128.5M1113.6 1811.3H1128.5M1116.1 1816.3H1128.5M1118.6 1821.3H1128.5M1121.1 1826.2H1128.5M1121.1 1831.2H1128.5M1121.1 1826.2V1831.2M1118.6 1828.7H1121.1M1118.6 1821.3V1828.7M1116.1 1825H1118.6M1116.1 1816.3V1825M1113.6 1820.6H1116.1M1113.6 1811.3V1820.6M1111.1 1816H1113.6M1111.1 1836.1H1128.5M1111.1 1816V1836.1M1107.9 1826.1H1111.1M1107.9 1806.4V1826.1M1105.4 1816.2H1107.9M1105.4 1796.8V1816.2M1100.8 1806.5H1105.4M1100.8 1765V1806.5M1098.3 1785.7H1100.8M1098.3 1698.3V1785.7M1091.4 1742H1098.3M1114 1841.1H1128.5M1114 1846.1H1128.5M1114 1841.1V1846.1M1106.3 1843.6H1114M1110.2 1851H1128.5M1113.6 1856H1128.5M1113.6 1861H1128.5M1113.6 1856V1861M1110.2 1858.5H1113.6M1110.2 1851V1858.5M1106.3 1854.8H1110.2M1106.3 1843.6V1854.8M1097.2 1849.2H1106.3M1116.1 1865.9H1128.5M1116.1 1870.9H1128.5M1116.1 1865.9V1870.9M1113.6 1868.4H1116.1M1113.6 1875.9H1128.5M1113.6 1868.4V1875.9M1099.7 1872.1H1113.6M1111.8 1880.8H1128.5M1119.3 1885.8H1128.5M1119.3 1890.7H1128.5M1119.3 1885.8V1890.7M1116.8 1888.3H1119.3M1116.8 1895.7H1128.5M1116.8 1888.3V1895.7M1114.3 1892H1116.8M1114.3 1900.7H1128.5M1114.3 1892V1900.7M1111.8 1896.3H1114.3M1111.8 1880.8V1896.3M1102.2 1888.6H1111.8M1110.7 1905.6H1128.5M1113.2 1910.6H1128.5M1117.6 1915.6H1128.5M1117.6 1920.5H1128.5M1117.6 1915.6V1920.5M1113.2 1918H1117.6M1113.2 1910.6V1918M1110.7 1914.3H1113.2M1110.7 1905.6V1914.3M1104.7 1910H1110.7M1113.7 1925.5H1128.5M1116.2 1930.5H1128.5M1116.2 1935.4H1128.5M1116.2 1930.5V1935.4M1113.7 1932.9H1116.2M1113.7 1925.5V1932.9M1109.9 1929.2H1113.7M1109.9 1940.4H1128.5M1109.9 1929.2V1940.4M1104.7 1934.8H1109.9M1104.7 1910V1934.8M1102.2 1922.4H1104.7M1102.2 1888.6V1922.4M1099.7 1905.5H1102.2M1099.7 1872.1V1905.5M1097.2 1888.8H1099.7M1097.2 1849.2V1888.8M1091.4 1869H1097.2M1091.4 1742V1869M1063 1805.5H1091.4M1063 1642.8V1805.5M1053.5 1724.2H1063M1053.5 1422.7V1724.2M1018.5 1573.4H1053.5M1018.5 969.9V1573.4M987.4 1271.7H1018.5M987.4 392.8V1271.7" fill="none" stroke="#222" stroke-width="1.1"/>
<path d="M1478 163.2H1519V676.7H1478M1478 681.6H1519V1941.9H1478" fill="none" stroke="#000" stroke-width="2.4"/>
<text x="1538" y="427.6" font-size="25" text-anchor="middle">1</text>
<text x="1538" y="1322.9" font-size="25" text-anchor="middle">2</text>
<text x="1147" y="1954.6" font-size="19.2" text-anchor="end" transform="rotate(-90 1147 1954.6)">C1</text>
<text x="1168.2" y="1954.6" font-size="19.2" text-anchor="end" transform="rotate(-90 1168.2 1954.6)">C2</text>
<text x="1189.4" y="1954.6" font-size="19.2" text-anchor="end" transform="rotate(-90 1189.4 1954.6)">C3</text>
<text x="1210.6" y="1954.6" font-size="19.2" text-anchor="end" transform="rotate(-90 1210.6 1954.6)">C9</text>
<text x="1231.8" y="1954.6" font-size="19.2" text-anchor="end" transform="rotate(-90 1231.8 1954.6)">C5</text>
<text x="1253" y="1954.6" font-size="19.2" text-anchor="end" transform="rotate(-90 1253 1954.6)">C4</text>
<text x="1274.2" y="1954.6" font-size="19.2" text-anchor="end" transform="rotate(-90 1274.2 1954.6)">C6</text>
<text x="1295.4" y="1954.6" font-size="19.2" text-anchor="end" transform="rotate(-90 1295.4 1954.6)">C7</text>
<text x="1316.6" y="1954.6" font-size="19.2" text-anchor="end" transform="rotate(-90 1316.6 1954.6)">C8</text>
<text x="1337.8" y="1954.6" font-size="19.2" text-anchor="end" transform="rotate(-90 1337.8 1954.6)">D1</text>
<text x="1359" y="1954.6" font-size="19.2" text-anchor="end" transform="rotate(-90 1359 1954.6)">D3</text>
<text x="1380.2" y="1954.6" font-size="19.2" text-anchor="end" transform="rotate(-90 1380.2 1954.6)">D6</text>
<text x="1401.4" y="1954.6" font-size="19.2" text-anchor="end" transform="rotate(-90 1401.4 1954.6)">D4</text>
<text x="1422.6" y="1954.6" font-size="19.2" text-anchor="end" transform="rotate(-90 1422.6 1954.6)">D2</text>
<text x="1443.8" y="1954.6" font-size="19.2" text-anchor="end" transform="rotate(-90 1443.8 1954.6)">D7</text>
<text x="1465" y="1954.6" font-size="19.2" text-anchor="end" transform="rotate(-90 1465 1954.6)">D5</text>
<rect x="1647.7" y="209.5" width="36.3" height="35.3" fill="#ee3f27"/>
<rect x="1647.7" y="275.2" width="36.3" height="34.6" fill="#0433ef"/>
<text x="1693.6" y="235.1" font-size="24.7">Infraoccluded</text>
<text x="1693.6" y="300.8" font-size="24.7">Non-infraoccluded</text>
<defs><linearGradient id="kg" x1="0" x2="1" y1="0" y2="0"><stop offset="0.000" stop-color="#191970"/><stop offset="0.125" stop-color="#273e71"/><stop offset="0.250" stop-color="#335e72"/><stop offset="0.375" stop-color="#498b78"/><stop offset="0.500" stop-color="#5aac77"/><stop offset="0.625" stop-color="#79c268"/><stop offset="0.750" stop-color="#a2d75c"/><stop offset="0.875" stop-color="#d1eb55"/><stop offset="1.000" stop-color="#ffff50"/></linearGradient></defs>
<rect x="1711.3" y="481.4" width="159.2" height="81.5" fill="url(#kg)"/>
<path d="M1711.7 554H1712.6V561.2H1721.5V561.2H1724.2V559.4H1729.6V561.2H1734.9V558.5H1740.3V555.8H1745.6V553.5H1748.3V551.3H1750.1V546H1753.6V543.3H1756.3V531.7H1759.9V521H1764.4V512.1H1767.9V507.6H1770.6V492.4H1776.8V491.5H1779.5V496.9H1781.3V513H1782.2V529.9H1784.9V526.4H1785.8V538.8H1788.4V534.4H1792V541.5H1797.4V543.3H1800.9V545.1H1806.3V548.7H1809.9V551.3H1815.2V548.7H1817.9V553.1H1827.7V552.2H1836.6V553.1H1843.8V557.6H1849.1V554H1850.9V557.6H1863.4V559.4H1869.7V558.5L1869.7 481.4" fill="none" stroke="#5cf0f0" stroke-width="1.9"/>
<path d="M1692 562.9H1871.3M1692 481.4H1711.3M1692 493H1711.3M1692 504.7H1711.3M1692 516.3H1711.3M1692 528H1711.3M1692 539.6H1711.3M1692 551.3H1711.3M1711.3 562.9V580.7M1751.1 562.9V580.7M1790.9 562.9V580.7M1830.7 562.9V580.7M1870.5 562.9V580.7" fill="none" stroke="#111" stroke-width="1.7"/>
<text x="1711.3" y="611.1" font-size="24.7" text-anchor="middle">-2</text>
<text x="1790.9" y="611.1" font-size="24.7" text-anchor="middle">0</text>
<text x="1870.5" y="611.1" font-size="24.7" text-anchor="middle">2</text>
<text x="1680" y="490.7" font-size="24.7" text-anchor="end">300</text>
<text x="1680" y="571.3" font-size="24.7" text-anchor="end">0</text>
<text x="1614.5" y="522.8" font-size="24.7" text-anchor="middle" transform="rotate(-90 1614.5 522.8)">Count</text>
<text x="1781" y="432.6" font-size="24.7" text-anchor="middle">Color key and</text>
<text x="1781" y="463" font-size="24.7" text-anchor="middle">histogram</text>
<text x="1791" y="654.9" font-size="24.7" text-anchor="middle">Value</text>
<text x="984.6" y="31.8" font-size="44" font-weight="bold" textLength="25.5" lengthAdjust="spacingAndGlyphs">b</text>
</g>
</svg>
</body></html>
